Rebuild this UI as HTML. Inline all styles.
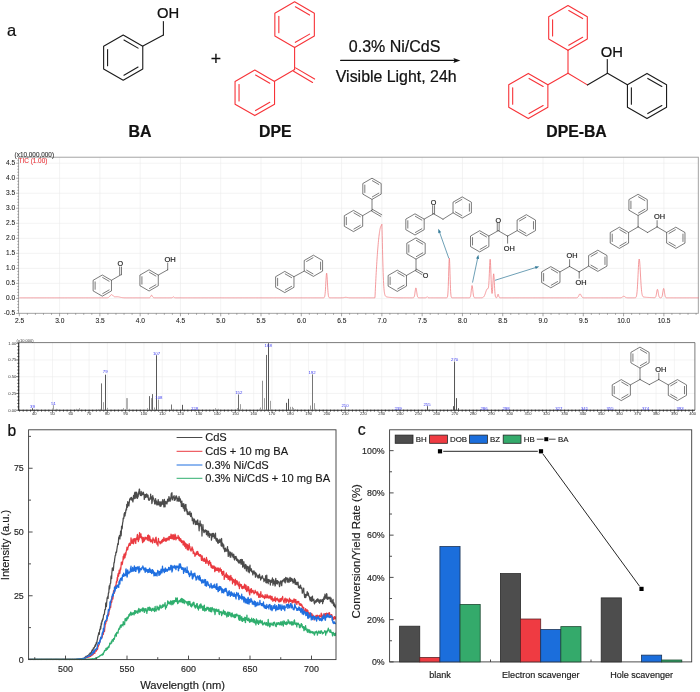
<!DOCTYPE html>
<html><head><meta charset="utf-8"><title>figure</title>
<style>html,body{margin:0;padding:0;background:#fff;}svg{display:block;font-family:"Liberation Sans",sans-serif;will-change:transform;filter:grayscale(0);}</style></head><body>
<svg width="700" height="692" viewBox="0 0 700 692">
<rect width="700" height="692" fill="#fff"/>
<g id="panel-a">
<text x="7" y="36.2" font-size="16.5" fill="#111" text-anchor="start" font-weight="normal" stroke="#111" stroke-width="0.22">a</text>
<path d="M123.2 35 L142.77 46.3 L142.77 68.9 L123.2 80.2 L103.63 68.9 L103.63 46.3 Z" fill="none" stroke="#1a1a1a" stroke-width="1.1" stroke-linejoin="round"/>
<line x1="123.96" y1="40.01" x2="138.05" y2="48.14" stroke="#1a1a1a" stroke-width="1.1" stroke-linecap="round"/>
<line x1="138.05" y1="67.06" x2="123.96" y2="75.19" stroke="#1a1a1a" stroke-width="1.1" stroke-linecap="round"/>
<line x1="107.58" y1="65.74" x2="107.58" y2="49.46" stroke="#1a1a1a" stroke-width="1.1" stroke-linecap="round"/>
<line x1="142.9" y1="46" x2="163.4" y2="34.9" stroke="#1a1a1a" stroke-width="1.1" stroke-linecap="round"/>
<line x1="163.4" y1="34.9" x2="163.4" y2="21.5" stroke="#1a1a1a" stroke-width="1.1" stroke-linecap="round"/>
<text x="157" y="18" font-size="14.8" fill="#111" text-anchor="start" font-weight="normal" stroke="#111" stroke-width="0.22">OH</text>
<text x="139.9" y="137.2" font-size="15.9" fill="#111" text-anchor="middle" font-weight="bold" stroke="#111" stroke-width="0.22">BA</text>
<text x="215.8" y="65.1" font-size="17.7" fill="#111" text-anchor="middle" font-weight="normal" stroke="#111" stroke-width="0.22">+</text>
<path d="M294.6 1.8 L314.35 13.2 L314.35 36 L294.6 47.4 L274.85 36 L274.85 13.2 Z" fill="none" stroke="#f73338" stroke-width="1.1" stroke-linejoin="round"/>
<line x1="295.37" y1="6.85" x2="309.59" y2="15.06" stroke="#f73338" stroke-width="1.1" stroke-linecap="round"/>
<line x1="309.59" y1="34.14" x2="295.37" y2="42.35" stroke="#f73338" stroke-width="1.1" stroke-linecap="round"/>
<line x1="278.84" y1="32.81" x2="278.84" y2="16.39" stroke="#f73338" stroke-width="1.1" stroke-linecap="round"/>
<line x1="294.6" y1="47.4" x2="294.6" y2="69.6" stroke="#f73338" stroke-width="1.1" stroke-linecap="round"/>
<path d="M254.8 70 L274.55 81.4 L274.55 104.2 L254.8 115.6 L235.05 104.2 L235.05 81.4 Z" fill="none" stroke="#f73338" stroke-width="1.1" stroke-linejoin="round"/>
<line x1="255.57" y1="75.05" x2="269.79" y2="83.26" stroke="#f73338" stroke-width="1.1" stroke-linecap="round"/>
<line x1="269.79" y1="102.34" x2="255.57" y2="110.55" stroke="#f73338" stroke-width="1.1" stroke-linecap="round"/>
<line x1="239.04" y1="101.01" x2="239.04" y2="84.59" stroke="#f73338" stroke-width="1.1" stroke-linecap="round"/>
<line x1="294.6" y1="69.6" x2="274.5" y2="81.3" stroke="#f73338" stroke-width="1.1" stroke-linecap="round"/>
<line x1="293.58" y1="71.32" x2="312.58" y2="82.52" stroke="#f73338" stroke-width="1.1" stroke-linecap="round"/>
<line x1="295.62" y1="67.88" x2="314.62" y2="79.08" stroke="#f73338" stroke-width="1.1" stroke-linecap="round"/>
<text x="275.3" y="137.2" font-size="15.8" fill="#111" text-anchor="middle" font-weight="bold" stroke="#111" stroke-width="0.22">DPE</text>
<line x1="340.6" y1="60.4" x2="455" y2="60.4" stroke="#111" stroke-width="1.1" stroke-linecap="round"/>
<path d="M460.4 60.4 L453.4 57.9 L454.6 60.4 L453.4 62.9 Z" fill="#111"/>
<text x="394.6" y="52" font-size="16" fill="#111" text-anchor="middle" font-weight="normal" stroke="#111" stroke-width="0.22">0.3% Ni/CdS</text>
<text x="396.2" y="81.8" font-size="15.9" fill="#111" text-anchor="middle" font-weight="normal" stroke="#111" stroke-width="0.22">Visible Light, 24h</text>
<path d="M568 5.6 L587.31 16.75 L587.31 39.05 L568 50.2 L548.69 39.05 L548.69 16.75 Z" fill="none" stroke="#f73338" stroke-width="1.1" stroke-linejoin="round"/>
<line x1="568.75" y1="10.54" x2="582.66" y2="18.57" stroke="#f73338" stroke-width="1.1" stroke-linecap="round"/>
<line x1="582.66" y1="37.23" x2="568.75" y2="45.26" stroke="#f73338" stroke-width="1.1" stroke-linecap="round"/>
<line x1="552.59" y1="35.93" x2="552.59" y2="19.87" stroke="#f73338" stroke-width="1.1" stroke-linecap="round"/>
<line x1="568" y1="50.2" x2="568" y2="73.3" stroke="#f73338" stroke-width="1.1" stroke-linecap="round"/>
<path d="M528.3 73.4 L547.87 84.7 L547.87 107.3 L528.3 118.6 L508.73 107.3 L508.73 84.7 Z" fill="none" stroke="#f73338" stroke-width="1.1" stroke-linejoin="round"/>
<line x1="529.06" y1="78.41" x2="543.15" y2="86.54" stroke="#f73338" stroke-width="1.1" stroke-linecap="round"/>
<line x1="543.15" y1="105.46" x2="529.06" y2="113.59" stroke="#f73338" stroke-width="1.1" stroke-linecap="round"/>
<line x1="512.68" y1="104.14" x2="512.68" y2="87.86" stroke="#f73338" stroke-width="1.1" stroke-linecap="round"/>
<line x1="568" y1="73.3" x2="547.9" y2="84.7" stroke="#f73338" stroke-width="1.1" stroke-linecap="round"/>
<line x1="568" y1="73.3" x2="587.4" y2="84.9" stroke="#f73338" stroke-width="1.1" stroke-linecap="round"/>
<line x1="587.4" y1="84.9" x2="607.5" y2="73.3" stroke="#1a1a1a" stroke-width="1.1" stroke-linecap="round"/>
<line x1="607.3" y1="73.3" x2="607.3" y2="59.6" stroke="#1a1a1a" stroke-width="1.1" stroke-linecap="round"/>
<text x="600.8" y="56.6" font-size="14.8" fill="#111" text-anchor="start" font-weight="normal" stroke="#111" stroke-width="0.22">OH</text>
<line x1="607.5" y1="73.3" x2="627.4" y2="84.7" stroke="#1a1a1a" stroke-width="1.1" stroke-linecap="round"/>
<path d="M647 73.4 L666.57 84.7 L666.57 107.3 L647 118.6 L627.43 107.3 L627.43 84.7 Z" fill="none" stroke="#1a1a1a" stroke-width="1.1" stroke-linejoin="round"/>
<line x1="647.76" y1="78.41" x2="661.85" y2="86.54" stroke="#1a1a1a" stroke-width="1.1" stroke-linecap="round"/>
<line x1="661.85" y1="105.46" x2="647.76" y2="113.59" stroke="#1a1a1a" stroke-width="1.1" stroke-linecap="round"/>
<line x1="631.38" y1="104.14" x2="631.38" y2="87.86" stroke="#1a1a1a" stroke-width="1.1" stroke-linecap="round"/>
<text x="576.5" y="136.6" font-size="15.8" fill="#111" text-anchor="middle" font-weight="bold" stroke="#111" stroke-width="0.22">DPE-BA</text>
</g>
<g id="gc">
<path d="M59.58 157.2V313.3M99.87 157.2V313.3M140.16 157.2V313.3M180.44 157.2V313.3M220.72 157.2V313.3M261.01 157.2V313.3M301.3 157.2V313.3M341.58 157.2V313.3M381.86 157.2V313.3M422.15 157.2V313.3M462.44 157.2V313.3M502.72 157.2V313.3M543 157.2V313.3M583.29 157.2V313.3M623.57 157.2V313.3M663.86 157.2V313.3M18.6 298.4H698.3M18.6 283.38H698.3M18.6 268.36H698.3M18.6 253.34H698.3M18.6 238.32H698.3M18.6 223.3H698.3M18.6 208.28H698.3M18.6 193.26H698.3M18.6 178.24H698.3M18.6 163.22H698.3" stroke="#ebebeb" stroke-width="0.6" fill="none"/>
<rect x="18.6" y="157.2" width="679.7" height="156.1" fill="none" stroke="#9a9a9a" stroke-width="0.9"/>
<path d="M19.3 313.3v3M27.36 313.3v1.5M35.41 313.3v1.5M43.47 313.3v1.5M51.53 313.3v1.5M59.58 313.3v3M67.64 313.3v1.5M75.7 313.3v1.5M83.76 313.3v1.5M91.81 313.3v1.5M99.87 313.3v3M107.93 313.3v1.5M115.98 313.3v1.5M124.04 313.3v1.5M132.1 313.3v1.5M140.16 313.3v3M148.21 313.3v1.5M156.27 313.3v1.5M164.33 313.3v1.5M172.38 313.3v1.5M180.44 313.3v3M188.5 313.3v1.5M196.55 313.3v1.5M204.61 313.3v1.5M212.67 313.3v1.5M220.72 313.3v3M228.78 313.3v1.5M236.84 313.3v1.5M244.9 313.3v1.5M252.95 313.3v1.5M261.01 313.3v3M269.07 313.3v1.5M277.12 313.3v1.5M285.18 313.3v1.5M293.24 313.3v1.5M301.3 313.3v3M309.35 313.3v1.5M317.41 313.3v1.5M325.47 313.3v1.5M333.52 313.3v1.5M341.58 313.3v3M349.64 313.3v1.5M357.69 313.3v1.5M365.75 313.3v1.5M373.81 313.3v1.5M381.86 313.3v3M389.92 313.3v1.5M397.98 313.3v1.5M406.04 313.3v1.5M414.09 313.3v1.5M422.15 313.3v3M430.21 313.3v1.5M438.26 313.3v1.5M446.32 313.3v1.5M454.38 313.3v1.5M462.44 313.3v3M470.49 313.3v1.5M478.55 313.3v1.5M486.61 313.3v1.5M494.66 313.3v1.5M502.72 313.3v3M510.78 313.3v1.5M518.83 313.3v1.5M526.89 313.3v1.5M534.95 313.3v1.5M543 313.3v3M551.06 313.3v1.5M559.12 313.3v1.5M567.18 313.3v1.5M575.23 313.3v1.5M583.29 313.3v3M591.35 313.3v1.5M599.4 313.3v1.5M607.46 313.3v1.5M615.52 313.3v1.5M623.57 313.3v3M631.63 313.3v1.5M639.69 313.3v1.5M647.75 313.3v1.5M655.8 313.3v1.5M663.86 313.3v3M671.92 313.3v1.5M679.97 313.3v1.5M688.03 313.3v1.5M696.09 313.3v1.5M18.6 313.42h-2.4M18.6 310.42h-1.3M18.6 307.41h-1.3M18.6 304.41h-1.3M18.6 301.4h-1.3M18.6 298.4h-2.4M18.6 295.4h-1.3M18.6 292.39h-1.3M18.6 289.39h-1.3M18.6 286.38h-1.3M18.6 283.38h-2.4M18.6 280.38h-1.3M18.6 277.37h-1.3M18.6 274.37h-1.3M18.6 271.36h-1.3M18.6 268.36h-2.4M18.6 265.36h-1.3M18.6 262.35h-1.3M18.6 259.35h-1.3M18.6 256.34h-1.3M18.6 253.34h-2.4M18.6 250.34h-1.3M18.6 247.33h-1.3M18.6 244.33h-1.3M18.6 241.32h-1.3M18.6 238.32h-2.4M18.6 235.32h-1.3M18.6 232.31h-1.3M18.6 229.31h-1.3M18.6 226.3h-1.3M18.6 223.3h-2.4M18.6 220.3h-1.3M18.6 217.29h-1.3M18.6 214.29h-1.3M18.6 211.28h-1.3M18.6 208.28h-2.4M18.6 205.28h-1.3M18.6 202.27h-1.3M18.6 199.27h-1.3M18.6 196.26h-1.3M18.6 193.26h-2.4M18.6 190.26h-1.3M18.6 187.25h-1.3M18.6 184.25h-1.3M18.6 181.24h-1.3M18.6 178.24h-2.4M18.6 175.24h-1.3M18.6 172.23h-1.3M18.6 169.23h-1.3M18.6 166.22h-1.3M18.6 163.22h-2.4M18.6 160.22h-1.3" stroke="#6a6a6a" stroke-width="0.6" fill="none"/>
<text x="19.5" y="323.2" font-size="6.6" fill="#262626" text-anchor="middle" font-weight="normal" stroke="#262626" stroke-width="0.1">2.5</text>
<text x="59.78" y="323.2" font-size="6.6" fill="#262626" text-anchor="middle" font-weight="normal" stroke="#262626" stroke-width="0.1">3.0</text>
<text x="100.07" y="323.2" font-size="6.6" fill="#262626" text-anchor="middle" font-weight="normal" stroke="#262626" stroke-width="0.1">3.5</text>
<text x="140.35" y="323.2" font-size="6.6" fill="#262626" text-anchor="middle" font-weight="normal" stroke="#262626" stroke-width="0.1">4.0</text>
<text x="180.64" y="323.2" font-size="6.6" fill="#262626" text-anchor="middle" font-weight="normal" stroke="#262626" stroke-width="0.1">4.5</text>
<text x="220.92" y="323.2" font-size="6.6" fill="#262626" text-anchor="middle" font-weight="normal" stroke="#262626" stroke-width="0.1">5.0</text>
<text x="261.21" y="323.2" font-size="6.6" fill="#262626" text-anchor="middle" font-weight="normal" stroke="#262626" stroke-width="0.1">5.5</text>
<text x="301.5" y="323.2" font-size="6.6" fill="#262626" text-anchor="middle" font-weight="normal" stroke="#262626" stroke-width="0.1">6.0</text>
<text x="341.78" y="323.2" font-size="6.6" fill="#262626" text-anchor="middle" font-weight="normal" stroke="#262626" stroke-width="0.1">6.5</text>
<text x="382.06" y="323.2" font-size="6.6" fill="#262626" text-anchor="middle" font-weight="normal" stroke="#262626" stroke-width="0.1">7.0</text>
<text x="422.35" y="323.2" font-size="6.6" fill="#262626" text-anchor="middle" font-weight="normal" stroke="#262626" stroke-width="0.1">7.5</text>
<text x="462.63" y="323.2" font-size="6.6" fill="#262626" text-anchor="middle" font-weight="normal" stroke="#262626" stroke-width="0.1">8.0</text>
<text x="502.92" y="323.2" font-size="6.6" fill="#262626" text-anchor="middle" font-weight="normal" stroke="#262626" stroke-width="0.1">8.5</text>
<text x="543.2" y="323.2" font-size="6.6" fill="#262626" text-anchor="middle" font-weight="normal" stroke="#262626" stroke-width="0.1">9.0</text>
<text x="583.49" y="323.2" font-size="6.6" fill="#262626" text-anchor="middle" font-weight="normal" stroke="#262626" stroke-width="0.1">9.5</text>
<text x="623.77" y="323.2" font-size="6.6" fill="#262626" text-anchor="middle" font-weight="normal" stroke="#262626" stroke-width="0.1">10.0</text>
<text x="664.06" y="323.2" font-size="6.6" fill="#262626" text-anchor="middle" font-weight="normal" stroke="#262626" stroke-width="0.1">10.5</text>
<text x="15.2" y="315.42" font-size="6.6" fill="#262626" text-anchor="end" font-weight="normal" stroke="#262626" stroke-width="0.1">-0.5</text>
<text x="15.2" y="300.4" font-size="6.6" fill="#262626" text-anchor="end" font-weight="normal" stroke="#262626" stroke-width="0.1">0.0</text>
<text x="15.2" y="285.38" font-size="6.6" fill="#262626" text-anchor="end" font-weight="normal" stroke="#262626" stroke-width="0.1">0.5</text>
<text x="15.2" y="270.36" font-size="6.6" fill="#262626" text-anchor="end" font-weight="normal" stroke="#262626" stroke-width="0.1">1.0</text>
<text x="15.2" y="255.34" font-size="6.6" fill="#262626" text-anchor="end" font-weight="normal" stroke="#262626" stroke-width="0.1">1.5</text>
<text x="15.2" y="240.32" font-size="6.6" fill="#262626" text-anchor="end" font-weight="normal" stroke="#262626" stroke-width="0.1">2.0</text>
<text x="15.2" y="225.3" font-size="6.6" fill="#262626" text-anchor="end" font-weight="normal" stroke="#262626" stroke-width="0.1">2.5</text>
<text x="15.2" y="210.28" font-size="6.6" fill="#262626" text-anchor="end" font-weight="normal" stroke="#262626" stroke-width="0.1">3.0</text>
<text x="15.2" y="195.26" font-size="6.6" fill="#262626" text-anchor="end" font-weight="normal" stroke="#262626" stroke-width="0.1">3.5</text>
<text x="15.2" y="180.24" font-size="6.6" fill="#262626" text-anchor="end" font-weight="normal" stroke="#262626" stroke-width="0.1">4.0</text>
<text x="15.2" y="165.22" font-size="6.6" fill="#262626" text-anchor="end" font-weight="normal" stroke="#262626" stroke-width="0.1">4.5</text>
<text x="14.6" y="156.6" font-size="6.4" fill="#333" text-anchor="start" font-weight="normal" stroke="#333" stroke-width="0.1">(x10,000,000)</text>
<text x="18.6" y="163" font-size="6.4" fill="#e8383d" text-anchor="start" font-weight="normal" stroke="#e8383d" stroke-width="0.1">TIC (1.00)</text>
<path d="M19.3 297.8 L19.46 297.8 L19.62 297.8 L19.78 297.8 L19.94 297.8 L20.11 297.8 L20.27 297.8 L20.43 297.8 L20.59 297.8 L20.75 297.8 L20.91 297.8 L21.07 297.8 L21.23 297.8 L21.39 297.8 L21.56 297.8 L21.72 297.8 L21.88 297.8 L22.04 297.8 L22.2 297.8 L22.36 297.8 L22.52 297.8 L22.68 297.8 L22.85 297.8 L23.01 297.8 L23.17 297.8 L23.33 297.8 L23.49 297.8 L23.65 297.8 L23.81 297.8 L23.97 297.8 L24.13 297.8 L24.3 297.8 L24.46 297.8 L24.62 297.8 L24.78 297.8 L24.94 297.8 L25.1 297.8 L25.26 297.8 L25.42 297.8 L25.58 297.8 L25.75 297.8 L25.91 297.8 L26.07 297.8 L26.23 297.8 L26.39 297.8 L26.55 297.8 L26.71 297.8 L26.87 297.8 L27.03 297.8 L27.2 297.8 L27.36 297.8 L27.52 297.8 L27.68 297.8 L27.84 297.8 L28 297.8 L28.16 297.8 L28.32 297.8 L28.48 297.8 L28.65 297.8 L28.81 297.8 L28.97 297.8 L29.13 297.8 L29.29 297.8 L29.45 297.8 L29.61 297.8 L29.77 297.8 L29.94 297.8 L30.1 297.8 L30.26 297.8 L30.42 297.8 L30.58 297.8 L30.74 297.8 L30.9 297.8 L31.06 297.8 L31.22 297.8 L31.39 297.8 L31.55 297.8 L31.71 297.8 L31.87 297.8 L32.03 297.8 L32.19 297.8 L32.35 297.8 L32.51 297.8 L32.67 297.8 L32.84 297.8 L33 297.8 L33.16 297.8 L33.32 297.8 L33.48 297.8 L33.64 297.8 L33.8 297.8 L33.96 297.8 L34.12 297.8 L34.29 297.8 L34.45 297.8 L34.61 297.8 L34.77 297.8 L34.93 297.8 L35.09 297.8 L35.25 297.8 L35.41 297.8 L35.58 297.8 L35.74 297.8 L35.9 297.8 L36.06 297.8 L36.22 297.8 L36.38 297.8 L36.54 297.8 L36.7 297.8 L36.86 297.8 L37.03 297.8 L37.19 297.8 L37.35 297.8 L37.51 297.8 L37.67 297.8 L37.83 297.8 L37.99 297.8 L38.15 297.8 L38.31 297.8 L38.48 297.8 L38.64 297.8 L38.8 297.8 L38.96 297.8 L39.12 297.8 L39.28 297.8 L39.44 297.8 L39.6 297.8 L39.76 297.8 L39.93 297.8 L40.09 297.8 L40.25 297.8 L40.41 297.8 L40.57 297.8 L40.73 297.8 L40.89 297.8 L41.05 297.8 L41.22 297.8 L41.38 297.8 L41.54 297.8 L41.7 297.8 L41.86 297.8 L42.02 297.8 L42.18 297.8 L42.34 297.8 L42.5 297.8 L42.67 297.8 L42.83 297.8 L42.99 297.8 L43.15 297.8 L43.31 297.8 L43.47 297.8 L43.63 297.8 L43.79 297.8 L43.95 297.8 L44.12 297.8 L44.28 297.8 L44.44 297.8 L44.6 297.8 L44.76 297.8 L44.92 297.8 L45.08 297.8 L45.24 297.8 L45.4 297.8 L45.57 297.8 L45.73 297.8 L45.89 297.8 L46.05 297.8 L46.21 297.8 L46.37 297.8 L46.53 297.8 L46.69 297.8 L46.85 297.8 L47.02 297.8 L47.18 297.8 L47.34 297.8 L47.5 297.8 L47.66 297.8 L47.82 297.8 L47.98 297.8 L48.14 297.8 L48.31 297.8 L48.47 297.8 L48.63 297.8 L48.79 297.8 L48.95 297.8 L49.11 297.8 L49.27 297.8 L49.43 297.8 L49.59 297.8 L49.76 297.8 L49.92 297.8 L50.08 297.8 L50.24 297.8 L50.4 297.8 L50.56 297.8 L50.72 297.8 L50.88 297.8 L51.04 297.8 L51.21 297.8 L51.37 297.8 L51.53 297.8 L51.69 297.8 L51.85 297.8 L52.01 297.8 L52.17 297.8 L52.33 297.8 L52.49 297.8 L52.66 297.8 L52.82 297.8 L52.98 297.8 L53.14 297.8 L53.3 297.8 L53.46 297.8 L53.62 297.8 L53.78 297.8 L53.95 297.8 L54.11 297.8 L54.27 297.8 L54.43 297.8 L54.59 297.8 L54.75 297.8 L54.91 297.8 L55.07 297.8 L55.23 297.8 L55.4 297.8 L55.56 297.8 L55.72 297.8 L55.88 297.8 L56.04 297.8 L56.2 297.8 L56.36 297.8 L56.52 297.8 L56.68 297.8 L56.85 297.8 L57.01 297.8 L57.17 297.8 L57.33 297.8 L57.49 297.8 L57.65 297.8 L57.81 297.8 L57.97 297.8 L58.13 297.8 L58.3 297.8 L58.46 297.8 L58.62 297.8 L58.78 297.8 L58.94 297.8 L59.1 297.8 L59.26 297.8 L59.42 297.8 L59.58 297.8 L59.75 297.8 L59.91 297.8 L60.07 297.8 L60.23 297.8 L60.39 297.8 L60.55 297.8 L60.71 297.8 L60.87 297.8 L61.04 297.8 L61.2 297.8 L61.36 297.8 L61.52 297.8 L61.68 297.8 L61.84 297.8 L62 297.8 L62.16 297.8 L62.32 297.8 L62.49 297.8 L62.65 297.8 L62.81 297.8 L62.97 297.8 L63.13 297.8 L63.29 297.8 L63.45 297.8 L63.61 297.8 L63.77 297.8 L63.94 297.8 L64.1 297.8 L64.26 297.8 L64.42 297.8 L64.58 297.8 L64.74 297.8 L64.9 297.8 L65.06 297.8 L65.22 297.8 L65.39 297.8 L65.55 297.8 L65.71 297.8 L65.87 297.8 L66.03 297.8 L66.19 297.8 L66.35 297.8 L66.51 297.8 L66.68 297.8 L66.84 297.8 L67 297.8 L67.16 297.8 L67.32 297.8 L67.48 297.8 L67.64 297.8 L67.8 297.8 L67.96 297.8 L68.13 297.8 L68.29 297.8 L68.45 297.8 L68.61 297.8 L68.77 297.8 L68.93 297.8 L69.09 297.8 L69.25 297.8 L69.41 297.8 L69.58 297.8 L69.74 297.8 L69.9 297.8 L70.06 297.8 L70.22 297.8 L70.38 297.8 L70.54 297.8 L70.7 297.8 L70.86 297.8 L71.03 297.8 L71.19 297.8 L71.35 297.8 L71.51 297.8 L71.67 297.8 L71.83 297.8 L71.99 297.8 L72.15 297.8 L72.32 297.8 L72.48 297.8 L72.64 297.8 L72.8 297.8 L72.96 297.8 L73.12 297.8 L73.28 297.8 L73.44 297.8 L73.6 297.8 L73.77 297.8 L73.93 297.8 L74.09 297.8 L74.25 297.8 L74.41 297.8 L74.57 297.8 L74.73 297.8 L74.89 297.8 L75.05 297.8 L75.22 297.8 L75.38 297.8 L75.54 297.8 L75.7 297.8 L75.86 297.8 L76.02 297.8 L76.18 297.8 L76.34 297.8 L76.5 297.8 L76.67 297.8 L76.83 297.8 L76.99 297.8 L77.15 297.8 L77.31 297.8 L77.47 297.8 L77.63 297.8 L77.79 297.8 L77.95 297.8 L78.12 297.8 L78.28 297.8 L78.44 297.8 L78.6 297.8 L78.76 297.8 L78.92 297.8 L79.08 297.8 L79.24 297.8 L79.41 297.8 L79.57 297.8 L79.73 297.8 L79.89 297.8 L80.05 297.8 L80.21 297.8 L80.37 297.8 L80.53 297.8 L80.69 297.8 L80.86 297.8 L81.02 297.8 L81.18 297.8 L81.34 297.8 L81.5 297.8 L81.66 297.8 L81.82 297.8 L81.98 297.8 L82.14 297.8 L82.31 297.8 L82.47 297.8 L82.63 297.8 L82.79 297.8 L82.95 297.8 L83.11 297.8 L83.27 297.8 L83.43 297.8 L83.59 297.8 L83.76 297.8 L83.92 297.8 L84.08 297.8 L84.24 297.8 L84.4 297.8 L84.56 297.8 L84.72 297.8 L84.88 297.8 L85.05 297.8 L85.21 297.8 L85.37 297.8 L85.53 297.8 L85.69 297.8 L85.85 297.8 L86.01 297.8 L86.17 297.8 L86.33 297.8 L86.5 297.8 L86.66 297.8 L86.82 297.8 L86.98 297.8 L87.14 297.8 L87.3 297.8 L87.46 297.8 L87.62 297.8 L87.78 297.8 L87.95 297.8 L88.11 297.8 L88.27 297.8 L88.43 297.8 L88.59 297.8 L88.75 297.8 L88.91 297.8 L89.07 297.8 L89.23 297.8 L89.4 297.8 L89.56 297.8 L89.72 297.8 L89.88 297.8 L90.04 297.8 L90.2 297.8 L90.36 297.8 L90.52 297.8 L90.69 297.8 L90.85 297.8 L91.01 297.8 L91.17 297.8 L91.33 297.8 L91.49 297.8 L91.65 297.8 L91.81 297.8 L91.97 297.8 L92.14 297.8 L92.3 297.8 L92.46 297.8 L92.62 297.8 L92.78 297.8 L92.94 297.8 L93.1 297.8 L93.26 297.8 L93.42 297.8 L93.59 297.8 L93.75 297.8 L93.91 297.8 L94.07 297.8 L94.23 297.8 L94.39 297.8 L94.55 297.8 L94.71 297.8 L94.87 297.8 L95.04 297.8 L95.2 297.8 L95.36 297.8 L95.52 297.8 L95.68 297.8 L95.84 297.8 L96 297.8 L96.16 297.8 L96.32 297.8 L96.49 297.8 L96.65 297.8 L96.81 297.8 L96.97 297.8 L97.13 297.8 L97.29 297.8 L97.45 297.8 L97.61 297.8 L97.78 297.8 L97.94 297.8 L98.1 297.8 L98.26 297.8 L98.42 297.8 L98.58 297.8 L98.74 297.8 L98.9 297.8 L99.06 297.8 L99.23 297.8 L99.39 297.8 L99.55 297.8 L99.71 297.8 L99.87 297.8 L100.03 297.8 L100.19 297.8 L100.35 297.8 L100.51 297.8 L100.68 297.8 L100.84 297.8 L101 297.8 L101.16 297.8 L101.32 297.8 L101.48 297.8 L101.64 297.8 L101.8 297.8 L101.96 297.8 L102.13 297.8 L102.29 297.8 L102.45 297.8 L102.61 297.8 L102.77 297.8 L102.93 297.8 L103.09 297.8 L103.25 297.8 L103.42 297.8 L103.58 297.8 L103.74 297.8 L103.9 297.8 L104.06 297.8 L104.22 297.8 L104.38 297.8 L104.54 297.8 L104.7 297.8 L104.87 297.8 L105.03 297.8 L105.19 297.8 L105.35 297.8 L105.51 297.8 L105.67 297.8 L105.83 297.8 L105.99 297.8 L106.15 297.8 L106.32 297.79 L106.48 297.79 L106.64 297.79 L106.8 297.78 L106.96 297.78 L107.12 297.77 L107.28 297.75 L107.44 297.74 L107.6 297.72 L107.77 297.69 L107.93 297.65 L108.09 297.61 L108.25 297.55 L108.41 297.48 L108.57 297.4 L108.73 297.31 L108.89 297.19 L109.05 297.06 L109.22 296.92 L109.38 296.76 L109.54 296.58 L109.7 296.39 L109.86 296.19 L110.02 295.98 L110.18 295.77 L110.34 295.56 L110.51 295.36 L110.67 295.18 L110.83 295.02 L110.99 294.88 L111.15 294.76 L111.31 294.69 L111.47 294.64 L111.63 294.63 L111.79 294.66 L111.96 294.72 L112.12 294.81 L112.28 294.93 L112.44 295.06 L112.6 295.22 L112.76 295.38 L112.92 295.56 L113.08 295.73 L113.24 295.89 L113.41 296.05 L113.57 296.19 L113.73 296.33 L113.89 296.44 L114.05 296.54 L114.21 296.62 L114.37 296.69 L114.53 296.74 L114.69 296.77 L114.86 296.8 L115.02 296.81 L115.18 296.82 L115.34 296.82 L115.5 296.82 L115.66 296.81 L115.82 296.8 L115.98 296.79 L116.15 296.78 L116.31 296.77 L116.47 296.76 L116.63 296.75 L116.79 296.75 L116.95 296.75 L117.11 296.75 L117.27 296.75 L117.43 296.76 L117.6 296.77 L117.76 296.79 L117.92 296.8 L118.08 296.82 L118.24 296.85 L118.4 296.87 L118.56 296.9 L118.72 296.93 L118.88 296.96 L119.05 296.99 L119.21 297.03 L119.37 297.06 L119.53 297.1 L119.69 297.13 L119.85 297.17 L120.01 297.21 L120.17 297.24 L120.33 297.28 L120.5 297.31 L120.66 297.35 L120.82 297.38 L120.98 297.41 L121.14 297.44 L121.3 297.47 L121.46 297.5 L121.62 297.53 L121.79 297.55 L121.95 297.57 L122.11 297.6 L122.27 297.62 L122.43 297.64 L122.59 297.65 L122.75 297.67 L122.91 297.68 L123.07 297.7 L123.24 297.71 L123.4 297.72 L123.56 297.73 L123.72 297.74 L123.88 297.75 L124.04 297.75 L124.2 297.76 L124.36 297.76 L124.52 297.77 L124.69 297.77 L124.85 297.78 L125.01 297.78 L125.17 297.78 L125.33 297.79 L125.49 297.79 L125.65 297.79 L125.81 297.79 L125.97 297.79 L126.14 297.79 L126.3 297.79 L126.46 297.8 L126.62 297.8 L126.78 297.8 L126.94 297.8 L127.1 297.8 L127.26 297.8 L127.42 297.8 L127.59 297.8 L127.75 297.8 L127.91 297.8 L128.07 297.8 L128.23 297.8 L128.39 297.8 L128.55 297.8 L128.71 297.8 L128.88 297.8 L129.04 297.8 L129.2 297.8 L129.36 297.8 L129.52 297.8 L129.68 297.8 L129.84 297.8 L130 297.8 L130.16 297.8 L130.33 297.8 L130.49 297.8 L130.65 297.8 L130.81 297.8 L130.97 297.8 L131.13 297.8 L131.29 297.8 L131.45 297.8 L131.61 297.8 L131.78 297.8 L131.94 297.8 L132.1 297.8 L132.26 297.8 L132.42 297.8 L132.58 297.8 L132.74 297.8 L132.9 297.8 L133.06 297.8 L133.23 297.8 L133.39 297.8 L133.55 297.8 L133.71 297.8 L133.87 297.8 L134.03 297.8 L134.19 297.8 L134.35 297.8 L134.52 297.8 L134.68 297.8 L134.84 297.8 L135 297.8 L135.16 297.8 L135.32 297.8 L135.48 297.8 L135.64 297.8 L135.8 297.8 L135.97 297.8 L136.13 297.8 L136.29 297.8 L136.45 297.8 L136.61 297.8 L136.77 297.8 L136.93 297.8 L137.09 297.8 L137.25 297.8 L137.42 297.8 L137.58 297.8 L137.74 297.8 L137.9 297.8 L138.06 297.8 L138.22 297.8 L138.38 297.8 L138.54 297.8 L138.7 297.8 L138.87 297.8 L139.03 297.8 L139.19 297.8 L139.35 297.8 L139.51 297.8 L139.67 297.8 L139.83 297.8 L139.99 297.8 L140.15 297.8 L140.32 297.8 L140.48 297.8 L140.64 297.8 L140.8 297.8 L140.96 297.8 L141.12 297.8 L141.28 297.8 L141.44 297.8 L141.61 297.8 L141.77 297.8 L141.93 297.8 L142.09 297.8 L142.25 297.8 L142.41 297.8 L142.57 297.8 L142.73 297.8 L142.89 297.8 L143.06 297.8 L143.22 297.8 L143.38 297.8 L143.54 297.8 L143.7 297.8 L143.86 297.8 L144.02 297.8 L144.18 297.8 L144.34 297.8 L144.51 297.8 L144.67 297.8 L144.83 297.8 L144.99 297.8 L145.15 297.8 L145.31 297.8 L145.47 297.8 L145.63 297.8 L145.79 297.8 L145.96 297.8 L146.12 297.8 L146.28 297.8 L146.44 297.8 L146.6 297.8 L146.76 297.8 L146.92 297.8 L147.08 297.8 L147.25 297.8 L147.41 297.8 L147.57 297.8 L147.73 297.8 L147.89 297.8 L148.05 297.8 L148.21 297.8 L148.37 297.8 L148.53 297.8 L148.7 297.8 L148.86 297.79 L149.02 297.79 L149.18 297.77 L149.34 297.76 L149.5 297.72 L149.66 297.67 L149.82 297.6 L149.98 297.49 L150.15 297.34 L150.31 297.14 L150.47 296.91 L150.63 296.63 L150.79 296.33 L150.95 296.02 L151.11 295.73 L151.27 295.49 L151.43 295.32 L151.6 295.25 L151.76 295.27 L151.92 295.4 L152.08 295.6 L152.24 295.87 L152.4 296.17 L152.56 296.48 L152.72 296.77 L152.89 297.03 L153.05 297.25 L153.21 297.42 L153.37 297.55 L153.53 297.64 L153.69 297.7 L153.85 297.74 L154.01 297.77 L154.17 297.78 L154.34 297.79 L154.5 297.79 L154.66 297.8 L154.82 297.8 L154.98 297.8 L155.14 297.8 L155.3 297.8 L155.46 297.8 L155.62 297.8 L155.79 297.8 L155.95 297.8 L156.11 297.8 L156.27 297.8 L156.43 297.8 L156.59 297.8 L156.75 297.8 L156.91 297.8 L157.07 297.8 L157.24 297.8 L157.4 297.8 L157.56 297.8 L157.72 297.8 L157.88 297.8 L158.04 297.8 L158.2 297.8 L158.36 297.8 L158.52 297.8 L158.69 297.8 L158.85 297.8 L159.01 297.8 L159.17 297.8 L159.33 297.8 L159.49 297.8 L159.65 297.8 L159.81 297.8 L159.98 297.8 L160.14 297.8 L160.3 297.8 L160.46 297.8 L160.62 297.8 L160.78 297.8 L160.94 297.8 L161.1 297.8 L161.26 297.8 L161.43 297.8 L161.59 297.8 L161.75 297.8 L161.91 297.8 L162.07 297.8 L162.23 297.8 L162.39 297.8 L162.55 297.8 L162.71 297.8 L162.88 297.8 L163.04 297.8 L163.2 297.8 L163.36 297.8 L163.52 297.8 L163.68 297.8 L163.84 297.8 L164 297.8 L164.16 297.8 L164.33 297.8 L164.49 297.8 L164.65 297.8 L164.81 297.8 L164.97 297.8 L165.13 297.8 L165.29 297.8 L165.45 297.8 L165.62 297.8 L165.78 297.8 L165.94 297.8 L166.1 297.8 L166.26 297.8 L166.42 297.8 L166.58 297.8 L166.74 297.8 L166.9 297.8 L167.07 297.8 L167.23 297.8 L167.39 297.8 L167.55 297.8 L167.71 297.8 L167.87 297.8 L168.03 297.8 L168.19 297.8 L168.35 297.8 L168.52 297.8 L168.68 297.8 L168.84 297.8 L169 297.8 L169.16 297.8 L169.32 297.8 L169.48 297.8 L169.64 297.8 L169.8 297.8 L169.97 297.8 L170.13 297.8 L170.29 297.8 L170.45 297.8 L170.61 297.8 L170.77 297.8 L170.93 297.8 L171.09 297.8 L171.26 297.8 L171.42 297.79 L171.58 297.78 L171.74 297.77 L171.9 297.74 L172.06 297.69 L172.22 297.62 L172.38 297.53 L172.54 297.42 L172.71 297.29 L172.87 297.15 L173.03 297.03 L173.19 296.94 L173.35 296.9 L173.51 296.91 L173.67 296.98 L173.83 297.09 L173.99 297.22 L174.16 297.35 L174.32 297.48 L174.48 297.58 L174.64 297.66 L174.8 297.72 L174.96 297.75 L175.12 297.77 L175.28 297.79 L175.44 297.79 L175.61 297.8 L175.77 297.8 L175.93 297.8 L176.09 297.8 L176.25 297.8 L176.41 297.8 L176.57 297.8 L176.73 297.8 L176.89 297.8 L177.06 297.8 L177.22 297.8 L177.38 297.8 L177.54 297.8 L177.7 297.8 L177.86 297.8 L178.02 297.8 L178.18 297.8 L178.35 297.8 L178.51 297.8 L178.67 297.8 L178.83 297.8 L178.99 297.8 L179.15 297.8 L179.31 297.8 L179.47 297.8 L179.63 297.8 L179.8 297.8 L179.96 297.8 L180.12 297.8 L180.28 297.8 L180.44 297.8 L180.6 297.8 L180.76 297.8 L180.92 297.8 L181.08 297.8 L181.25 297.8 L181.41 297.8 L181.57 297.8 L181.73 297.8 L181.89 297.8 L182.05 297.8 L182.21 297.8 L182.37 297.8 L182.53 297.8 L182.7 297.8 L182.86 297.8 L183.02 297.8 L183.18 297.8 L183.34 297.8 L183.5 297.8 L183.66 297.8 L183.82 297.8 L183.99 297.8 L184.15 297.8 L184.31 297.8 L184.47 297.8 L184.63 297.8 L184.79 297.8 L184.95 297.8 L185.11 297.8 L185.27 297.8 L185.44 297.8 L185.6 297.8 L185.76 297.8 L185.92 297.8 L186.08 297.8 L186.24 297.8 L186.4 297.8 L186.56 297.8 L186.72 297.8 L186.89 297.8 L187.05 297.8 L187.21 297.8 L187.37 297.8 L187.53 297.8 L187.69 297.8 L187.85 297.8 L188.01 297.8 L188.17 297.8 L188.34 297.8 L188.5 297.8 L188.66 297.8 L188.82 297.8 L188.98 297.8 L189.14 297.8 L189.3 297.8 L189.46 297.8 L189.62 297.8 L189.79 297.8 L189.95 297.8 L190.11 297.8 L190.27 297.8 L190.43 297.8 L190.59 297.8 L190.75 297.8 L190.91 297.8 L191.08 297.8 L191.24 297.8 L191.4 297.8 L191.56 297.8 L191.72 297.8 L191.88 297.8 L192.04 297.8 L192.2 297.8 L192.36 297.8 L192.53 297.8 L192.69 297.8 L192.85 297.8 L193.01 297.8 L193.17 297.8 L193.33 297.8 L193.49 297.8 L193.65 297.8 L193.81 297.8 L193.98 297.8 L194.14 297.8 L194.3 297.8 L194.46 297.8 L194.62 297.8 L194.78 297.8 L194.94 297.8 L195.1 297.8 L195.26 297.8 L195.43 297.8 L195.59 297.8 L195.75 297.8 L195.91 297.8 L196.07 297.8 L196.23 297.8 L196.39 297.8 L196.55 297.8 L196.72 297.8 L196.88 297.8 L197.04 297.8 L197.2 297.8 L197.36 297.8 L197.52 297.8 L197.68 297.8 L197.84 297.8 L198 297.8 L198.17 297.8 L198.33 297.8 L198.49 297.8 L198.65 297.8 L198.81 297.8 L198.97 297.8 L199.13 297.8 L199.29 297.8 L199.45 297.8 L199.62 297.8 L199.78 297.8 L199.94 297.8 L200.1 297.8 L200.26 297.8 L200.42 297.8 L200.58 297.8 L200.74 297.8 L200.9 297.8 L201.07 297.8 L201.23 297.8 L201.39 297.8 L201.55 297.8 L201.71 297.8 L201.87 297.8 L202.03 297.8 L202.19 297.8 L202.36 297.8 L202.52 297.8 L202.68 297.8 L202.84 297.8 L203 297.8 L203.16 297.8 L203.32 297.8 L203.48 297.8 L203.64 297.8 L203.81 297.8 L203.97 297.8 L204.13 297.8 L204.29 297.8 L204.45 297.8 L204.61 297.8 L204.77 297.8 L204.93 297.8 L205.09 297.8 L205.26 297.8 L205.42 297.8 L205.58 297.8 L205.74 297.8 L205.9 297.8 L206.06 297.8 L206.22 297.8 L206.38 297.8 L206.54 297.8 L206.71 297.8 L206.87 297.8 L207.03 297.8 L207.19 297.8 L207.35 297.8 L207.51 297.8 L207.67 297.8 L207.83 297.8 L207.99 297.8 L208.16 297.8 L208.32 297.8 L208.48 297.8 L208.64 297.8 L208.8 297.8 L208.96 297.8 L209.12 297.8 L209.28 297.8 L209.45 297.8 L209.61 297.8 L209.77 297.8 L209.93 297.8 L210.09 297.8 L210.25 297.8 L210.41 297.8 L210.57 297.8 L210.73 297.8 L210.9 297.8 L211.06 297.8 L211.22 297.8 L211.38 297.8 L211.54 297.8 L211.7 297.8 L211.86 297.8 L212.02 297.8 L212.18 297.8 L212.35 297.8 L212.51 297.8 L212.67 297.8 L212.83 297.8 L212.99 297.8 L213.15 297.8 L213.31 297.8 L213.47 297.8 L213.63 297.8 L213.8 297.8 L213.96 297.8 L214.12 297.8 L214.28 297.8 L214.44 297.8 L214.6 297.8 L214.76 297.8 L214.92 297.8 L215.09 297.8 L215.25 297.8 L215.41 297.8 L215.57 297.8 L215.73 297.8 L215.89 297.8 L216.05 297.8 L216.21 297.8 L216.37 297.8 L216.54 297.8 L216.7 297.8 L216.86 297.8 L217.02 297.8 L217.18 297.8 L217.34 297.8 L217.5 297.8 L217.66 297.8 L217.82 297.8 L217.99 297.8 L218.15 297.8 L218.31 297.8 L218.47 297.8 L218.63 297.8 L218.79 297.8 L218.95 297.8 L219.11 297.8 L219.27 297.8 L219.44 297.8 L219.6 297.8 L219.76 297.8 L219.92 297.8 L220.08 297.8 L220.24 297.8 L220.4 297.8 L220.56 297.8 L220.72 297.8 L220.89 297.8 L221.05 297.8 L221.21 297.8 L221.37 297.8 L221.53 297.8 L221.69 297.8 L221.85 297.8 L222.01 297.8 L222.18 297.8 L222.34 297.8 L222.5 297.8 L222.66 297.8 L222.82 297.8 L222.98 297.8 L223.14 297.8 L223.3 297.8 L223.46 297.8 L223.63 297.8 L223.79 297.8 L223.95 297.8 L224.11 297.8 L224.27 297.8 L224.43 297.8 L224.59 297.8 L224.75 297.8 L224.91 297.8 L225.08 297.8 L225.24 297.8 L225.4 297.8 L225.56 297.8 L225.72 297.8 L225.88 297.8 L226.04 297.8 L226.2 297.8 L226.36 297.8 L226.53 297.8 L226.69 297.8 L226.85 297.8 L227.01 297.8 L227.17 297.8 L227.33 297.8 L227.49 297.8 L227.65 297.8 L227.82 297.8 L227.98 297.8 L228.14 297.8 L228.3 297.8 L228.46 297.8 L228.62 297.8 L228.78 297.8 L228.94 297.8 L229.1 297.8 L229.27 297.8 L229.43 297.8 L229.59 297.8 L229.75 297.8 L229.91 297.8 L230.07 297.8 L230.23 297.8 L230.39 297.8 L230.55 297.8 L230.72 297.8 L230.88 297.8 L231.04 297.8 L231.2 297.8 L231.36 297.8 L231.52 297.8 L231.68 297.8 L231.84 297.8 L232 297.8 L232.17 297.8 L232.33 297.8 L232.49 297.8 L232.65 297.8 L232.81 297.8 L232.97 297.8 L233.13 297.8 L233.29 297.8 L233.46 297.8 L233.62 297.8 L233.78 297.8 L233.94 297.8 L234.1 297.8 L234.26 297.8 L234.42 297.8 L234.58 297.8 L234.74 297.8 L234.91 297.8 L235.07 297.8 L235.23 297.8 L235.39 297.8 L235.55 297.8 L235.71 297.8 L235.87 297.8 L236.03 297.8 L236.19 297.8 L236.36 297.8 L236.52 297.8 L236.68 297.8 L236.84 297.8 L237 297.8 L237.16 297.8 L237.32 297.8 L237.48 297.8 L237.64 297.8 L237.81 297.8 L237.97 297.8 L238.13 297.8 L238.29 297.8 L238.45 297.8 L238.61 297.8 L238.77 297.8 L238.93 297.8 L239.09 297.8 L239.26 297.8 L239.42 297.8 L239.58 297.8 L239.74 297.8 L239.9 297.8 L240.06 297.8 L240.22 297.8 L240.38 297.8 L240.55 297.8 L240.71 297.8 L240.87 297.8 L241.03 297.8 L241.19 297.8 L241.35 297.8 L241.51 297.8 L241.67 297.8 L241.83 297.8 L242 297.8 L242.16 297.8 L242.32 297.8 L242.48 297.8 L242.64 297.8 L242.8 297.8 L242.96 297.8 L243.12 297.8 L243.28 297.8 L243.45 297.8 L243.61 297.8 L243.77 297.8 L243.93 297.8 L244.09 297.8 L244.25 297.8 L244.41 297.8 L244.57 297.8 L244.73 297.8 L244.9 297.8 L245.06 297.8 L245.22 297.8 L245.38 297.8 L245.54 297.8 L245.7 297.8 L245.86 297.8 L246.02 297.8 L246.19 297.8 L246.35 297.8 L246.51 297.8 L246.67 297.8 L246.83 297.8 L246.99 297.8 L247.15 297.8 L247.31 297.8 L247.47 297.8 L247.64 297.8 L247.8 297.8 L247.96 297.8 L248.12 297.8 L248.28 297.8 L248.44 297.8 L248.6 297.8 L248.76 297.8 L248.92 297.8 L249.09 297.8 L249.25 297.8 L249.41 297.8 L249.57 297.8 L249.73 297.8 L249.89 297.8 L250.05 297.8 L250.21 297.8 L250.37 297.8 L250.54 297.8 L250.7 297.8 L250.86 297.8 L251.02 297.8 L251.18 297.8 L251.34 297.8 L251.5 297.8 L251.66 297.8 L251.83 297.8 L251.99 297.8 L252.15 297.8 L252.31 297.8 L252.47 297.8 L252.63 297.8 L252.79 297.8 L252.95 297.8 L253.11 297.8 L253.28 297.8 L253.44 297.8 L253.6 297.8 L253.76 297.8 L253.92 297.8 L254.08 297.8 L254.24 297.8 L254.4 297.8 L254.56 297.8 L254.73 297.8 L254.89 297.8 L255.05 297.8 L255.21 297.8 L255.37 297.8 L255.53 297.8 L255.69 297.8 L255.85 297.8 L256.01 297.8 L256.18 297.8 L256.34 297.8 L256.5 297.8 L256.66 297.8 L256.82 297.8 L256.98 297.8 L257.14 297.8 L257.3 297.8 L257.46 297.8 L257.63 297.8 L257.79 297.8 L257.95 297.8 L258.11 297.8 L258.27 297.8 L258.43 297.8 L258.59 297.8 L258.75 297.8 L258.92 297.8 L259.08 297.8 L259.24 297.8 L259.4 297.8 L259.56 297.8 L259.72 297.8 L259.88 297.8 L260.04 297.8 L260.2 297.8 L260.37 297.8 L260.53 297.8 L260.69 297.8 L260.85 297.8 L261.01 297.8 L261.17 297.8 L261.33 297.8 L261.49 297.8 L261.65 297.8 L261.82 297.8 L261.98 297.8 L262.14 297.8 L262.3 297.8 L262.46 297.8 L262.62 297.8 L262.78 297.8 L262.94 297.8 L263.1 297.8 L263.27 297.8 L263.43 297.8 L263.59 297.8 L263.75 297.8 L263.91 297.8 L264.07 297.8 L264.23 297.8 L264.39 297.8 L264.56 297.8 L264.72 297.8 L264.88 297.8 L265.04 297.8 L265.2 297.8 L265.36 297.8 L265.52 297.8 L265.68 297.8 L265.84 297.8 L266.01 297.8 L266.17 297.8 L266.33 297.8 L266.49 297.8 L266.65 297.8 L266.81 297.8 L266.97 297.8 L267.13 297.8 L267.29 297.8 L267.46 297.8 L267.62 297.8 L267.78 297.8 L267.94 297.8 L268.1 297.8 L268.26 297.8 L268.42 297.8 L268.58 297.8 L268.74 297.8 L268.91 297.8 L269.07 297.8 L269.23 297.8 L269.39 297.8 L269.55 297.8 L269.71 297.8 L269.87 297.8 L270.03 297.8 L270.19 297.8 L270.36 297.8 L270.52 297.8 L270.68 297.8 L270.84 297.8 L271 297.8 L271.16 297.8 L271.32 297.8 L271.48 297.8 L271.65 297.8 L271.81 297.8 L271.97 297.8 L272.13 297.8 L272.29 297.8 L272.45 297.8 L272.61 297.8 L272.77 297.8 L272.93 297.8 L273.1 297.8 L273.26 297.8 L273.42 297.8 L273.58 297.8 L273.74 297.8 L273.9 297.8 L274.06 297.8 L274.22 297.8 L274.38 297.8 L274.55 297.8 L274.71 297.8 L274.87 297.8 L275.03 297.8 L275.19 297.8 L275.35 297.8 L275.51 297.8 L275.67 297.8 L275.83 297.8 L276 297.8 L276.16 297.8 L276.32 297.8 L276.48 297.8 L276.64 297.8 L276.8 297.8 L276.96 297.8 L277.12 297.8 L277.29 297.8 L277.45 297.8 L277.61 297.8 L277.77 297.8 L277.93 297.8 L278.09 297.8 L278.25 297.8 L278.41 297.8 L278.57 297.8 L278.74 297.8 L278.9 297.8 L279.06 297.8 L279.22 297.8 L279.38 297.8 L279.54 297.8 L279.7 297.8 L279.86 297.8 L280.02 297.8 L280.19 297.8 L280.35 297.8 L280.51 297.8 L280.67 297.8 L280.83 297.8 L280.99 297.8 L281.15 297.8 L281.31 297.8 L281.47 297.8 L281.64 297.8 L281.8 297.8 L281.96 297.8 L282.12 297.8 L282.28 297.8 L282.44 297.8 L282.6 297.8 L282.76 297.8 L282.93 297.8 L283.09 297.8 L283.25 297.8 L283.41 297.8 L283.57 297.8 L283.73 297.8 L283.89 297.8 L284.05 297.8 L284.21 297.8 L284.38 297.8 L284.54 297.8 L284.7 297.8 L284.86 297.8 L285.02 297.8 L285.18 297.8 L285.34 297.8 L285.5 297.8 L285.66 297.8 L285.83 297.8 L285.99 297.8 L286.15 297.8 L286.31 297.8 L286.47 297.8 L286.63 297.8 L286.79 297.8 L286.95 297.8 L287.11 297.8 L287.28 297.8 L287.44 297.8 L287.6 297.8 L287.76 297.8 L287.92 297.8 L288.08 297.8 L288.24 297.8 L288.4 297.8 L288.56 297.8 L288.73 297.8 L288.89 297.8 L289.05 297.8 L289.21 297.8 L289.37 297.8 L289.53 297.8 L289.69 297.8 L289.85 297.8 L290.02 297.8 L290.18 297.8 L290.34 297.8 L290.5 297.8 L290.66 297.8 L290.82 297.8 L290.98 297.8 L291.14 297.8 L291.3 297.8 L291.47 297.8 L291.63 297.8 L291.79 297.8 L291.95 297.8 L292.11 297.8 L292.27 297.8 L292.43 297.8 L292.59 297.8 L292.75 297.8 L292.92 297.8 L293.08 297.8 L293.24 297.8 L293.4 297.8 L293.56 297.8 L293.72 297.8 L293.88 297.8 L294.04 297.8 L294.2 297.8 L294.37 297.8 L294.53 297.8 L294.69 297.8 L294.85 297.8 L295.01 297.8 L295.17 297.8 L295.33 297.8 L295.49 297.8 L295.66 297.8 L295.82 297.8 L295.98 297.8 L296.14 297.8 L296.3 297.8 L296.46 297.8 L296.62 297.8 L296.78 297.8 L296.94 297.8 L297.11 297.8 L297.27 297.8 L297.43 297.8 L297.59 297.8 L297.75 297.8 L297.91 297.8 L298.07 297.8 L298.23 297.8 L298.39 297.8 L298.56 297.8 L298.72 297.8 L298.88 297.8 L299.04 297.8 L299.2 297.8 L299.36 297.8 L299.52 297.8 L299.68 297.8 L299.84 297.8 L300.01 297.8 L300.17 297.8 L300.33 297.8 L300.49 297.8 L300.65 297.8 L300.81 297.8 L300.97 297.8 L301.13 297.8 L301.29 297.8 L301.46 297.8 L301.62 297.8 L301.78 297.8 L301.94 297.8 L302.1 297.8 L302.26 297.8 L302.42 297.8 L302.58 297.8 L302.75 297.8 L302.91 297.8 L303.07 297.8 L303.23 297.8 L303.39 297.8 L303.55 297.8 L303.71 297.8 L303.87 297.8 L304.03 297.8 L304.2 297.8 L304.36 297.8 L304.52 297.8 L304.68 297.8 L304.84 297.8 L305 297.8 L305.16 297.8 L305.32 297.8 L305.48 297.8 L305.65 297.8 L305.81 297.8 L305.97 297.8 L306.13 297.8 L306.29 297.8 L306.45 297.8 L306.61 297.8 L306.77 297.8 L306.93 297.8 L307.1 297.8 L307.26 297.8 L307.42 297.8 L307.58 297.8 L307.74 297.8 L307.9 297.8 L308.06 297.8 L308.22 297.8 L308.39 297.8 L308.55 297.8 L308.71 297.8 L308.87 297.8 L309.03 297.8 L309.19 297.8 L309.35 297.8 L309.51 297.8 L309.67 297.8 L309.84 297.8 L310 297.8 L310.16 297.8 L310.32 297.8 L310.48 297.8 L310.64 297.8 L310.8 297.8 L310.96 297.8 L311.12 297.8 L311.29 297.8 L311.45 297.8 L311.61 297.8 L311.77 297.8 L311.93 297.8 L312.09 297.8 L312.25 297.8 L312.41 297.8 L312.57 297.8 L312.74 297.8 L312.9 297.8 L313.06 297.8 L313.22 297.8 L313.38 297.8 L313.54 297.8 L313.7 297.8 L313.86 297.8 L314.03 297.8 L314.19 297.8 L314.35 297.8 L314.51 297.8 L314.67 297.8 L314.83 297.8 L314.99 297.8 L315.15 297.8 L315.31 297.8 L315.48 297.8 L315.64 297.8 L315.8 297.8 L315.96 297.8 L316.12 297.8 L316.28 297.8 L316.44 297.8 L316.6 297.8 L316.76 297.8 L316.93 297.8 L317.09 297.8 L317.25 297.8 L317.41 297.8 L317.57 297.8 L317.73 297.8 L317.89 297.8 L318.05 297.8 L318.21 297.8 L318.38 297.8 L318.54 297.8 L318.7 297.8 L318.86 297.8 L319.02 297.8 L319.18 297.8 L319.34 297.8 L319.5 297.8 L319.66 297.8 L319.83 297.8 L319.99 297.8 L320.15 297.8 L320.31 297.8 L320.47 297.8 L320.63 297.8 L320.79 297.8 L320.95 297.8 L321.12 297.8 L321.28 297.8 L321.44 297.8 L321.6 297.8 L321.76 297.8 L321.92 297.8 L322.08 297.8 L322.24 297.8 L322.4 297.8 L322.57 297.8 L322.73 297.8 L322.89 297.8 L323.05 297.8 L323.21 297.8 L323.37 297.79 L323.53 297.78 L323.69 297.77 L323.85 297.74 L324.02 297.67 L324.18 297.56 L324.34 297.37 L324.5 297.06 L324.66 296.57 L324.82 295.84 L324.98 294.79 L325.14 293.35 L325.3 291.48 L325.47 289.19 L325.63 286.52 L325.79 283.61 L325.95 280.63 L326.11 277.86 L326.27 275.54 L326.43 273.92 L326.59 273.2 L326.76 273.44 L326.92 274.63 L327.08 276.62 L327.24 279.21 L327.4 282.11 L327.56 285.08 L327.72 287.9 L327.88 290.39 L328.04 292.47 L328.21 294.12 L328.37 295.36 L328.53 296.24 L328.69 296.85 L328.85 297.24 L329.01 297.48 L329.17 297.63 L329.33 297.71 L329.49 297.75 L329.66 297.78 L329.82 297.79 L329.98 297.79 L330.14 297.8 L330.3 297.8 L330.46 297.8 L330.62 297.8 L330.78 297.8 L330.94 297.8 L331.11 297.8 L331.27 297.8 L331.43 297.8 L331.59 297.8 L331.75 297.8 L331.91 297.8 L332.07 297.8 L332.23 297.8 L332.4 297.8 L332.56 297.8 L332.72 297.8 L332.88 297.8 L333.04 297.8 L333.2 297.8 L333.36 297.8 L333.52 297.8 L333.68 297.8 L333.85 297.8 L334.01 297.8 L334.17 297.8 L334.33 297.8 L334.49 297.8 L334.65 297.8 L334.81 297.8 L334.97 297.8 L335.13 297.8 L335.3 297.8 L335.46 297.8 L335.62 297.8 L335.78 297.8 L335.94 297.8 L336.1 297.8 L336.26 297.8 L336.42 297.8 L336.58 297.8 L336.75 297.8 L336.91 297.8 L337.07 297.8 L337.23 297.8 L337.39 297.8 L337.55 297.8 L337.71 297.8 L337.87 297.8 L338.03 297.8 L338.2 297.8 L338.36 297.8 L338.52 297.8 L338.68 297.8 L338.84 297.8 L339 297.8 L339.16 297.8 L339.32 297.8 L339.49 297.8 L339.65 297.8 L339.81 297.8 L339.97 297.8 L340.13 297.8 L340.29 297.8 L340.45 297.8 L340.61 297.8 L340.77 297.8 L340.94 297.79 L341.1 297.79 L341.26 297.79 L341.42 297.79 L341.58 297.78 L341.74 297.78 L341.9 297.78 L342.06 297.77 L342.22 297.76 L342.39 297.75 L342.55 297.74 L342.71 297.73 L342.87 297.71 L343.03 297.7 L343.19 297.68 L343.35 297.66 L343.51 297.64 L343.67 297.61 L343.84 297.59 L344 297.56 L344.16 297.53 L344.32 297.51 L344.48 297.48 L344.64 297.45 L344.8 297.43 L344.96 297.41 L345.13 297.39 L345.29 297.37 L345.45 297.36 L345.61 297.35 L345.77 297.35 L345.93 297.35 L346.09 297.36 L346.25 297.37 L346.41 297.38 L346.58 297.4 L346.74 297.42 L346.9 297.44 L347.06 297.47 L347.22 297.49 L347.38 297.52 L347.54 297.55 L347.7 297.57 L347.86 297.6 L348.03 297.62 L348.19 297.65 L348.35 297.67 L348.51 297.69 L348.67 297.71 L348.83 297.72 L348.99 297.74 L349.15 297.75 L349.31 297.76 L349.48 297.77 L349.64 297.77 L349.8 297.78 L349.96 297.78 L350.12 297.79 L350.28 297.79 L350.44 297.79 L350.6 297.79 L350.76 297.8 L350.93 297.8 L351.09 297.8 L351.25 297.8 L351.41 297.8 L351.57 297.8 L351.73 297.8 L351.89 297.8 L352.05 297.8 L352.22 297.8 L352.38 297.8 L352.54 297.8 L352.7 297.8 L352.86 297.8 L353.02 297.8 L353.18 297.8 L353.34 297.8 L353.5 297.8 L353.67 297.8 L353.83 297.8 L353.99 297.8 L354.15 297.8 L354.31 297.8 L354.47 297.8 L354.63 297.8 L354.79 297.8 L354.95 297.8 L355.12 297.8 L355.28 297.8 L355.44 297.8 L355.6 297.8 L355.76 297.8 L355.92 297.8 L356.08 297.8 L356.24 297.8 L356.4 297.8 L356.57 297.8 L356.73 297.8 L356.89 297.8 L357.05 297.8 L357.21 297.8 L357.37 297.8 L357.53 297.8 L357.69 297.8 L357.86 297.8 L358.02 297.8 L358.18 297.8 L358.34 297.8 L358.5 297.8 L358.66 297.8 L358.82 297.8 L358.98 297.8 L359.14 297.8 L359.31 297.8 L359.47 297.8 L359.63 297.8 L359.79 297.8 L359.95 297.8 L360.11 297.8 L360.27 297.8 L360.43 297.8 L360.59 297.8 L360.76 297.8 L360.92 297.8 L361.08 297.8 L361.24 297.8 L361.4 297.8 L361.56 297.8 L361.72 297.8 L361.88 297.8 L362.04 297.8 L362.21 297.8 L362.37 297.8 L362.53 297.8 L362.69 297.8 L362.85 297.8 L363.01 297.8 L363.17 297.8 L363.33 297.8 L363.5 297.8 L363.66 297.8 L363.82 297.8 L363.98 297.8 L364.14 297.8 L364.3 297.8 L364.46 297.8 L364.62 297.8 L364.78 297.8 L364.95 297.8 L365.11 297.8 L365.27 297.8 L365.43 297.8 L365.59 297.8 L365.75 297.8 L365.91 297.8 L366.07 297.8 L366.23 297.8 L366.4 297.8 L366.56 297.8 L366.72 297.8 L366.88 297.8 L367.04 297.8 L367.2 297.8 L367.36 297.8 L367.52 297.8 L367.68 297.8 L367.85 297.8 L368.01 297.8 L368.17 297.8 L368.33 297.8 L368.49 297.8 L368.65 297.8 L368.81 297.8 L368.97 297.8 L369.13 297.8 L369.3 297.8 L369.46 297.8 L369.62 297.8 L369.78 297.8 L369.94 297.8 L370.1 297.8 L370.26 297.8 L370.42 297.8 L370.59 297.8 L370.75 297.8 L370.91 297.8 L371.07 297.8 L371.23 297.8 L371.39 297.8 L371.55 297.8 L371.71 297.8 L371.87 297.8 L372.04 297.8 L372.2 297.8 L372.36 297.8 L372.52 297.8 L372.68 297.8 L372.84 297.8 L373 297.8 L373.16 297.8 L373.32 297.8 L373.49 297.8 L373.65 297.8 L373.81 297.8 L373.97 297.8 L374.13 297.8 L374.29 297.8 L374.45 297.8 L374.61 297.8 L374.77 297.8 L374.94 297.8 L375.1 295.1 L375.26 291.58 L375.42 288.16 L375.58 284.84 L375.74 281.6 L375.9 278.47 L376.06 275.42 L376.23 272.47 L376.39 269.61 L376.55 266.85 L376.71 264.18 L376.87 261.6 L377.03 259.11 L377.19 256.71 L377.35 254.41 L377.51 252.2 L377.68 250.07 L377.84 248.04 L378 246.1 L378.16 244.25 L378.32 242.49 L378.48 240.81 L378.64 239.23 L378.8 237.73 L378.96 236.32 L379.13 235 L379.29 233.76 L379.45 232.61 L379.61 231.55 L379.77 230.57 L379.93 229.67 L380.09 228.86 L380.25 228.13 L380.41 227.49 L380.58 226.92 L380.74 226.43 L380.9 226.03 L381.06 225.69 L381.22 225.44 L381.38 225.26 L381.54 225.15 L381.7 225.1 L381.86 224.24 L382.03 229.37 L382.19 235.68 L382.35 242.47 L382.51 249.31 L382.67 255.89 L382.83 262.02 L382.99 267.58 L383.15 272.52 L383.32 276.83 L383.48 280.53 L383.64 283.66 L383.8 286.27 L383.96 288.43 L384.12 290.19 L384.28 291.61 L384.44 292.75 L384.6 293.65 L384.77 294.37 L384.93 294.93 L385.09 295.37 L385.25 295.72 L385.41 295.99 L385.57 296.2 L385.73 296.37 L385.89 296.5 L386.05 296.61 L386.22 296.7 L386.38 296.77 L386.54 296.83 L386.7 296.88 L386.86 296.93 L387.02 296.97 L387.18 297.01 L387.34 297.04 L387.5 297.07 L387.67 297.1 L387.83 297.13 L387.99 297.16 L388.15 297.19 L388.31 297.21 L388.47 297.23 L388.63 297.26 L388.79 297.28 L388.96 297.3 L389.12 297.32 L389.28 297.34 L389.44 297.35 L389.6 297.37 L389.76 297.39 L389.92 297.4 L390.08 297.42 L390.24 297.43 L390.41 297.45 L390.57 297.46 L390.73 297.48 L390.89 297.49 L391.05 297.5 L391.21 297.51 L391.37 297.52 L391.53 297.53 L391.69 297.55 L391.86 297.56 L392.02 297.56 L392.18 297.57 L392.34 297.58 L392.5 297.59 L392.66 297.6 L392.82 297.61 L392.98 297.61 L393.14 297.62 L393.31 297.63 L393.47 297.64 L393.63 297.64 L393.79 297.65 L393.95 297.65 L394.11 297.66 L394.27 297.67 L394.43 297.67 L394.6 297.68 L394.76 297.68 L394.92 297.69 L395.08 297.69 L395.24 297.69 L395.4 297.7 L395.56 297.7 L395.72 297.71 L395.88 297.71 L396.05 297.71 L396.21 297.72 L396.37 297.72 L396.53 297.72 L396.69 297.73 L396.85 297.73 L397.01 297.73 L397.17 297.73 L397.33 297.74 L397.5 297.74 L397.66 297.74 L397.82 297.74 L397.98 297.75 L398.14 297.75 L398.3 297.75 L398.46 297.75 L398.62 297.75 L398.78 297.76 L398.95 297.76 L399.11 297.76 L399.27 297.76 L399.43 297.76 L399.59 297.76 L399.75 297.76 L399.91 297.77 L400.07 297.77 L400.23 297.77 L400.4 297.77 L400.56 297.77 L400.72 297.77 L400.88 297.77 L401.04 297.77 L401.2 297.78 L401.36 297.78 L401.52 297.78 L401.69 297.78 L401.85 297.78 L402.01 297.78 L402.17 297.78 L402.33 297.78 L402.49 297.78 L402.65 297.78 L402.81 297.78 L402.97 297.78 L403.14 297.78 L403.3 297.78 L403.46 297.79 L403.62 297.79 L403.78 297.79 L403.94 297.79 L404.1 297.79 L404.26 297.79 L404.42 297.79 L404.59 297.79 L404.75 297.79 L404.91 297.79 L405.07 297.79 L405.23 297.79 L405.39 297.79 L405.55 297.79 L405.71 297.79 L405.87 297.79 L406.04 297.79 L406.2 297.79 L406.36 297.79 L406.52 297.79 L406.68 297.79 L406.84 297.79 L407 297.79 L407.16 297.79 L407.33 297.79 L407.49 297.79 L407.65 297.79 L407.81 297.79 L407.97 297.79 L408.13 297.79 L408.29 297.8 L408.45 297.8 L408.61 297.8 L408.78 297.8 L408.94 297.8 L409.1 297.8 L409.26 297.8 L409.42 297.8 L409.58 297.8 L409.74 297.8 L409.9 297.8 L410.06 297.8 L410.23 297.8 L410.39 297.8 L410.55 297.8 L410.71 297.8 L410.87 297.8 L411.03 297.8 L411.19 297.8 L411.35 297.8 L411.51 297.8 L411.68 297.8 L411.84 297.8 L412 297.8 L412.16 297.8 L412.32 297.8 L412.48 297.8 L412.64 297.8 L412.8 297.79 L412.97 297.79 L413.13 297.77 L413.29 297.75 L413.45 297.7 L413.61 297.63 L413.77 297.5 L413.93 297.31 L414.09 297.01 L414.25 296.59 L414.42 296.01 L414.58 295.26 L414.74 294.33 L414.9 293.26 L415.06 292.09 L415.22 290.89 L415.38 289.77 L415.54 288.84 L415.7 288.19 L415.87 287.9 L416.03 288 L416.19 288.47 L416.35 289.28 L416.51 290.32 L416.67 291.49 L416.83 292.68 L416.99 293.81 L417.15 294.82 L417.32 295.65 L417.48 296.32 L417.64 296.82 L417.8 297.17 L417.96 297.41 L418.12 297.57 L418.28 297.67 L418.44 297.73 L418.6 297.76 L418.77 297.78 L418.93 297.79 L419.09 297.79 L419.25 297.8 L419.41 297.8 L419.57 297.8 L419.73 297.8 L419.89 297.8 L420.06 297.8 L420.22 297.8 L420.38 297.8 L420.54 297.8 L420.7 297.8 L420.86 297.8 L421.02 297.8 L421.18 297.8 L421.34 297.8 L421.51 297.8 L421.67 297.8 L421.83 297.8 L421.99 297.8 L422.15 297.8 L422.31 297.8 L422.47 297.8 L422.63 297.8 L422.79 297.8 L422.96 297.8 L423.12 297.8 L423.28 297.8 L423.44 297.8 L423.6 297.8 L423.76 297.8 L423.92 297.8 L424.08 297.8 L424.24 297.8 L424.41 297.8 L424.57 297.8 L424.73 297.8 L424.89 297.8 L425.05 297.8 L425.21 297.8 L425.37 297.79 L425.53 297.78 L425.7 297.77 L425.86 297.73 L426.02 297.68 L426.18 297.59 L426.34 297.46 L426.5 297.3 L426.66 297.12 L426.82 296.94 L426.98 296.81 L427.15 296.75 L427.31 296.77 L427.47 296.87 L427.63 297.03 L427.79 297.21 L427.95 297.38 L428.11 297.53 L428.27 297.64 L428.43 297.71 L428.6 297.75 L428.76 297.78 L428.92 297.79 L429.08 297.8 L429.24 297.8 L429.4 297.8 L429.56 297.8 L429.72 297.8 L429.88 297.8 L430.05 297.8 L430.21 297.8 L430.37 297.8 L430.53 297.8 L430.69 297.8 L430.85 297.8 L431.01 297.8 L431.17 297.8 L431.33 297.8 L431.5 297.8 L431.66 297.8 L431.82 297.8 L431.98 297.8 L432.14 297.8 L432.3 297.8 L432.46 297.8 L432.62 297.8 L432.79 297.8 L432.95 297.8 L433.11 297.8 L433.27 297.8 L433.43 297.8 L433.59 297.8 L433.75 297.8 L433.91 297.8 L434.07 297.8 L434.24 297.8 L434.4 297.8 L434.56 297.8 L434.72 297.8 L434.88 297.8 L435.04 297.8 L435.2 297.8 L435.36 297.8 L435.52 297.8 L435.69 297.8 L435.85 297.8 L436.01 297.8 L436.17 297.8 L436.33 297.8 L436.49 297.8 L436.65 297.8 L436.81 297.8 L436.97 297.8 L437.14 297.8 L437.3 297.8 L437.46 297.8 L437.62 297.8 L437.78 297.8 L437.94 297.8 L438.1 297.8 L438.26 297.8 L438.43 297.8 L438.59 297.8 L438.75 297.8 L438.91 297.8 L439.07 297.8 L439.23 297.8 L439.39 297.8 L439.55 297.8 L439.71 297.8 L439.88 297.8 L440.04 297.8 L440.2 297.8 L440.36 297.8 L440.52 297.8 L440.68 297.8 L440.84 297.8 L441 297.8 L441.16 297.8 L441.33 297.8 L441.49 297.8 L441.65 297.8 L441.81 297.8 L441.97 297.8 L442.13 297.8 L442.29 297.8 L442.45 297.8 L442.61 297.8 L442.78 297.8 L442.94 297.8 L443.1 297.8 L443.26 297.8 L443.42 297.8 L443.58 297.8 L443.74 297.8 L443.9 297.8 L444.07 297.8 L444.23 297.8 L444.39 297.8 L444.55 297.8 L444.71 297.8 L444.87 297.8 L445.03 297.8 L445.19 297.8 L445.35 297.8 L445.52 297.8 L445.68 297.8 L445.84 297.8 L446 297.8 L446.16 297.8 L446.32 297.8 L446.48 297.79 L446.64 297.78 L446.8 297.76 L446.97 297.7 L447.13 297.59 L447.29 297.36 L447.45 296.93 L447.61 296.18 L447.77 294.95 L447.93 293.04 L448.09 290.28 L448.25 286.57 L448.42 281.92 L448.58 276.57 L448.74 270.93 L448.9 265.64 L449.06 261.37 L449.22 258.76 L449.38 258.21 L449.54 259.82 L449.7 263.33 L449.87 268.2 L450.03 273.75 L450.19 279.31 L450.35 284.35 L450.51 288.54 L450.67 291.77 L450.83 294.09 L450.99 295.64 L451.16 296.61 L451.32 297.18 L451.48 297.49 L451.64 297.66 L451.8 297.74 L451.96 297.77 L452.12 297.79 L452.28 297.8 L452.44 297.8 L452.61 297.8 L452.77 297.8 L452.93 297.8 L453.09 297.8 L453.25 297.8 L453.41 297.8 L453.57 297.8 L453.73 297.8 L453.89 297.8 L454.06 297.8 L454.22 297.8 L454.38 297.8 L454.54 297.8 L454.7 297.8 L454.86 297.8 L455.02 297.8 L455.18 297.8 L455.34 297.8 L455.51 297.8 L455.67 297.8 L455.83 297.8 L455.99 297.8 L456.15 297.8 L456.31 297.8 L456.47 297.8 L456.63 297.8 L456.8 297.8 L456.96 297.8 L457.12 297.8 L457.28 297.8 L457.44 297.8 L457.6 297.8 L457.76 297.8 L457.92 297.8 L458.08 297.8 L458.25 297.8 L458.41 297.8 L458.57 297.8 L458.73 297.8 L458.89 297.8 L459.05 297.8 L459.21 297.8 L459.37 297.8 L459.53 297.8 L459.7 297.8 L459.86 297.8 L460.02 297.8 L460.18 297.8 L460.34 297.8 L460.5 297.8 L460.66 297.8 L460.82 297.8 L460.98 297.8 L461.15 297.8 L461.31 297.8 L461.47 297.8 L461.63 297.8 L461.79 297.8 L461.95 297.8 L462.11 297.8 L462.27 297.8 L462.43 297.8 L462.6 297.8 L462.76 297.8 L462.92 297.8 L463.08 297.8 L463.24 297.8 L463.4 297.8 L463.56 297.8 L463.72 297.8 L463.89 297.8 L464.05 297.8 L464.21 297.8 L464.37 297.8 L464.53 297.8 L464.69 297.8 L464.85 297.8 L465.01 297.8 L465.17 297.8 L465.34 297.8 L465.5 297.8 L465.66 297.8 L465.82 297.8 L465.98 297.8 L466.14 297.8 L466.3 297.8 L466.46 297.8 L466.62 297.8 L466.79 297.8 L466.95 297.8 L467.11 297.8 L467.27 297.8 L467.43 297.8 L467.59 297.8 L467.75 297.8 L467.91 297.8 L468.07 297.8 L468.24 297.8 L468.4 297.8 L468.56 297.8 L468.72 297.8 L468.88 297.8 L469.04 297.79 L469.2 297.79 L469.36 297.77 L469.53 297.75 L469.69 297.7 L469.85 297.61 L470.01 297.46 L470.17 297.22 L470.33 296.85 L470.49 296.3 L470.65 295.54 L470.81 294.55 L470.98 293.31 L471.14 291.88 L471.3 290.33 L471.46 288.78 L471.62 287.38 L471.78 286.29 L471.94 285.64 L472.1 285.5 L472.26 285.9 L472.43 286.79 L472.59 288.05 L472.75 289.55 L472.91 291.11 L473.07 292.62 L473.23 293.96 L473.39 295.07 L473.55 295.95 L473.71 296.6 L473.88 297.05 L474.04 297.36 L474.2 297.55 L474.36 297.66 L474.52 297.73 L474.68 297.76 L474.84 297.78 L475 297.79 L475.17 297.8 L475.33 297.8 L475.49 297.8 L475.65 297.8 L475.81 297.8 L475.97 297.8 L476.13 297.8 L476.29 297.8 L476.45 297.8 L476.62 297.8 L476.78 297.8 L476.94 297.8 L477.1 297.8 L477.26 297.8 L477.42 297.8 L477.58 297.8 L477.74 297.8 L477.9 297.8 L478.07 297.8 L478.23 297.8 L478.39 297.8 L478.55 297.8 L478.71 297.8 L478.87 297.8 L479.03 297.8 L479.19 297.8 L479.35 297.8 L479.52 297.8 L479.68 297.8 L479.84 297.8 L480 297.8 L480.16 297.8 L480.32 297.8 L480.48 297.8 L480.64 297.79 L480.8 297.79 L480.97 297.79 L481.13 297.78 L481.29 297.78 L481.45 297.77 L481.61 297.76 L481.77 297.75 L481.93 297.73 L482.09 297.71 L482.26 297.68 L482.42 297.64 L482.58 297.59 L482.74 297.54 L482.9 297.47 L483.06 297.38 L483.22 297.28 L483.38 297.15 L483.54 297.01 L483.71 296.83 L483.87 296.63 L484.03 296.4 L484.19 296.14 L484.35 295.85 L484.51 295.52 L484.67 295.16 L484.83 294.77 L484.99 294.35 L485.16 293.91 L485.32 293.44 L485.48 292.95 L485.64 292.46 L485.8 291.96 L485.96 291.47 L486.12 291 L486.28 290.55 L486.44 290.13 L486.61 289.76 L486.77 289.43 L486.93 289.17 L487.09 288.96 L487.25 288.82 L487.41 288.74 L487.57 288.71 L487.73 288.69 L487.9 288.67 L488.06 288.57 L488.22 288.3 L488.38 287.77 L488.54 286.85 L488.7 285.4 L488.86 283.32 L489.02 280.56 L489.18 277.17 L489.35 273.3 L489.51 269.24 L489.67 265.39 L489.83 262.18 L489.99 260.03 L490.15 259.27 L490.31 260.04 L490.47 262.29 L490.63 265.77 L490.8 270.09 L490.96 274.82 L491.12 279.5 L491.28 283.79 L491.44 287.41 L491.6 290.23 L491.76 292.19 L491.92 293.28 L492.08 293.53 L492.25 292.96 L492.41 291.62 L492.57 289.57 L492.73 286.92 L492.89 283.88 L493.05 280.72 L493.21 277.8 L493.37 275.48 L493.54 274.07 L493.7 273.79 L493.86 274.66 L494.02 276.58 L494.18 279.28 L494.34 282.41 L494.5 285.63 L494.66 288.64 L494.82 291.23 L494.99 293.32 L495.15 294.89 L495.31 296 L495.47 296.74 L495.63 297.21 L495.79 297.48 L495.95 297.64 L496.11 297.71 L496.27 297.74 L496.44 297.73 L496.6 297.68 L496.76 297.57 L496.92 297.38 L497.08 297.07 L497.24 296.63 L497.4 296.07 L497.56 295.46 L497.72 294.87 L497.89 294.42 L498.05 294.2 L498.21 294.28 L498.37 294.62 L498.53 295.15 L498.69 295.77 L498.85 296.36 L499.01 296.86 L499.17 297.24 L499.34 297.49 L499.5 297.64 L499.66 297.72 L499.82 297.77 L499.98 297.79 L500.14 297.79 L500.3 297.8 L500.46 297.8 L500.63 297.8 L500.79 297.8 L500.95 297.8 L501.11 297.8 L501.27 297.8 L501.43 297.8 L501.59 297.8 L501.75 297.8 L501.91 297.8 L502.08 297.8 L502.24 297.8 L502.4 297.8 L502.56 297.8 L502.72 297.8 L502.88 297.8 L503.04 297.8 L503.2 297.8 L503.36 297.8 L503.53 297.8 L503.69 297.8 L503.85 297.8 L504.01 297.8 L504.17 297.8 L504.33 297.8 L504.49 297.8 L504.65 297.8 L504.81 297.8 L504.98 297.8 L505.14 297.8 L505.3 297.8 L505.46 297.8 L505.62 297.8 L505.78 297.8 L505.94 297.8 L506.1 297.8 L506.27 297.8 L506.43 297.8 L506.59 297.8 L506.75 297.8 L506.91 297.8 L507.07 297.8 L507.23 297.8 L507.39 297.8 L507.55 297.8 L507.72 297.8 L507.88 297.8 L508.04 297.8 L508.2 297.8 L508.36 297.8 L508.52 297.8 L508.68 297.8 L508.84 297.8 L509 297.8 L509.17 297.8 L509.33 297.8 L509.49 297.8 L509.65 297.8 L509.81 297.8 L509.97 297.8 L510.13 297.8 L510.29 297.8 L510.45 297.8 L510.62 297.8 L510.78 297.8 L510.94 297.8 L511.1 297.8 L511.26 297.8 L511.42 297.8 L511.58 297.8 L511.74 297.8 L511.9 297.8 L512.07 297.8 L512.23 297.8 L512.39 297.8 L512.55 297.8 L512.71 297.8 L512.87 297.8 L513.03 297.8 L513.19 297.8 L513.36 297.8 L513.52 297.8 L513.68 297.8 L513.84 297.8 L514 297.8 L514.16 297.8 L514.32 297.8 L514.48 297.8 L514.64 297.8 L514.81 297.8 L514.97 297.8 L515.13 297.8 L515.29 297.8 L515.45 297.8 L515.61 297.8 L515.77 297.8 L515.93 297.8 L516.09 297.8 L516.26 297.8 L516.42 297.8 L516.58 297.8 L516.74 297.8 L516.9 297.8 L517.06 297.8 L517.22 297.8 L517.38 297.8 L517.54 297.8 L517.71 297.8 L517.87 297.8 L518.03 297.8 L518.19 297.8 L518.35 297.8 L518.51 297.8 L518.67 297.8 L518.83 297.8 L519 297.8 L519.16 297.8 L519.32 297.8 L519.48 297.8 L519.64 297.8 L519.8 297.8 L519.96 297.8 L520.12 297.8 L520.28 297.8 L520.45 297.8 L520.61 297.8 L520.77 297.8 L520.93 297.8 L521.09 297.8 L521.25 297.8 L521.41 297.8 L521.57 297.8 L521.73 297.8 L521.9 297.8 L522.06 297.8 L522.22 297.8 L522.38 297.8 L522.54 297.8 L522.7 297.8 L522.86 297.8 L523.02 297.8 L523.18 297.8 L523.35 297.8 L523.51 297.8 L523.67 297.8 L523.83 297.8 L523.99 297.8 L524.15 297.8 L524.31 297.8 L524.47 297.8 L524.64 297.8 L524.8 297.8 L524.96 297.8 L525.12 297.8 L525.28 297.8 L525.44 297.8 L525.6 297.8 L525.76 297.8 L525.92 297.8 L526.09 297.8 L526.25 297.8 L526.41 297.8 L526.57 297.8 L526.73 297.8 L526.89 297.8 L527.05 297.8 L527.21 297.8 L527.37 297.8 L527.54 297.8 L527.7 297.8 L527.86 297.8 L528.02 297.8 L528.18 297.8 L528.34 297.8 L528.5 297.8 L528.66 297.8 L528.82 297.8 L528.99 297.8 L529.15 297.8 L529.31 297.8 L529.47 297.8 L529.63 297.8 L529.79 297.8 L529.95 297.8 L530.11 297.8 L530.27 297.8 L530.44 297.8 L530.6 297.8 L530.76 297.8 L530.92 297.8 L531.08 297.8 L531.24 297.8 L531.4 297.8 L531.56 297.8 L531.73 297.8 L531.89 297.8 L532.05 297.8 L532.21 297.8 L532.37 297.8 L532.53 297.8 L532.69 297.8 L532.85 297.8 L533.01 297.8 L533.18 297.8 L533.34 297.8 L533.5 297.8 L533.66 297.8 L533.82 297.8 L533.98 297.8 L534.14 297.8 L534.3 297.8 L534.46 297.8 L534.63 297.8 L534.79 297.8 L534.95 297.8 L535.11 297.8 L535.27 297.8 L535.43 297.8 L535.59 297.8 L535.75 297.8 L535.91 297.8 L536.08 297.8 L536.24 297.8 L536.4 297.8 L536.56 297.8 L536.72 297.8 L536.88 297.8 L537.04 297.8 L537.2 297.8 L537.37 297.8 L537.53 297.8 L537.69 297.8 L537.85 297.8 L538.01 297.8 L538.17 297.8 L538.33 297.8 L538.49 297.8 L538.65 297.8 L538.82 297.8 L538.98 297.8 L539.14 297.8 L539.3 297.8 L539.46 297.8 L539.62 297.8 L539.78 297.8 L539.94 297.8 L540.1 297.8 L540.27 297.8 L540.43 297.8 L540.59 297.8 L540.75 297.8 L540.91 297.8 L541.07 297.8 L541.23 297.8 L541.39 297.8 L541.55 297.8 L541.72 297.8 L541.88 297.8 L542.04 297.8 L542.2 297.8 L542.36 297.8 L542.52 297.8 L542.68 297.8 L542.84 297.8 L543 297.8 L543.17 297.8 L543.33 297.8 L543.49 297.8 L543.65 297.8 L543.81 297.8 L543.97 297.8 L544.13 297.8 L544.29 297.8 L544.46 297.8 L544.62 297.8 L544.78 297.8 L544.94 297.8 L545.1 297.8 L545.26 297.8 L545.42 297.8 L545.58 297.8 L545.74 297.8 L545.91 297.8 L546.07 297.8 L546.23 297.8 L546.39 297.8 L546.55 297.8 L546.71 297.8 L546.87 297.8 L547.03 297.8 L547.19 297.8 L547.36 297.8 L547.52 297.8 L547.68 297.8 L547.84 297.8 L548 297.8 L548.16 297.8 L548.32 297.8 L548.48 297.8 L548.64 297.8 L548.81 297.8 L548.97 297.8 L549.13 297.8 L549.29 297.8 L549.45 297.8 L549.61 297.8 L549.77 297.8 L549.93 297.8 L550.1 297.8 L550.26 297.8 L550.42 297.8 L550.58 297.8 L550.74 297.8 L550.9 297.8 L551.06 297.8 L551.22 297.8 L551.38 297.8 L551.55 297.8 L551.71 297.8 L551.87 297.8 L552.03 297.8 L552.19 297.8 L552.35 297.8 L552.51 297.8 L552.67 297.8 L552.83 297.8 L553 297.8 L553.16 297.8 L553.32 297.8 L553.48 297.8 L553.64 297.8 L553.8 297.8 L553.96 297.8 L554.12 297.8 L554.28 297.8 L554.45 297.8 L554.61 297.8 L554.77 297.8 L554.93 297.8 L555.09 297.8 L555.25 297.8 L555.41 297.8 L555.57 297.8 L555.74 297.8 L555.9 297.8 L556.06 297.8 L556.22 297.8 L556.38 297.8 L556.54 297.8 L556.7 297.8 L556.86 297.8 L557.02 297.8 L557.19 297.8 L557.35 297.8 L557.51 297.8 L557.67 297.8 L557.83 297.8 L557.99 297.8 L558.15 297.8 L558.31 297.8 L558.47 297.8 L558.64 297.8 L558.8 297.8 L558.96 297.8 L559.12 297.8 L559.28 297.8 L559.44 297.8 L559.6 297.8 L559.76 297.8 L559.92 297.8 L560.09 297.8 L560.25 297.8 L560.41 297.8 L560.57 297.8 L560.73 297.8 L560.89 297.8 L561.05 297.8 L561.21 297.8 L561.37 297.8 L561.54 297.8 L561.7 297.8 L561.86 297.8 L562.02 297.8 L562.18 297.8 L562.34 297.8 L562.5 297.8 L562.66 297.8 L562.83 297.8 L562.99 297.8 L563.15 297.8 L563.31 297.8 L563.47 297.8 L563.63 297.8 L563.79 297.8 L563.95 297.8 L564.11 297.8 L564.28 297.8 L564.44 297.8 L564.6 297.8 L564.76 297.8 L564.92 297.8 L565.08 297.8 L565.24 297.8 L565.4 297.8 L565.56 297.8 L565.73 297.8 L565.89 297.8 L566.05 297.8 L566.21 297.8 L566.37 297.8 L566.53 297.8 L566.69 297.8 L566.85 297.8 L567.01 297.8 L567.18 297.8 L567.34 297.8 L567.5 297.8 L567.66 297.8 L567.82 297.8 L567.98 297.8 L568.14 297.8 L568.3 297.8 L568.47 297.8 L568.63 297.8 L568.79 297.8 L568.95 297.8 L569.11 297.8 L569.27 297.8 L569.43 297.8 L569.59 297.8 L569.75 297.8 L569.92 297.8 L570.08 297.8 L570.24 297.8 L570.4 297.8 L570.56 297.8 L570.72 297.8 L570.88 297.8 L571.04 297.8 L571.2 297.8 L571.37 297.8 L571.53 297.8 L571.69 297.8 L571.85 297.8 L572.01 297.8 L572.17 297.8 L572.33 297.8 L572.49 297.8 L572.65 297.8 L572.82 297.8 L572.98 297.8 L573.14 297.8 L573.3 297.8 L573.46 297.8 L573.62 297.8 L573.78 297.8 L573.94 297.8 L574.11 297.8 L574.27 297.8 L574.43 297.8 L574.59 297.8 L574.75 297.8 L574.91 297.8 L575.07 297.8 L575.23 297.8 L575.39 297.8 L575.56 297.8 L575.72 297.8 L575.88 297.79 L576.04 297.79 L576.2 297.79 L576.36 297.78 L576.52 297.77 L576.68 297.75 L576.84 297.73 L577.01 297.69 L577.17 297.64 L577.33 297.58 L577.49 297.49 L577.65 297.38 L577.81 297.23 L577.97 297.06 L578.13 296.84 L578.29 296.6 L578.46 296.32 L578.62 296.01 L578.78 295.68 L578.94 295.35 L579.1 295.01 L579.26 294.7 L579.42 294.42 L579.58 294.18 L579.74 294.01 L579.91 293.92 L580.07 293.9 L580.23 293.96 L580.39 294.09 L580.55 294.29 L580.71 294.55 L580.87 294.85 L581.03 295.18 L581.2 295.52 L581.36 295.85 L581.52 296.17 L581.68 296.46 L581.84 296.73 L582 296.95 L582.16 297.15 L582.32 297.31 L582.48 297.44 L582.65 297.54 L582.81 297.61 L582.97 297.67 L583.13 297.71 L583.29 297.74 L583.45 297.76 L583.61 297.77 L583.77 297.78 L583.93 297.79 L584.1 297.79 L584.26 297.8 L584.42 297.8 L584.58 297.8 L584.74 297.8 L584.9 297.8 L585.06 297.8 L585.22 297.8 L585.38 297.8 L585.55 297.8 L585.71 297.8 L585.87 297.8 L586.03 297.8 L586.19 297.8 L586.35 297.8 L586.51 297.8 L586.67 297.8 L586.84 297.8 L587 297.8 L587.16 297.8 L587.32 297.8 L587.48 297.8 L587.64 297.8 L587.8 297.8 L587.96 297.8 L588.12 297.8 L588.29 297.8 L588.45 297.8 L588.61 297.8 L588.77 297.8 L588.93 297.8 L589.09 297.8 L589.25 297.8 L589.41 297.8 L589.57 297.8 L589.74 297.8 L589.9 297.8 L590.06 297.8 L590.22 297.8 L590.38 297.8 L590.54 297.8 L590.7 297.8 L590.86 297.8 L591.02 297.8 L591.19 297.8 L591.35 297.8 L591.51 297.8 L591.67 297.8 L591.83 297.8 L591.99 297.8 L592.15 297.8 L592.31 297.8 L592.47 297.8 L592.64 297.8 L592.8 297.8 L592.96 297.8 L593.12 297.8 L593.28 297.8 L593.44 297.8 L593.6 297.8 L593.76 297.8 L593.93 297.8 L594.09 297.8 L594.25 297.8 L594.41 297.8 L594.57 297.8 L594.73 297.8 L594.89 297.8 L595.05 297.8 L595.21 297.8 L595.38 297.8 L595.54 297.8 L595.7 297.8 L595.86 297.8 L596.02 297.8 L596.18 297.8 L596.34 297.8 L596.5 297.8 L596.66 297.8 L596.83 297.8 L596.99 297.8 L597.15 297.8 L597.31 297.8 L597.47 297.8 L597.63 297.8 L597.79 297.8 L597.95 297.8 L598.11 297.8 L598.28 297.8 L598.44 297.8 L598.6 297.8 L598.76 297.8 L598.92 297.8 L599.08 297.8 L599.24 297.8 L599.4 297.8 L599.57 297.8 L599.73 297.8 L599.89 297.8 L600.05 297.8 L600.21 297.8 L600.37 297.8 L600.53 297.8 L600.69 297.8 L600.85 297.8 L601.02 297.8 L601.18 297.8 L601.34 297.8 L601.5 297.8 L601.66 297.8 L601.82 297.8 L601.98 297.8 L602.14 297.8 L602.3 297.8 L602.47 297.8 L602.63 297.8 L602.79 297.8 L602.95 297.8 L603.11 297.8 L603.27 297.8 L603.43 297.8 L603.59 297.8 L603.75 297.8 L603.92 297.8 L604.08 297.8 L604.24 297.8 L604.4 297.8 L604.56 297.8 L604.72 297.8 L604.88 297.8 L605.04 297.8 L605.21 297.8 L605.37 297.8 L605.53 297.8 L605.69 297.8 L605.85 297.8 L606.01 297.8 L606.17 297.8 L606.33 297.8 L606.49 297.8 L606.66 297.8 L606.82 297.8 L606.98 297.8 L607.14 297.8 L607.3 297.8 L607.46 297.8 L607.62 297.8 L607.78 297.8 L607.94 297.8 L608.11 297.8 L608.27 297.8 L608.43 297.8 L608.59 297.8 L608.75 297.8 L608.91 297.8 L609.07 297.8 L609.23 297.8 L609.39 297.8 L609.56 297.8 L609.72 297.8 L609.88 297.8 L610.04 297.8 L610.2 297.8 L610.36 297.8 L610.52 297.8 L610.68 297.8 L610.84 297.8 L611.01 297.8 L611.17 297.8 L611.33 297.8 L611.49 297.8 L611.65 297.8 L611.81 297.8 L611.97 297.8 L612.13 297.8 L612.3 297.8 L612.46 297.8 L612.62 297.8 L612.78 297.8 L612.94 297.8 L613.1 297.8 L613.26 297.8 L613.42 297.8 L613.58 297.8 L613.75 297.8 L613.91 297.8 L614.07 297.8 L614.23 297.8 L614.39 297.8 L614.55 297.8 L614.71 297.8 L614.87 297.8 L615.03 297.8 L615.2 297.8 L615.36 297.8 L615.52 297.8 L615.68 297.8 L615.84 297.8 L616 297.8 L616.16 297.8 L616.32 297.8 L616.48 297.8 L616.65 297.8 L616.81 297.8 L616.97 297.8 L617.13 297.8 L617.29 297.8 L617.45 297.8 L617.61 297.8 L617.77 297.8 L617.94 297.8 L618.1 297.8 L618.26 297.8 L618.42 297.8 L618.58 297.8 L618.74 297.8 L618.9 297.8 L619.06 297.8 L619.22 297.8 L619.39 297.8 L619.55 297.8 L619.71 297.79 L619.87 297.79 L620.03 297.79 L620.19 297.78 L620.35 297.77 L620.51 297.76 L620.67 297.74 L620.84 297.72 L621 297.69 L621.16 297.66 L621.32 297.61 L621.48 297.55 L621.64 297.48 L621.8 297.4 L621.96 297.31 L622.12 297.21 L622.29 297.1 L622.45 296.98 L622.61 296.86 L622.77 296.74 L622.93 296.62 L623.09 296.52 L623.25 296.43 L623.41 296.36 L623.58 296.32 L623.74 296.3 L623.9 296.3 L624.06 296.34 L624.22 296.39 L624.38 296.47 L624.54 296.57 L624.7 296.68 L624.86 296.8 L625.03 296.92 L625.19 297.04 L625.35 297.15 L625.51 297.26 L625.67 297.36 L625.83 297.45 L625.99 297.52 L626.15 297.58 L626.31 297.63 L626.48 297.68 L626.64 297.71 L626.8 297.73 L626.96 297.75 L627.12 297.77 L627.28 297.78 L627.44 297.78 L627.6 297.79 L627.76 297.79 L627.93 297.8 L628.09 297.8 L628.25 297.8 L628.41 297.8 L628.57 297.8 L628.73 297.8 L628.89 297.8 L629.05 297.8 L629.21 297.8 L629.38 297.8 L629.54 297.8 L629.7 297.8 L629.86 297.8 L630.02 297.8 L630.18 297.8 L630.34 297.8 L630.5 297.8 L630.67 297.8 L630.83 297.8 L630.99 297.8 L631.15 297.8 L631.31 297.8 L631.47 297.8 L631.63 297.8 L631.79 297.8 L631.95 297.8 L632.12 297.8 L632.28 297.8 L632.44 297.8 L632.6 297.8 L632.76 297.8 L632.92 297.8 L633.08 297.8 L633.24 297.8 L633.4 297.8 L633.57 297.8 L633.73 297.8 L633.89 297.8 L634.05 297.8 L634.21 297.8 L634.37 297.8 L634.53 297.79 L634.69 297.79 L634.85 297.78 L635.02 297.77 L635.18 297.75 L635.34 297.72 L635.5 297.67 L635.66 297.58 L635.82 297.46 L635.98 297.26 L636.14 296.98 L636.31 296.58 L636.47 296.02 L636.63 295.25 L636.79 294.24 L636.95 292.93 L637.11 291.29 L637.27 289.28 L637.43 286.9 L637.59 284.15 L637.76 281.07 L637.92 277.75 L638.08 274.3 L638.24 270.84 L638.4 267.55 L638.56 264.59 L638.72 262.13 L638.88 260.33 L639.04 259.29 L639.21 259.02 L639.37 259.34 L639.53 260.31 L639.69 261.85 L639.85 263.9 L640.01 266.36 L640.17 269.1 L640.33 272.03 L640.49 275.01 L640.66 277.96 L640.82 280.78 L640.98 283.4 L641.14 285.79 L641.3 287.91 L641.46 289.74 L641.62 291.3 L641.78 292.59 L641.94 293.64 L642.11 294.48 L642.27 295.14 L642.43 295.65 L642.59 296.03 L642.75 296.32 L642.91 296.53 L643.07 296.69 L643.23 296.8 L643.4 296.88 L643.56 296.95 L643.72 296.99 L643.88 297.03 L644.04 297.06 L644.2 297.08 L644.36 297.1 L644.52 297.12 L644.68 297.14 L644.85 297.16 L645.01 297.18 L645.17 297.19 L645.33 297.21 L645.49 297.22 L645.65 297.24 L645.81 297.25 L645.97 297.27 L646.13 297.28 L646.3 297.3 L646.46 297.31 L646.62 297.32 L646.78 297.34 L646.94 297.35 L647.1 297.36 L647.26 297.37 L647.42 297.38 L647.58 297.4 L647.75 297.41 L647.91 297.42 L648.07 297.43 L648.23 297.44 L648.39 297.45 L648.55 297.46 L648.71 297.47 L648.87 297.48 L649.04 297.49 L649.2 297.5 L649.36 297.5 L649.52 297.51 L649.68 297.52 L649.84 297.53 L650 297.54 L650.16 297.54 L650.32 297.55 L650.49 297.56 L650.65 297.56 L650.81 297.57 L650.97 297.58 L651.13 297.58 L651.29 297.59 L651.45 297.6 L651.61 297.6 L651.77 297.61 L651.94 297.61 L652.1 297.62 L652.26 297.62 L652.42 297.63 L652.58 297.63 L652.74 297.64 L652.9 297.64 L653.06 297.65 L653.22 297.65 L653.39 297.65 L653.55 297.66 L653.71 297.66 L653.87 297.67 L654.03 297.67 L654.19 297.67 L654.35 297.67 L654.51 297.67 L654.68 297.66 L654.84 297.64 L655 297.61 L655.16 297.55 L655.32 297.45 L655.48 297.28 L655.64 297.03 L655.8 296.68 L655.96 296.19 L656.13 295.55 L656.29 294.77 L656.45 293.86 L656.61 292.87 L656.77 291.86 L656.93 290.91 L657.09 290.12 L657.25 289.57 L657.41 289.33 L657.58 289.41 L657.74 289.82 L657.9 290.5 L658.06 291.39 L658.22 292.38 L658.38 293.4 L658.54 294.36 L658.7 295.21 L658.86 295.93 L659.03 296.49 L659.19 296.91 L659.35 297.22 L659.51 297.42 L659.67 297.56 L659.83 297.64 L659.99 297.7 L660.15 297.72 L660.31 297.74 L660.48 297.75 L660.64 297.75 L660.8 297.74 L660.96 297.73 L661.12 297.7 L661.28 297.64 L661.44 297.55 L661.6 297.4 L661.77 297.18 L661.93 296.84 L662.09 296.38 L662.25 295.76 L662.41 294.97 L662.57 294.03 L662.73 292.96 L662.89 291.84 L663.05 290.74 L663.22 289.77 L663.38 289.02 L663.54 288.57 L663.7 288.48 L663.86 288.75 L664.02 289.36 L664.18 290.24 L664.34 291.29 L664.5 292.41 L664.67 293.52 L664.83 294.53 L664.99 295.39 L665.15 296.1 L665.31 296.64 L665.47 297.04 L665.63 297.32 L665.79 297.51 L665.95 297.62 L666.12 297.7 L666.28 297.74 L666.44 297.76 L666.6 297.77 L666.76 297.78 L666.92 297.78 L667.08 297.79 L667.24 297.79 L667.41 297.79 L667.57 297.79 L667.73 297.79 L667.89 297.79 L668.05 297.79 L668.21 297.79 L668.37 297.79 L668.53 297.79 L668.69 297.79 L668.86 297.79 L669.02 297.79 L669.18 297.79 L669.34 297.79 L669.5 297.79 L669.66 297.79 L669.82 297.79 L669.98 297.79 L670.14 297.79 L670.31 297.79 L670.47 297.79 L670.63 297.79 L670.79 297.79 L670.95 297.79 L671.11 297.79 L671.27 297.79 L671.43 297.79 L671.59 297.79 L671.76 297.79 L671.92 297.79 L672.08 297.79 L672.24 297.79 L672.4 297.79 L672.56 297.79 L672.72 297.79 L672.88 297.79 L673.04 297.79 L673.21 297.79 L673.37 297.8 L673.53 297.8 L673.69 297.8 L673.85 297.8 L674.01 297.8 L674.17 297.8 L674.33 297.8 L674.5 297.8 L674.66 297.8 L674.82 297.8 L674.98 297.8 L675.14 297.8 L675.3 297.8 L675.46 297.8 L675.62 297.8 L675.78 297.8 L675.95 297.8 L676.11 297.8 L676.27 297.8 L676.43 297.8 L676.59 297.8 L676.75 297.8 L676.91 297.8 L677.07 297.8 L677.23 297.8 L677.4 297.8 L677.56 297.8 L677.72 297.8 L677.88 297.8 L678.04 297.8 L678.2 297.8 L678.36 297.8 L678.52 297.8 L678.68 297.8 L678.85 297.8 L679.01 297.8 L679.17 297.8 L679.33 297.8 L679.49 297.8 L679.65 297.8 L679.81 297.8 L679.97 297.8 L680.14 297.8 L680.3 297.8 L680.46 297.8 L680.62 297.8 L680.78 297.8 L680.94 297.8 L681.1 297.8 L681.26 297.8 L681.42 297.8 L681.59 297.8 L681.75 297.8 L681.91 297.8 L682.07 297.8 L682.23 297.8 L682.39 297.8 L682.55 297.8 L682.71 297.8 L682.87 297.8 L683.04 297.8 L683.2 297.8 L683.36 297.8 L683.52 297.8 L683.68 297.8 L683.84 297.8 L684 297.8 L684.16 297.8 L684.32 297.8 L684.49 297.8 L684.65 297.8 L684.81 297.8 L684.97 297.8 L685.13 297.8 L685.29 297.8 L685.45 297.8 L685.61 297.8 L685.78 297.8 L685.94 297.8 L686.1 297.8 L686.26 297.8 L686.42 297.8 L686.58 297.8 L686.74 297.8 L686.9 297.8 L687.06 297.8 L687.23 297.8 L687.39 297.8 L687.55 297.8 L687.71 297.8 L687.87 297.8 L688.03 297.8 L688.19 297.8 L688.35 297.8 L688.51 297.8 L688.68 297.8 L688.84 297.8 L689 297.8 L689.16 297.8 L689.32 297.8 L689.48 297.8 L689.64 297.8 L689.8 297.8 L689.96 297.8 L690.13 297.8 L690.29 297.8 L690.45 297.8 L690.61 297.8 L690.77 297.8 L690.93 297.8 L691.09 297.8 L691.25 297.8 L691.41 297.8 L691.58 297.8 L691.74 297.8 L691.9 297.8 L692.06 297.8 L692.22 297.8 L692.38 297.8 L692.54 297.8 L692.7 297.8 L692.87 297.8 L693.03 297.8 L693.19 297.8 L693.35 297.8 L693.51 297.8 L693.67 297.8 L693.83 297.8 L693.99 297.8 L694.15 297.8 L694.32 297.8 L694.48 297.8 L694.64 297.8 L694.8 297.8 L694.96 297.8 L695.12 297.8 L695.28 297.8 L695.44 297.8 L695.6 297.8 L695.77 297.8 L695.93 297.8 L696.09 297.8 L696.25 297.8 L696.41 297.8 L696.57 297.8 L696.73 297.8 L696.89 297.8 L697.05 297.8 L697.22 297.8 L697.38 297.8 L697.54 297.8 L697.7 297.8 L697.86 297.8 L698.02 297.8 L698.18 297.8 L698.34 297.8 L698.51 297.8 L698.67 297.8 L698.83 297.8" fill="none" stroke="#f07a7e" stroke-width="0.75" stroke-linejoin="round"/>
<path d="M102.3 275 L111.48 280.3 L111.48 290.9 L102.3 296.2 L93.12 290.9 L93.12 280.3 Z" fill="none" stroke="#2b2b2b" stroke-width="0.62" stroke-linejoin="round"/>
<line x1="102.68" y1="277.53" x2="109.1" y2="281.24" stroke="#2b2b2b" stroke-width="0.62" stroke-linecap="round"/>
<line x1="109.1" y1="289.96" x2="102.68" y2="293.67" stroke="#2b2b2b" stroke-width="0.62" stroke-linecap="round"/>
<line x1="95.12" y1="289.31" x2="95.12" y2="281.89" stroke="#2b2b2b" stroke-width="0.62" stroke-linecap="round"/>
<line x1="111.6" y1="280.2" x2="120.9" y2="274.8" stroke="#2b2b2b" stroke-width="0.62" stroke-linecap="round"/>
<line x1="121.5" y1="274.8" x2="121.5" y2="267" stroke="#2b2b2b" stroke-width="0.62" stroke-linecap="round"/>
<line x1="119.7" y1="274.8" x2="119.7" y2="267" stroke="#2b2b2b" stroke-width="0.62" stroke-linecap="round"/>
<text x="120.3" y="266.4" font-size="7.2" fill="#1a1a1a" text-anchor="middle" font-weight="normal" stroke="#1a1a1a" stroke-width="0.16">O</text>
<path d="M149.1 269.8 L158.28 275.1 L158.28 285.7 L149.1 291 L139.92 285.7 L139.92 275.1 Z" fill="none" stroke="#2b2b2b" stroke-width="0.62" stroke-linejoin="round"/>
<line x1="149.48" y1="272.33" x2="155.9" y2="276.04" stroke="#2b2b2b" stroke-width="0.62" stroke-linecap="round"/>
<line x1="155.9" y1="284.76" x2="149.48" y2="288.47" stroke="#2b2b2b" stroke-width="0.62" stroke-linecap="round"/>
<line x1="141.92" y1="284.11" x2="141.92" y2="276.69" stroke="#2b2b2b" stroke-width="0.62" stroke-linecap="round"/>
<line x1="158.4" y1="275" x2="167.7" y2="269.8" stroke="#2b2b2b" stroke-width="0.62" stroke-linecap="round"/>
<line x1="167.7" y1="269.8" x2="167.7" y2="263" stroke="#2b2b2b" stroke-width="0.62" stroke-linecap="round"/>
<text x="164.4" y="262.1" font-size="7.6" fill="#1a1a1a" text-anchor="start" font-weight="normal" stroke="#1a1a1a" stroke-width="0.16">OH</text>
<path d="M284.8 271.4 L293.98 276.7 L293.98 287.3 L284.8 292.6 L275.62 287.3 L275.62 276.7 Z" fill="none" stroke="#2b2b2b" stroke-width="0.62" stroke-linejoin="round"/>
<line x1="285.18" y1="273.93" x2="291.6" y2="277.64" stroke="#2b2b2b" stroke-width="0.62" stroke-linecap="round"/>
<line x1="291.6" y1="286.36" x2="285.18" y2="290.07" stroke="#2b2b2b" stroke-width="0.62" stroke-linecap="round"/>
<line x1="277.62" y1="285.71" x2="277.62" y2="278.29" stroke="#2b2b2b" stroke-width="0.62" stroke-linecap="round"/>
<path d="M313.4 255.2 L322.58 260.5 L322.58 271.1 L313.4 276.4 L304.22 271.1 L304.22 260.5 Z" fill="none" stroke="#2b2b2b" stroke-width="0.62" stroke-linejoin="round"/>
<line x1="320.58" y1="262.09" x2="320.58" y2="269.51" stroke="#2b2b2b" stroke-width="0.62" stroke-linecap="round"/>
<line x1="313.02" y1="273.87" x2="306.6" y2="270.16" stroke="#2b2b2b" stroke-width="0.62" stroke-linecap="round"/>
<line x1="306.6" y1="261.44" x2="313.02" y2="257.73" stroke="#2b2b2b" stroke-width="0.62" stroke-linecap="round"/>
<line x1="294.1" y1="276.6" x2="304.1" y2="271.2" stroke="#2b2b2b" stroke-width="0.62" stroke-linecap="round"/>
<path d="M372 178.2 L381.18 183.5 L381.18 194.1 L372 199.4 L362.82 194.1 L362.82 183.5 Z" fill="none" stroke="#2b2b2b" stroke-width="0.62" stroke-linejoin="round"/>
<line x1="372.38" y1="180.73" x2="378.8" y2="184.44" stroke="#2b2b2b" stroke-width="0.62" stroke-linecap="round"/>
<line x1="378.8" y1="193.16" x2="372.38" y2="196.87" stroke="#2b2b2b" stroke-width="0.62" stroke-linecap="round"/>
<line x1="364.82" y1="192.51" x2="364.82" y2="185.09" stroke="#2b2b2b" stroke-width="0.62" stroke-linecap="round"/>
<line x1="372" y1="199.6" x2="372" y2="210.2" stroke="#2b2b2b" stroke-width="0.62" stroke-linecap="round"/>
<path d="M353.5 210.4 L362.68 215.7 L362.68 226.3 L353.5 231.6 L344.32 226.3 L344.32 215.7 Z" fill="none" stroke="#2b2b2b" stroke-width="0.62" stroke-linejoin="round"/>
<line x1="353.88" y1="212.93" x2="360.3" y2="216.64" stroke="#2b2b2b" stroke-width="0.62" stroke-linecap="round"/>
<line x1="360.3" y1="225.36" x2="353.88" y2="229.07" stroke="#2b2b2b" stroke-width="0.62" stroke-linecap="round"/>
<line x1="346.32" y1="224.71" x2="346.32" y2="217.29" stroke="#2b2b2b" stroke-width="0.62" stroke-linecap="round"/>
<line x1="372" y1="210.2" x2="362.8" y2="215.6" stroke="#2b2b2b" stroke-width="0.62" stroke-linecap="round"/>
<line x1="371.52" y1="211.02" x2="380.82" y2="216.42" stroke="#2b2b2b" stroke-width="0.62" stroke-linecap="round"/>
<line x1="372.48" y1="209.38" x2="381.78" y2="214.78" stroke="#2b2b2b" stroke-width="0.62" stroke-linecap="round"/>
<path d="M416 237.9 L425.18 243.2 L425.18 253.8 L416 259.1 L406.82 253.8 L406.82 243.2 Z" fill="none" stroke="#2b2b2b" stroke-width="0.62" stroke-linejoin="round"/>
<line x1="416.38" y1="240.43" x2="422.8" y2="244.14" stroke="#2b2b2b" stroke-width="0.62" stroke-linecap="round"/>
<line x1="422.8" y1="252.86" x2="416.38" y2="256.57" stroke="#2b2b2b" stroke-width="0.62" stroke-linecap="round"/>
<line x1="408.82" y1="252.21" x2="408.82" y2="244.79" stroke="#2b2b2b" stroke-width="0.62" stroke-linecap="round"/>
<line x1="416" y1="259.3" x2="416" y2="270" stroke="#2b2b2b" stroke-width="0.62" stroke-linecap="round"/>
<path d="M397.3 270.2 L406.48 275.5 L406.48 286.1 L397.3 291.4 L388.12 286.1 L388.12 275.5 Z" fill="none" stroke="#2b2b2b" stroke-width="0.62" stroke-linejoin="round"/>
<line x1="397.68" y1="272.73" x2="404.1" y2="276.44" stroke="#2b2b2b" stroke-width="0.62" stroke-linecap="round"/>
<line x1="404.1" y1="285.16" x2="397.68" y2="288.87" stroke="#2b2b2b" stroke-width="0.62" stroke-linecap="round"/>
<line x1="390.12" y1="284.51" x2="390.12" y2="277.09" stroke="#2b2b2b" stroke-width="0.62" stroke-linecap="round"/>
<line x1="416" y1="270" x2="406.6" y2="275.4" stroke="#2b2b2b" stroke-width="0.62" stroke-linecap="round"/>
<line x1="415.52" y1="270.82" x2="421.92" y2="274.52" stroke="#2b2b2b" stroke-width="0.62" stroke-linecap="round"/>
<line x1="416.48" y1="269.18" x2="422.88" y2="272.88" stroke="#2b2b2b" stroke-width="0.62" stroke-linecap="round"/>
<text x="425.6" y="278" font-size="7.2" fill="#1a1a1a" text-anchor="middle" font-weight="normal" stroke="#1a1a1a" stroke-width="0.16">O</text>
<path d="M415 213.8 L424.18 219.1 L424.18 229.7 L415 235 L405.82 229.7 L405.82 219.1 Z" fill="none" stroke="#2b2b2b" stroke-width="0.62" stroke-linejoin="round"/>
<line x1="415.38" y1="216.33" x2="421.8" y2="220.04" stroke="#2b2b2b" stroke-width="0.62" stroke-linecap="round"/>
<line x1="421.8" y1="228.76" x2="415.38" y2="232.47" stroke="#2b2b2b" stroke-width="0.62" stroke-linecap="round"/>
<line x1="407.82" y1="228.11" x2="407.82" y2="220.69" stroke="#2b2b2b" stroke-width="0.62" stroke-linecap="round"/>
<line x1="424.3" y1="219" x2="433.6" y2="213.8" stroke="#2b2b2b" stroke-width="0.62" stroke-linecap="round"/>
<line x1="434.55" y1="213.8" x2="434.55" y2="205.6" stroke="#2b2b2b" stroke-width="0.62" stroke-linecap="round"/>
<line x1="432.65" y1="213.8" x2="432.65" y2="205.6" stroke="#2b2b2b" stroke-width="0.62" stroke-linecap="round"/>
<text x="433.6" y="204.9" font-size="7.2" fill="#1a1a1a" text-anchor="middle" font-weight="normal" stroke="#1a1a1a" stroke-width="0.16">O</text>
<line x1="433.6" y1="213.8" x2="443" y2="219.2" stroke="#2b2b2b" stroke-width="0.62" stroke-linecap="round"/>
<line x1="443" y1="219.2" x2="452.9" y2="212.9" stroke="#2b2b2b" stroke-width="0.62" stroke-linecap="round"/>
<path d="M462.2 196.9 L471.38 202.2 L471.38 212.8 L462.2 218.1 L453.02 212.8 L453.02 202.2 Z" fill="none" stroke="#2b2b2b" stroke-width="0.62" stroke-linejoin="round"/>
<line x1="469.38" y1="203.79" x2="469.38" y2="211.21" stroke="#2b2b2b" stroke-width="0.62" stroke-linecap="round"/>
<line x1="461.82" y1="215.57" x2="455.4" y2="211.86" stroke="#2b2b2b" stroke-width="0.62" stroke-linecap="round"/>
<line x1="455.4" y1="203.14" x2="461.82" y2="199.43" stroke="#2b2b2b" stroke-width="0.62" stroke-linecap="round"/>
<path d="M479.7 230.7 L488.88 236 L488.88 246.6 L479.7 251.9 L470.52 246.6 L470.52 236 Z" fill="none" stroke="#2b2b2b" stroke-width="0.62" stroke-linejoin="round"/>
<line x1="480.08" y1="233.23" x2="486.5" y2="236.94" stroke="#2b2b2b" stroke-width="0.62" stroke-linecap="round"/>
<line x1="486.5" y1="245.66" x2="480.08" y2="249.37" stroke="#2b2b2b" stroke-width="0.62" stroke-linecap="round"/>
<line x1="472.52" y1="245.01" x2="472.52" y2="237.59" stroke="#2b2b2b" stroke-width="0.62" stroke-linecap="round"/>
<line x1="489" y1="235.9" x2="498.2" y2="230.7" stroke="#2b2b2b" stroke-width="0.62" stroke-linecap="round"/>
<line x1="499.15" y1="230.7" x2="499.15" y2="223.2" stroke="#2b2b2b" stroke-width="0.62" stroke-linecap="round"/>
<line x1="497.25" y1="230.7" x2="497.25" y2="223.2" stroke="#2b2b2b" stroke-width="0.62" stroke-linecap="round"/>
<text x="498.2" y="222.6" font-size="7.2" fill="#1a1a1a" text-anchor="middle" font-weight="normal" stroke="#1a1a1a" stroke-width="0.16">O</text>
<line x1="498.2" y1="230.7" x2="507.6" y2="236.1" stroke="#2b2b2b" stroke-width="0.62" stroke-linecap="round"/>
<line x1="507.6" y1="236.1" x2="507.6" y2="243.2" stroke="#2b2b2b" stroke-width="0.62" stroke-linecap="round"/>
<text x="503.7" y="250.6" font-size="7.4" fill="#1a1a1a" text-anchor="start" font-weight="normal" stroke="#1a1a1a" stroke-width="0.16">OH</text>
<line x1="507.6" y1="236.1" x2="517" y2="230.7" stroke="#2b2b2b" stroke-width="0.62" stroke-linecap="round"/>
<path d="M526.3 214.7 L535.48 220 L535.48 230.6 L526.3 235.9 L517.12 230.6 L517.12 220 Z" fill="none" stroke="#2b2b2b" stroke-width="0.62" stroke-linejoin="round"/>
<line x1="533.48" y1="221.59" x2="533.48" y2="229.01" stroke="#2b2b2b" stroke-width="0.62" stroke-linecap="round"/>
<line x1="525.92" y1="233.37" x2="519.5" y2="229.66" stroke="#2b2b2b" stroke-width="0.62" stroke-linecap="round"/>
<line x1="519.5" y1="220.94" x2="525.92" y2="217.23" stroke="#2b2b2b" stroke-width="0.62" stroke-linecap="round"/>
<path d="M550.8 266.6 L559.98 271.9 L559.98 282.5 L550.8 287.8 L541.62 282.5 L541.62 271.9 Z" fill="none" stroke="#2b2b2b" stroke-width="0.62" stroke-linejoin="round"/>
<line x1="551.18" y1="269.13" x2="557.6" y2="272.84" stroke="#2b2b2b" stroke-width="0.62" stroke-linecap="round"/>
<line x1="557.6" y1="281.56" x2="551.18" y2="285.27" stroke="#2b2b2b" stroke-width="0.62" stroke-linecap="round"/>
<line x1="543.62" y1="280.91" x2="543.62" y2="273.49" stroke="#2b2b2b" stroke-width="0.62" stroke-linecap="round"/>
<line x1="560" y1="271.9" x2="569.6" y2="266.4" stroke="#2b2b2b" stroke-width="0.62" stroke-linecap="round"/>
<line x1="569.6" y1="266.4" x2="569.6" y2="259.6" stroke="#2b2b2b" stroke-width="0.62" stroke-linecap="round"/>
<text x="566.5" y="258.3" font-size="7.4" fill="#1a1a1a" text-anchor="start" font-weight="normal" stroke="#1a1a1a" stroke-width="0.16">OH</text>
<line x1="569.6" y1="266.4" x2="579.2" y2="271.9" stroke="#2b2b2b" stroke-width="0.62" stroke-linecap="round"/>
<line x1="579.2" y1="271.9" x2="579.2" y2="278.2" stroke="#2b2b2b" stroke-width="0.62" stroke-linecap="round"/>
<text x="575.6" y="285.2" font-size="7.4" fill="#1a1a1a" text-anchor="start" font-weight="normal" stroke="#1a1a1a" stroke-width="0.16">OH</text>
<line x1="579.2" y1="271.9" x2="588.6" y2="266.1" stroke="#2b2b2b" stroke-width="0.62" stroke-linecap="round"/>
<path d="M597.8 250.2 L606.98 255.5 L606.98 266.1 L597.8 271.4 L588.62 266.1 L588.62 255.5 Z" fill="none" stroke="#2b2b2b" stroke-width="0.62" stroke-linejoin="round"/>
<line x1="604.98" y1="257.09" x2="604.98" y2="264.51" stroke="#2b2b2b" stroke-width="0.62" stroke-linecap="round"/>
<line x1="597.42" y1="268.87" x2="591" y2="265.16" stroke="#2b2b2b" stroke-width="0.62" stroke-linecap="round"/>
<line x1="591" y1="256.44" x2="597.42" y2="252.73" stroke="#2b2b2b" stroke-width="0.62" stroke-linecap="round"/>
<path d="M638.1 194.3 L647.28 199.6 L647.28 210.2 L638.1 215.5 L628.92 210.2 L628.92 199.6 Z" fill="none" stroke="#2b2b2b" stroke-width="0.62" stroke-linejoin="round"/>
<line x1="638.48" y1="196.83" x2="644.9" y2="200.54" stroke="#2b2b2b" stroke-width="0.62" stroke-linecap="round"/>
<line x1="644.9" y1="209.26" x2="638.48" y2="212.97" stroke="#2b2b2b" stroke-width="0.62" stroke-linecap="round"/>
<line x1="630.92" y1="208.61" x2="630.92" y2="201.19" stroke="#2b2b2b" stroke-width="0.62" stroke-linecap="round"/>
<line x1="638.1" y1="215.7" x2="638.1" y2="226.9" stroke="#2b2b2b" stroke-width="0.62" stroke-linecap="round"/>
<path d="M619.4 227.2 L628.58 232.5 L628.58 243.1 L619.4 248.4 L610.22 243.1 L610.22 232.5 Z" fill="none" stroke="#2b2b2b" stroke-width="0.62" stroke-linejoin="round"/>
<line x1="619.78" y1="229.73" x2="626.2" y2="233.44" stroke="#2b2b2b" stroke-width="0.62" stroke-linecap="round"/>
<line x1="626.2" y1="242.16" x2="619.78" y2="245.87" stroke="#2b2b2b" stroke-width="0.62" stroke-linecap="round"/>
<line x1="612.22" y1="241.51" x2="612.22" y2="234.09" stroke="#2b2b2b" stroke-width="0.62" stroke-linecap="round"/>
<line x1="638.1" y1="226.9" x2="628.7" y2="232.4" stroke="#2b2b2b" stroke-width="0.62" stroke-linecap="round"/>
<line x1="638.1" y1="226.9" x2="647.6" y2="232.5" stroke="#2b2b2b" stroke-width="0.62" stroke-linecap="round"/>
<line x1="647.6" y1="232.5" x2="657.1" y2="226.9" stroke="#2b2b2b" stroke-width="0.62" stroke-linecap="round"/>
<line x1="657.1" y1="226.9" x2="657.1" y2="220.6" stroke="#2b2b2b" stroke-width="0.62" stroke-linecap="round"/>
<text x="654.1" y="219.3" font-size="7.4" fill="#1a1a1a" text-anchor="start" font-weight="normal" stroke="#1a1a1a" stroke-width="0.16">OH</text>
<line x1="657.1" y1="226.9" x2="666.5" y2="232.4" stroke="#2b2b2b" stroke-width="0.62" stroke-linecap="round"/>
<path d="M675.8 227.2 L684.98 232.5 L684.98 243.1 L675.8 248.4 L666.62 243.1 L666.62 232.5 Z" fill="none" stroke="#2b2b2b" stroke-width="0.62" stroke-linejoin="round"/>
<line x1="682.98" y1="234.09" x2="682.98" y2="241.51" stroke="#2b2b2b" stroke-width="0.62" stroke-linecap="round"/>
<line x1="675.42" y1="245.87" x2="669" y2="242.16" stroke="#2b2b2b" stroke-width="0.62" stroke-linecap="round"/>
<line x1="669" y1="233.44" x2="675.42" y2="229.73" stroke="#2b2b2b" stroke-width="0.62" stroke-linecap="round"/>
<line x1="448.7" y1="258" x2="439.71" y2="232.76" stroke="#2f7796" stroke-width="0.7" stroke-linecap="round"/>
<path d="M438.3 228.8 L441.12 232.25 L438.3 233.26 Z" fill="#2f7796"/>
<line x1="472.6" y1="282.2" x2="477.53" y2="258.81" stroke="#2f7796" stroke-width="0.7" stroke-linecap="round"/>
<path d="M478.4 254.7 L479 259.12 L476.07 258.5 Z" fill="#2f7796"/>
<line x1="495.3" y1="280.2" x2="535.29" y2="267.66" stroke="#2f7796" stroke-width="0.7" stroke-linecap="round"/>
<path d="M539.3 266.4 L535.74 269.09 L534.84 266.23 Z" fill="#2f7796"/>
</g>
<g id="ms">
<path d="M34.2 342.6V410.2M52.49 342.6V410.2M70.78 342.6V410.2M89.07 342.6V410.2M107.36 342.6V410.2M125.65 342.6V410.2M143.94 342.6V410.2M162.23 342.6V410.2M180.52 342.6V410.2M198.81 342.6V410.2M217.1 342.6V410.2M235.39 342.6V410.2M253.68 342.6V410.2M271.97 342.6V410.2M290.26 342.6V410.2M308.55 342.6V410.2M326.84 342.6V410.2M345.13 342.6V410.2M363.42 342.6V410.2M381.71 342.6V410.2M400 342.6V410.2M418.29 342.6V410.2M436.58 342.6V410.2M454.87 342.6V410.2M473.16 342.6V410.2M491.45 342.6V410.2M509.74 342.6V410.2M528.03 342.6V410.2M546.32 342.6V410.2M564.61 342.6V410.2M582.9 342.6V410.2M601.19 342.6V410.2M619.48 342.6V410.2M637.77 342.6V410.2M656.06 342.6V410.2M674.35 342.6V410.2M18.7 393.45H694.9M18.7 376.7H694.9M18.7 359.95H694.9" stroke="#ececec" stroke-width="0.6" fill="none"/>
<path d="M18.7 342.6H694.9V410.2" fill="none" stroke="#444" stroke-width="0.7"/>
<path d="M18.7 342.6V410.2H694.9" fill="none" stroke="#222" stroke-width="1.1"/>
<path d="M19.57 409.6v2.1M23.23 409.6v2.1M26.88 409.6v2.1M30.54 409.6v2.1M34.2 409.6v3M37.86 409.6v2.1M41.52 409.6v2.1M45.17 409.6v2.1M48.83 409.6v2.1M52.49 409.6v3M56.15 409.6v2.1M59.81 409.6v2.1M63.46 409.6v2.1M67.12 409.6v2.1M70.78 409.6v3M74.44 409.6v2.1M78.1 409.6v2.1M81.75 409.6v2.1M85.41 409.6v2.1M89.07 409.6v3M92.73 409.6v2.1M96.39 409.6v2.1M100.04 409.6v2.1M103.7 409.6v2.1M107.36 409.6v3M111.02 409.6v2.1M114.68 409.6v2.1M118.33 409.6v2.1M121.99 409.6v2.1M125.65 409.6v3M129.31 409.6v2.1M132.97 409.6v2.1M136.62 409.6v2.1M140.28 409.6v2.1M143.94 409.6v3M147.6 409.6v2.1M151.26 409.6v2.1M154.91 409.6v2.1M158.57 409.6v2.1M162.23 409.6v3M165.89 409.6v2.1M169.55 409.6v2.1M173.2 409.6v2.1M176.86 409.6v2.1M180.52 409.6v3M184.18 409.6v2.1M187.84 409.6v2.1M191.49 409.6v2.1M195.15 409.6v2.1M198.81 409.6v3M202.47 409.6v2.1M206.13 409.6v2.1M209.78 409.6v2.1M213.44 409.6v2.1M217.1 409.6v3M220.76 409.6v2.1M224.42 409.6v2.1M228.07 409.6v2.1M231.73 409.6v2.1M235.39 409.6v3M239.05 409.6v2.1M242.71 409.6v2.1M246.36 409.6v2.1M250.02 409.6v2.1M253.68 409.6v3M257.34 409.6v2.1M261 409.6v2.1M264.65 409.6v2.1M268.31 409.6v2.1M271.97 409.6v3M275.63 409.6v2.1M279.29 409.6v2.1M282.94 409.6v2.1M286.6 409.6v2.1M290.26 409.6v3M293.92 409.6v2.1M297.58 409.6v2.1M301.23 409.6v2.1M304.89 409.6v2.1M308.55 409.6v3M312.21 409.6v2.1M315.87 409.6v2.1M319.52 409.6v2.1M323.18 409.6v2.1M326.84 409.6v3M330.5 409.6v2.1M334.16 409.6v2.1M337.81 409.6v2.1M341.47 409.6v2.1M345.13 409.6v3M348.79 409.6v2.1M352.45 409.6v2.1M356.1 409.6v2.1M359.76 409.6v2.1M363.42 409.6v3M367.08 409.6v2.1M370.74 409.6v2.1M374.39 409.6v2.1M378.05 409.6v2.1M381.71 409.6v3M385.37 409.6v2.1M389.03 409.6v2.1M392.68 409.6v2.1M396.34 409.6v2.1M400 409.6v3M403.66 409.6v2.1M407.32 409.6v2.1M410.97 409.6v2.1M414.63 409.6v2.1M418.29 409.6v3M421.95 409.6v2.1M425.61 409.6v2.1M429.26 409.6v2.1M432.92 409.6v2.1M436.58 409.6v3M440.24 409.6v2.1M443.9 409.6v2.1M447.55 409.6v2.1M451.21 409.6v2.1M454.87 409.6v3M458.53 409.6v2.1M462.19 409.6v2.1M465.84 409.6v2.1M469.5 409.6v2.1M473.16 409.6v3M476.82 409.6v2.1M480.48 409.6v2.1M484.13 409.6v2.1M487.79 409.6v2.1M491.45 409.6v3M495.11 409.6v2.1M498.77 409.6v2.1M502.42 409.6v2.1M506.08 409.6v2.1M509.74 409.6v3M513.4 409.6v2.1M517.06 409.6v2.1M520.71 409.6v2.1M524.37 409.6v2.1M528.03 409.6v3M531.69 409.6v2.1M535.35 409.6v2.1M539 409.6v2.1M542.66 409.6v2.1M546.32 409.6v3M549.98 409.6v2.1M553.64 409.6v2.1M557.29 409.6v2.1M560.95 409.6v2.1M564.61 409.6v3M568.27 409.6v2.1M571.93 409.6v2.1M575.58 409.6v2.1M579.24 409.6v2.1M582.9 409.6v3M586.56 409.6v2.1M590.22 409.6v2.1M593.87 409.6v2.1M597.53 409.6v2.1M601.19 409.6v3M604.85 409.6v2.1M608.51 409.6v2.1M612.16 409.6v2.1M615.82 409.6v2.1M619.48 409.6v3M623.14 409.6v2.1M626.8 409.6v2.1M630.45 409.6v2.1M634.11 409.6v2.1M637.77 409.6v3M641.43 409.6v2.1M645.09 409.6v2.1M648.74 409.6v2.1M652.4 409.6v2.1M656.06 409.6v3M659.72 409.6v2.1M663.38 409.6v2.1M667.03 409.6v2.1M670.69 409.6v2.1M674.35 409.6v3M678.01 409.6v2.1M681.67 409.6v2.1M685.32 409.6v2.1M688.98 409.6v2.1M692.64 409.6v3M19.2 410.2h-2.9M19.2 406.85h-1.9M19.2 403.5h-1.9M19.2 400.15h-1.9M19.2 396.8h-1.9M19.2 393.45h-2.9M19.2 390.1h-1.9M19.2 386.75h-1.9M19.2 383.4h-1.9M19.2 380.05h-1.9M19.2 376.7h-2.9M19.2 373.35h-1.9M19.2 370h-1.9M19.2 366.65h-1.9M19.2 363.3h-1.9M19.2 359.95h-2.9M19.2 356.6h-1.9M19.2 353.25h-1.9M19.2 349.9h-1.9M19.2 346.55h-1.9M19.2 343.2h-2.9" stroke="#222" stroke-width="0.7" fill="none"/>
<text x="34.2" y="415.1" font-size="4.1" fill="#2a2a2a" text-anchor="middle" font-weight="normal">40</text>
<text x="52.49" y="415.1" font-size="4.1" fill="#2a2a2a" text-anchor="middle" font-weight="normal">50</text>
<text x="70.78" y="415.1" font-size="4.1" fill="#2a2a2a" text-anchor="middle" font-weight="normal">60</text>
<text x="89.07" y="415.1" font-size="4.1" fill="#2a2a2a" text-anchor="middle" font-weight="normal">70</text>
<text x="107.36" y="415.1" font-size="4.1" fill="#2a2a2a" text-anchor="middle" font-weight="normal">80</text>
<text x="125.65" y="415.1" font-size="4.1" fill="#2a2a2a" text-anchor="middle" font-weight="normal">90</text>
<text x="143.94" y="415.1" font-size="4.1" fill="#2a2a2a" text-anchor="middle" font-weight="normal">100</text>
<text x="162.23" y="415.1" font-size="4.1" fill="#2a2a2a" text-anchor="middle" font-weight="normal">110</text>
<text x="180.52" y="415.1" font-size="4.1" fill="#2a2a2a" text-anchor="middle" font-weight="normal">120</text>
<text x="198.81" y="415.1" font-size="4.1" fill="#2a2a2a" text-anchor="middle" font-weight="normal">130</text>
<text x="217.1" y="415.1" font-size="4.1" fill="#2a2a2a" text-anchor="middle" font-weight="normal">140</text>
<text x="235.39" y="415.1" font-size="4.1" fill="#2a2a2a" text-anchor="middle" font-weight="normal">150</text>
<text x="253.68" y="415.1" font-size="4.1" fill="#2a2a2a" text-anchor="middle" font-weight="normal">160</text>
<text x="271.97" y="415.1" font-size="4.1" fill="#2a2a2a" text-anchor="middle" font-weight="normal">170</text>
<text x="290.26" y="415.1" font-size="4.1" fill="#2a2a2a" text-anchor="middle" font-weight="normal">180</text>
<text x="308.55" y="415.1" font-size="4.1" fill="#2a2a2a" text-anchor="middle" font-weight="normal">190</text>
<text x="326.84" y="415.1" font-size="4.1" fill="#2a2a2a" text-anchor="middle" font-weight="normal">200</text>
<text x="345.13" y="415.1" font-size="4.1" fill="#2a2a2a" text-anchor="middle" font-weight="normal">210</text>
<text x="363.42" y="415.1" font-size="4.1" fill="#2a2a2a" text-anchor="middle" font-weight="normal">220</text>
<text x="381.71" y="415.1" font-size="4.1" fill="#2a2a2a" text-anchor="middle" font-weight="normal">230</text>
<text x="400" y="415.1" font-size="4.1" fill="#2a2a2a" text-anchor="middle" font-weight="normal">240</text>
<text x="418.29" y="415.1" font-size="4.1" fill="#2a2a2a" text-anchor="middle" font-weight="normal">250</text>
<text x="436.58" y="415.1" font-size="4.1" fill="#2a2a2a" text-anchor="middle" font-weight="normal">260</text>
<text x="454.87" y="415.1" font-size="4.1" fill="#2a2a2a" text-anchor="middle" font-weight="normal">270</text>
<text x="473.16" y="415.1" font-size="4.1" fill="#2a2a2a" text-anchor="middle" font-weight="normal">280</text>
<text x="491.45" y="415.1" font-size="4.1" fill="#2a2a2a" text-anchor="middle" font-weight="normal">290</text>
<text x="509.74" y="415.1" font-size="4.1" fill="#2a2a2a" text-anchor="middle" font-weight="normal">300</text>
<text x="528.03" y="415.1" font-size="4.1" fill="#2a2a2a" text-anchor="middle" font-weight="normal">310</text>
<text x="546.32" y="415.1" font-size="4.1" fill="#2a2a2a" text-anchor="middle" font-weight="normal">320</text>
<text x="564.61" y="415.1" font-size="4.1" fill="#2a2a2a" text-anchor="middle" font-weight="normal">330</text>
<text x="582.9" y="415.1" font-size="4.1" fill="#2a2a2a" text-anchor="middle" font-weight="normal">340</text>
<text x="601.19" y="415.1" font-size="4.1" fill="#2a2a2a" text-anchor="middle" font-weight="normal">350</text>
<text x="619.48" y="415.1" font-size="4.1" fill="#2a2a2a" text-anchor="middle" font-weight="normal">360</text>
<text x="637.77" y="415.1" font-size="4.1" fill="#2a2a2a" text-anchor="middle" font-weight="normal">370</text>
<text x="656.06" y="415.1" font-size="4.1" fill="#2a2a2a" text-anchor="middle" font-weight="normal">380</text>
<text x="674.35" y="415.1" font-size="4.1" fill="#2a2a2a" text-anchor="middle" font-weight="normal">390</text>
<text x="692.64" y="415.1" font-size="4.1" fill="#2a2a2a" text-anchor="middle" font-weight="normal">400</text>
<text x="16.4" y="411.7" font-size="4.2" fill="#333" text-anchor="end" font-weight="normal">0.00</text>
<text x="16.4" y="394.95" font-size="4.2" fill="#333" text-anchor="end" font-weight="normal">0.25</text>
<text x="16.4" y="378.2" font-size="4.2" fill="#333" text-anchor="end" font-weight="normal">0.50</text>
<text x="16.4" y="361.45" font-size="4.2" fill="#333" text-anchor="end" font-weight="normal">0.75</text>
<text x="16.4" y="344.7" font-size="4.2" fill="#333" text-anchor="end" font-weight="normal">1.00</text>
<text x="16.6" y="341.6" font-size="4.0" fill="#333" text-anchor="start" font-weight="normal">(x10,000)</text>
<line x1="32.5" y1="410.2" x2="32.5" y2="408.19" stroke="#444" stroke-width="0.9"/>
<line x1="36.5" y1="410.2" x2="36.5" y2="409.19" stroke="#959595" stroke-width="0.9"/>
<line x1="52.5" y1="410.2" x2="52.5" y2="408.52" stroke="#959595" stroke-width="0.9"/>
<line x1="53.5" y1="410.2" x2="53.5" y2="405.18" stroke="#959595" stroke-width="0.9"/>
<line x1="56.5" y1="410.2" x2="56.5" y2="408.86" stroke="#959595" stroke-width="0.9"/>
<line x1="57.5" y1="410.2" x2="57.5" y2="409.19" stroke="#959595" stroke-width="0.9"/>
<line x1="76.5" y1="410.2" x2="76.5" y2="408.86" stroke="#959595" stroke-width="0.9"/>
<line x1="79.5" y1="410.2" x2="79.5" y2="408.19" stroke="#959595" stroke-width="0.9"/>
<line x1="96.5" y1="410.2" x2="96.5" y2="409.4" stroke="#959595" stroke-width="0.9"/>
<line x1="98.5" y1="410.2" x2="98.5" y2="409.19" stroke="#959595" stroke-width="0.9"/>
<line x1="100.5" y1="410.2" x2="100.5" y2="408.86" stroke="#959595" stroke-width="0.9"/>
<line x1="101.5" y1="410.2" x2="101.5" y2="383.4" stroke="#5c5c5c" stroke-width="0.9"/>
<line x1="103.5" y1="410.2" x2="103.5" y2="402.16" stroke="#959595" stroke-width="0.9"/>
<line x1="105.5" y1="410.2" x2="105.5" y2="374.69" stroke="#444" stroke-width="0.9"/>
<line x1="107.5" y1="410.2" x2="107.5" y2="407.85" stroke="#959595" stroke-width="0.9"/>
<line x1="123.5" y1="410.2" x2="123.5" y2="408.19" stroke="#959595" stroke-width="0.9"/>
<line x1="126.5" y1="410.2" x2="126.5" y2="398.14" stroke="#aaa" stroke-width="0.9"/>
<line x1="127.5" y1="410.2" x2="127.5" y2="398.14" stroke="#aaa" stroke-width="0.9"/>
<line x1="129.5" y1="410.2" x2="129.5" y2="408.86" stroke="#959595" stroke-width="0.9"/>
<line x1="147.5" y1="410.2" x2="147.5" y2="408.19" stroke="#959595" stroke-width="0.9"/>
<line x1="149.5" y1="410.2" x2="149.5" y2="396.13" stroke="#555" stroke-width="0.9"/>
<line x1="151.5" y1="410.2" x2="151.5" y2="398.14" stroke="#959595" stroke-width="0.9"/>
<line x1="152.5" y1="410.2" x2="152.5" y2="394.12" stroke="#555" stroke-width="0.9"/>
<line x1="154.5" y1="410.2" x2="154.5" y2="407.52" stroke="#959595" stroke-width="0.9"/>
<line x1="156.5" y1="410.2" x2="156.5" y2="355.26" stroke="#444" stroke-width="0.9"/>
<line x1="158.5" y1="410.2" x2="158.5" y2="399.48" stroke="#959595" stroke-width="0.9"/>
<line x1="171.5" y1="410.2" x2="171.5" y2="404.5" stroke="#666" stroke-width="0.9"/>
<line x1="173.5" y1="410.2" x2="173.5" y2="408.86" stroke="#959595" stroke-width="0.9"/>
<line x1="182.5" y1="410.2" x2="182.5" y2="404.84" stroke="#444" stroke-width="0.9"/>
<line x1="195.5" y1="410.2" x2="195.5" y2="408.99" stroke="#959595" stroke-width="0.9"/>
<line x1="215.5" y1="410.2" x2="215.5" y2="408.19" stroke="#959595" stroke-width="0.9"/>
<line x1="218.5" y1="410.2" x2="218.5" y2="408.86" stroke="#959595" stroke-width="0.9"/>
<line x1="237.5" y1="410.2" x2="237.5" y2="408.19" stroke="#959595" stroke-width="0.9"/>
<line x1="238.5" y1="410.2" x2="238.5" y2="394.45" stroke="#5e5e5e" stroke-width="0.9"/>
<line x1="240.5" y1="410.2" x2="240.5" y2="404.17" stroke="#959595" stroke-width="0.9"/>
<line x1="242.5" y1="410.2" x2="242.5" y2="408.86" stroke="#959595" stroke-width="0.9"/>
<line x1="259.5" y1="410.2" x2="259.5" y2="408.86" stroke="#959595" stroke-width="0.9"/>
<line x1="260.5" y1="410.2" x2="260.5" y2="407.52" stroke="#959595" stroke-width="0.9"/>
<line x1="262.5" y1="410.2" x2="262.5" y2="380.72" stroke="#858585" stroke-width="0.9"/>
<line x1="264.5" y1="410.2" x2="264.5" y2="398.14" stroke="#959595" stroke-width="0.9"/>
<line x1="266.5" y1="410.2" x2="266.5" y2="354.93" stroke="#555" stroke-width="0.9"/>
<line x1="268.5" y1="410.2" x2="268.5" y2="343.2" stroke="#444" stroke-width="0.9"/>
<line x1="270.5" y1="410.2" x2="270.5" y2="400.82" stroke="#959595" stroke-width="0.9"/>
<line x1="286.5" y1="410.2" x2="286.5" y2="402.83" stroke="#444" stroke-width="0.9"/>
<line x1="288.5" y1="410.2" x2="288.5" y2="398.81" stroke="#444" stroke-width="0.9"/>
<line x1="290.5" y1="410.2" x2="290.5" y2="406.85" stroke="#959595" stroke-width="0.9"/>
<line x1="292.5" y1="410.2" x2="292.5" y2="406.85" stroke="#959595" stroke-width="0.9"/>
<line x1="293.5" y1="410.2" x2="293.5" y2="408.19" stroke="#959595" stroke-width="0.9"/>
<line x1="295.5" y1="410.2" x2="295.5" y2="409.19" stroke="#959595" stroke-width="0.9"/>
<line x1="310.5" y1="410.2" x2="310.5" y2="405.51" stroke="#959595" stroke-width="0.9"/>
<line x1="312.5" y1="410.2" x2="312.5" y2="374.36" stroke="#666" stroke-width="0.9"/>
<line x1="314.5" y1="410.2" x2="314.5" y2="403.16" stroke="#959595" stroke-width="0.9"/>
<line x1="315.5" y1="410.2" x2="315.5" y2="408.86" stroke="#959595" stroke-width="0.9"/>
<line x1="345.5" y1="410.2" x2="345.5" y2="406.85" stroke="#959595" stroke-width="0.9"/>
<line x1="398.5" y1="410.2" x2="398.5" y2="409.4" stroke="#959595" stroke-width="0.9"/>
<line x1="427.5" y1="410.2" x2="427.5" y2="406.18" stroke="#444" stroke-width="0.9"/>
<line x1="453.5" y1="410.2" x2="453.5" y2="406.18" stroke="#444" stroke-width="0.9"/>
<line x1="454.5" y1="410.2" x2="454.5" y2="361.62" stroke="#444" stroke-width="0.9"/>
<line x1="456.5" y1="410.2" x2="456.5" y2="398.14" stroke="#444" stroke-width="0.9"/>
<line x1="458.5" y1="410.2" x2="458.5" y2="408.19" stroke="#444" stroke-width="0.9"/>
<line x1="484.5" y1="410.2" x2="484.5" y2="409.53" stroke="#959595" stroke-width="0.9"/>
<line x1="506.5" y1="410.2" x2="506.5" y2="409.53" stroke="#959595" stroke-width="0.9"/>
<text x="32.4" y="407.99" font-size="4.3" fill="#3a3af0" text-anchor="middle" font-weight="normal">39</text>
<text x="53.6" y="404.98" font-size="4.3" fill="#3a3af0" text-anchor="middle" font-weight="normal">51</text>
<text x="105.2" y="373.49" font-size="4.3" fill="#3a3af0" text-anchor="middle" font-weight="normal">79</text>
<text x="156.5" y="354.73" font-size="4.3" fill="#3a3af0" text-anchor="middle" font-weight="normal">107</text>
<text x="158.9" y="398.94" font-size="4.3" fill="#3a3af0" text-anchor="middle" font-weight="normal">108</text>
<text x="194.5" y="410" font-size="4.3" fill="#3a3af0" text-anchor="middle" font-weight="normal">128</text>
<text x="238.8" y="394.25" font-size="4.3" fill="#3a3af0" text-anchor="middle" font-weight="normal">152</text>
<text x="268.2" y="346.69" font-size="4.3" fill="#3a3af0" text-anchor="middle" font-weight="normal">168</text>
<text x="312" y="374.16" font-size="4.3" fill="#3a3af0" text-anchor="middle" font-weight="normal">192</text>
<text x="345" y="406.65" font-size="4.3" fill="#3a3af0" text-anchor="middle" font-weight="normal">210</text>
<text x="398" y="410" font-size="4.3" fill="#3a3af0" text-anchor="middle" font-weight="normal">239</text>
<text x="427" y="405.98" font-size="4.3" fill="#3a3af0" text-anchor="middle" font-weight="normal">255</text>
<text x="454.6" y="361.43" font-size="4.3" fill="#3a3af0" text-anchor="middle" font-weight="normal">270</text>
<text x="484" y="410" font-size="4.3" fill="#3a3af0" text-anchor="middle" font-weight="normal">286</text>
<text x="506" y="410" font-size="4.3" fill="#3a3af0" text-anchor="middle" font-weight="normal">298</text>
<text x="558.8" y="410" font-size="4.3" fill="#3a3af0" text-anchor="middle" font-weight="normal">327</text>
<text x="584.5" y="410" font-size="4.3" fill="#3a3af0" text-anchor="middle" font-weight="normal">341</text>
<text x="610" y="410" font-size="4.3" fill="#3a3af0" text-anchor="middle" font-weight="normal">355</text>
<text x="645.5" y="410" font-size="4.3" fill="#3a3af0" text-anchor="middle" font-weight="normal">374</text>
<text x="680" y="410" font-size="4.3" fill="#3a3af0" text-anchor="middle" font-weight="normal">393</text>
<path d="M640 347.1 L649.09 352.35 L649.09 362.85 L640 368.1 L630.91 362.85 L630.91 352.35 Z" fill="none" stroke="#2b2b2b" stroke-width="0.62" stroke-linejoin="round"/>
<line x1="640.36" y1="349.62" x2="646.73" y2="353.29" stroke="#2b2b2b" stroke-width="0.62" stroke-linecap="round"/>
<line x1="646.73" y1="361.91" x2="640.36" y2="365.58" stroke="#2b2b2b" stroke-width="0.62" stroke-linecap="round"/>
<line x1="632.91" y1="361.28" x2="632.91" y2="353.93" stroke="#2b2b2b" stroke-width="0.62" stroke-linecap="round"/>
<line x1="640" y1="368.2" x2="640" y2="379.5" stroke="#2b2b2b" stroke-width="0.62" stroke-linecap="round"/>
<path d="M621.3 379.6 L630.39 384.85 L630.39 395.35 L621.3 400.6 L612.21 395.35 L612.21 384.85 Z" fill="none" stroke="#2b2b2b" stroke-width="0.62" stroke-linejoin="round"/>
<line x1="621.66" y1="382.12" x2="628.03" y2="385.79" stroke="#2b2b2b" stroke-width="0.62" stroke-linecap="round"/>
<line x1="628.03" y1="394.41" x2="621.66" y2="398.08" stroke="#2b2b2b" stroke-width="0.62" stroke-linecap="round"/>
<line x1="614.21" y1="393.78" x2="614.21" y2="386.43" stroke="#2b2b2b" stroke-width="0.62" stroke-linecap="round"/>
<line x1="640" y1="379.5" x2="630.5" y2="384.8" stroke="#2b2b2b" stroke-width="0.62" stroke-linecap="round"/>
<line x1="640" y1="379.5" x2="649.3" y2="384.6" stroke="#2b2b2b" stroke-width="0.62" stroke-linecap="round"/>
<line x1="649.3" y1="384.6" x2="658.8" y2="379.5" stroke="#2b2b2b" stroke-width="0.62" stroke-linecap="round"/>
<line x1="658.8" y1="379.5" x2="658.8" y2="373.2" stroke="#2b2b2b" stroke-width="0.62" stroke-linecap="round"/>
<text x="655.3" y="371.9" font-size="7.4" fill="#1a1a1a" text-anchor="start" font-weight="normal" stroke="#1a1a1a" stroke-width="0.16">OH</text>
<line x1="658.8" y1="379.5" x2="668.2" y2="384.8" stroke="#2b2b2b" stroke-width="0.62" stroke-linecap="round"/>
<path d="M677.4 379.6 L686.49 384.85 L686.49 395.35 L677.4 400.6 L668.31 395.35 L668.31 384.85 Z" fill="none" stroke="#2b2b2b" stroke-width="0.62" stroke-linejoin="round"/>
<line x1="684.49" y1="386.43" x2="684.49" y2="393.78" stroke="#2b2b2b" stroke-width="0.62" stroke-linecap="round"/>
<line x1="677.04" y1="398.08" x2="670.67" y2="394.41" stroke="#2b2b2b" stroke-width="0.62" stroke-linecap="round"/>
<line x1="670.67" y1="385.79" x2="677.04" y2="382.12" stroke="#2b2b2b" stroke-width="0.62" stroke-linecap="round"/>
</g>
<g id="panel-b">
<text x="7.6" y="436.3" font-size="15.6" fill="#111" text-anchor="start" font-weight="normal" stroke="#111" stroke-width="0.22">b</text>
<clipPath id="cb"><rect x="28.6" y="429.8" width="307.4" height="230.8"/></clipPath>
<path d="M28.6 659.49 L28.84 659.47 L29.07 659.5 L29.31 659.49 L29.55 659.48 L29.78 659.49 L30.02 659.43 L30.26 659.44 L30.49 659.4 L30.73 659.45 L30.97 659.45 L31.2 659.47 L31.44 659.47 L31.67 659.48 L31.91 659.45 L32.15 659.45 L32.38 659.47 L32.62 659.45 L32.86 659.46 L33.09 659.48 L33.33 659.5 L33.57 659.5 L33.8 659.46 L34.04 659.49 L34.28 659.49 L34.51 659.47 L34.75 659.49 L34.99 659.38 L35.22 659.42 L35.46 659.38 L35.7 659.5 L35.93 659.48 L36.17 659.49 L36.41 659.49 L36.64 659.46 L36.88 659.47 L37.12 659.49 L37.35 659.48 L37.59 659.48 L37.83 659.43 L38.06 659.49 L38.3 659.49 L38.53 659.47 L38.77 659.47 L39.01 659.49 L39.24 659.41 L39.48 659.46 L39.72 659.48 L39.95 659.49 L40.19 659.48 L40.43 659.49 L40.66 659.5 L40.9 659.47 L41.14 659.48 L41.37 659.44 L41.61 659.41 L41.85 659.36 L42.08 659.42 L42.32 659.46 L42.56 659.47 L42.79 659.48 L43.03 659.49 L43.27 659.49 L43.5 659.47 L43.74 659.47 L43.98 659.48 L44.21 659.43 L44.45 659.46 L44.68 659.45 L44.92 659.49 L45.16 659.4 L45.39 659.42 L45.63 659.46 L45.87 659.43 L46.1 659.48 L46.34 659.48 L46.58 659.47 L46.81 659.46 L47.05 659.4 L47.29 659.45 L47.52 659.47 L47.76 659.45 L48 659.36 L48.23 659.4 L48.47 659.43 L48.71 659.43 L48.94 659.47 L49.18 659.44 L49.42 659.4 L49.65 659.43 L49.89 659.46 L50.12 659.47 L50.36 659.47 L50.6 659.46 L50.83 659.48 L51.07 659.44 L51.31 659.48 L51.54 659.4 L51.78 659.42 L52.02 659.49 L52.25 659.47 L52.49 659.44 L52.73 659.47 L52.96 659.4 L53.2 659.5 L53.44 659.49 L53.67 659.43 L53.91 659.47 L54.15 659.48 L54.38 659.45 L54.62 659.37 L54.86 659.49 L55.09 659.47 L55.33 659.49 L55.57 659.49 L55.8 659.49 L56.04 659.4 L56.27 659.49 L56.51 659.42 L56.75 659.48 L56.98 659.47 L57.22 659.48 L57.46 659.41 L57.69 659.4 L57.93 659.44 L58.17 659.47 L58.4 659.48 L58.64 659.45 L58.88 659.5 L59.11 659.48 L59.35 659.45 L59.59 659.48 L59.82 659.44 L60.06 659.43 L60.3 659.32 L60.53 659.41 L60.77 659.5 L61.01 659.49 L61.24 659.5 L61.48 659.43 L61.72 659.5 L61.95 659.47 L62.19 659.35 L62.42 659.46 L62.66 659.46 L62.9 659.49 L63.13 659.48 L63.37 659.47 L63.61 659.49 L63.84 659.46 L64.08 659.46 L64.32 659.49 L64.55 659.32 L64.79 659.41 L65.03 659.5 L65.26 659.5 L65.5 659.49 L65.74 659.5 L65.97 659.44 L66.21 659.47 L66.45 659.46 L66.68 659.48 L66.92 659.49 L67.16 659.44 L67.39 659.41 L67.63 659.36 L67.87 659.48 L68.1 659.48 L68.34 659.49 L68.58 659.47 L68.81 659.41 L69.05 659.45 L69.28 659.48 L69.52 659.47 L69.76 659.48 L69.99 659.47 L70.23 659.49 L70.47 659.42 L70.7 659.48 L70.94 659.48 L71.18 659.43 L71.41 659.46 L71.65 659.49 L71.89 659.36 L72.12 659.34 L72.36 659.45 L72.6 659.2 L72.83 659.46 L73.07 659.36 L73.31 659.42 L73.54 659.4 L73.78 659.33 L74.02 659.35 L74.25 659.31 L74.49 659.5 L74.72 659.48 L74.96 659.36 L75.2 659.44 L75.43 659.47 L75.67 659.49 L75.91 659.25 L76.14 659.2 L76.38 659.1 L76.62 659.31 L76.85 659.28 L77.09 659.38 L77.33 659.21 L77.56 659.05 L77.8 659.26 L78.04 659.06 L78.27 659.04 L78.51 659.16 L78.75 659.39 L78.98 659.09 L79.22 659.15 L79.46 659.21 L79.69 659.12 L79.93 659.07 L80.17 658.91 L80.4 659.11 L80.64 658.9 L80.88 658.75 L81.11 658.66 L81.35 658.79 L81.58 658.87 L81.82 658.64 L82.06 658.63 L82.29 658.59 L82.53 658.37 L82.77 658.48 L83 658.75 L83.24 658.55 L83.48 658.63 L83.71 658.24 L83.95 658.1 L84.19 658.09 L84.42 657.9 L84.66 657.59 L84.9 657.48 L85.13 657.14 L85.37 657.12 L85.61 656.83 L85.84 656.54 L86.08 656.3 L86.32 656.49 L86.55 656.18 L86.79 656.43 L87.03 656.27 L87.26 656.26 L87.5 655.61 L87.73 655.68 L87.97 655.38 L88.21 655.19 L88.44 654.98 L88.68 654.9 L88.92 654.61 L89.15 654.1 L89.39 654.12 L89.63 653.75 L89.86 653.25 L90.1 653.62 L90.34 654.23 L90.57 653.91 L90.81 652.68 L91.05 653.62 L91.28 653.07 L91.52 651.6 L91.76 650.9 L91.99 650.85 L92.23 650 L92.47 649.81 L92.7 650.37 L92.94 650.55 L93.17 649.66 L93.41 647.92 L93.65 648.09 L93.88 648.11 L94.12 647.72 L94.36 647.88 L94.59 646.53 L94.83 646.61 L95.07 645.09 L95.3 646.49 L95.54 644.46 L95.78 644.26 L96.01 644.98 L96.25 642.61 L96.49 642.26 L96.72 643.42 L96.96 642.15 L97.2 640.12 L97.43 639.56 L97.67 637.66 L97.91 636.47 L98.14 635.58 L98.38 635.05 L98.62 633.31 L98.85 632.83 L99.09 632.33 L99.33 634.26 L99.56 631.26 L99.8 629.22 L100.03 629.69 L100.27 629.51 L100.51 626.23 L100.74 628.68 L100.98 626.49 L101.22 622.93 L101.45 625 L101.69 623.29 L101.93 620.7 L102.16 621.57 L102.4 620.42 L102.64 618.94 L102.87 619.96 L103.11 618.62 L103.35 616.99 L103.58 615.05 L103.82 614.78 L104.06 614.21 L104.29 614.4 L104.53 612.93 L104.77 610.05 L105 609.42 L105.24 609.81 L105.47 609.26 L105.71 603.52 L105.95 602.93 L106.18 602.73 L106.42 606.57 L106.66 602.64 L106.89 600.78 L107.13 597.68 L107.37 597.72 L107.6 597.74 L107.84 596.11 L108.08 598.44 L108.31 593.94 L108.55 592.57 L108.79 592.81 L109.02 588.88 L109.26 585.87 L109.5 589 L109.73 588.08 L109.97 585.36 L110.21 583.72 L110.44 583.23 L110.68 583.14 L110.92 577.14 L111.15 575.96 L111.39 578.4 L111.62 578.67 L111.86 572.73 L112.1 570.99 L112.33 568.07 L112.57 567.92 L112.81 569.93 L113.04 567.81 L113.28 570.5 L113.52 568.15 L113.75 565.32 L113.99 562.51 L114.23 563.02 L114.46 561.35 L114.7 558.94 L114.94 557.48 L115.17 555.72 L115.41 555.14 L115.65 555.16 L115.88 552.32 L116.12 551.95 L116.36 552.71 L116.59 551.84 L116.83 549.59 L117.07 548.25 L117.3 546.51 L117.54 545.44 L117.78 543.96 L118.01 543.28 L118.25 544.48 L118.48 540.86 L118.72 537.6 L118.96 536.97 L119.19 537.3 L119.43 535.51 L119.67 537.09 L119.9 538.9 L120.14 535 L120.38 535.02 L120.61 531.06 L120.85 532.73 L121.09 535.81 L121.32 533.09 L121.56 526.25 L121.8 527.2 L122.03 528.9 L122.27 527.67 L122.51 524.05 L122.74 522.22 L122.98 521.61 L123.22 518.16 L123.45 517.91 L123.69 518.67 L123.92 517.09 L124.16 513.81 L124.4 513.45 L124.63 512.68 L124.87 516.14 L125.11 515.02 L125.34 512.42 L125.58 513.15 L125.82 510.24 L126.05 509.75 L126.29 508.53 L126.53 509.93 L126.76 504.45 L127 504.74 L127.24 507.35 L127.47 507.22 L127.71 501.71 L127.95 505.28 L128.18 503.65 L128.42 502.45 L128.66 503.56 L128.89 505.89 L129.13 503.56 L129.37 501.97 L129.6 499.45 L129.84 498.86 L130.07 499.8 L130.31 498.14 L130.55 497.92 L130.78 498.32 L131.02 498.59 L131.26 499.14 L131.49 497.31 L131.73 500.02 L131.97 499.96 L132.2 498.51 L132.44 500.8 L132.68 499.39 L132.91 501.9 L133.15 499.96 L133.39 496.61 L133.62 495.29 L133.86 495.93 L134.1 496.36 L134.33 498.74 L134.57 492.89 L134.81 493.33 L135.04 492.17 L135.28 495.59 L135.52 495.24 L135.75 498.27 L135.99 493.98 L136.22 492.08 L136.46 497.04 L136.7 495 L136.93 492.86 L137.17 496.87 L137.41 498.34 L137.64 497.28 L137.88 495.97 L138.12 497.01 L138.35 494.44 L138.59 493.04 L138.83 491.72 L139.06 491.07 L139.3 489.18 L139.54 489.14 L139.77 494.05 L140.01 494.09 L140.25 495.17 L140.48 495.52 L140.72 493.59 L140.96 492.68 L141.19 491.35 L141.43 495.04 L141.67 495.63 L141.9 493.45 L142.14 493.12 L142.38 493.33 L142.61 493.01 L142.85 494.4 L143.08 492.06 L143.32 492.04 L143.56 493.03 L143.79 494.66 L144.03 494.34 L144.27 499.45 L144.5 497.85 L144.74 495.35 L144.98 497.68 L145.21 495.17 L145.45 494.51 L145.69 497.45 L145.92 496.31 L146.16 496.15 L146.4 494.65 L146.63 493.92 L146.87 495.08 L147.11 497.24 L147.34 496.69 L147.58 496.47 L147.82 494.92 L148.05 495.39 L148.29 497.74 L148.53 499.97 L148.76 498.91 L149 499.41 L149.23 500.46 L149.47 498.96 L149.71 499.33 L149.94 498.39 L150.18 497.35 L150.42 499.01 L150.65 494.21 L150.89 497.99 L151.13 496.59 L151.36 498.2 L151.6 496.9 L151.84 503.6 L152.07 502.81 L152.31 500.66 L152.55 499.33 L152.78 495.51 L153.02 498.36 L153.26 497.56 L153.49 498.45 L153.73 498.53 L153.97 499.57 L154.2 501.41 L154.44 500.85 L154.68 503.98 L154.91 500.67 L155.15 504.06 L155.38 502.82 L155.62 498.73 L155.86 502.1 L156.09 502.87 L156.33 500.89 L156.57 502.54 L156.8 504.86 L157.04 503.58 L157.28 502.53 L157.51 501.96 L157.75 504.8 L157.99 500.77 L158.22 499.59 L158.46 502.55 L158.7 503.13 L158.93 504.8 L159.17 501.73 L159.41 504.97 L159.64 503.39 L159.88 505.21 L160.12 506.34 L160.35 503.94 L160.59 501.92 L160.82 503.96 L161.06 506.04 L161.3 503.77 L161.53 504.66 L161.77 504.15 L162.01 501.43 L162.24 501.14 L162.48 504.23 L162.72 499.55 L162.95 502.38 L163.19 501.67 L163.43 504.18 L163.66 503.73 L163.9 506.88 L164.14 500.74 L164.37 499.32 L164.61 503.89 L164.85 505.95 L165.08 506.78 L165.32 501.32 L165.56 502.58 L165.79 502.09 L166.03 502.3 L166.27 501.87 L166.5 503.54 L166.74 501.77 L166.97 503.96 L167.21 501.86 L167.45 500.23 L167.68 499.23 L167.92 500.16 L168.16 501.73 L168.39 500.05 L168.63 500.67 L168.87 496.69 L169.1 496.84 L169.34 498.61 L169.58 499.89 L169.81 500.74 L170.05 501.44 L170.29 500.45 L170.52 498.74 L170.76 497.64 L171 497.08 L171.23 493.75 L171.47 498.16 L171.71 498.2 L171.94 492.56 L172.18 499.9 L172.42 499.7 L172.65 498.18 L172.89 497.61 L173.12 496.85 L173.36 497.82 L173.6 496.88 L173.83 497.12 L174.07 495.69 L174.31 500.49 L174.54 500.09 L174.78 498.12 L175.02 499.46 L175.25 499.96 L175.49 496.82 L175.73 498.39 L175.96 496.49 L176.2 495.75 L176.44 496.53 L176.67 496.55 L176.91 497.95 L177.15 501.21 L177.38 499.73 L177.62 498.39 L177.86 500.05 L178.09 499.92 L178.33 498.32 L178.57 501.19 L178.8 499.29 L179.04 496.32 L179.27 500.29 L179.51 500.43 L179.75 501.22 L179.98 498.25 L180.22 499.83 L180.46 499.37 L180.69 502.56 L180.93 502.49 L181.17 502.64 L181.4 506.45 L181.64 501.53 L181.88 501.11 L182.11 506.51 L182.35 503.6 L182.59 504.56 L182.82 503.95 L183.06 504.11 L183.3 508.14 L183.53 507.18 L183.77 503.63 L184.01 506.77 L184.24 508.98 L184.48 510.65 L184.72 511.18 L184.95 508.44 L185.19 504.97 L185.43 506.52 L185.66 507.65 L185.9 504.26 L186.13 508.83 L186.37 510.96 L186.61 509.5 L186.84 509.17 L187.08 512.41 L187.32 514.08 L187.55 511.94 L187.79 511.49 L188.03 514.68 L188.26 513.79 L188.5 514.38 L188.74 512.79 L188.97 513.61 L189.21 514.05 L189.45 514.95 L189.68 512.63 L189.92 511.34 L190.16 514.62 L190.39 513.52 L190.63 516.55 L190.87 516.14 L191.1 514.82 L191.34 513.01 L191.57 516.39 L191.81 517.14 L192.05 517.06 L192.28 520.63 L192.52 519.02 L192.76 520.04 L192.99 518.49 L193.23 521.15 L193.47 523.98 L193.7 521.11 L193.94 519.85 L194.18 521.23 L194.41 519.02 L194.65 520.77 L194.89 522.24 L195.12 520.77 L195.36 524.57 L195.6 524.29 L195.83 523.07 L196.07 521.08 L196.31 522.62 L196.54 522.4 L196.78 524.45 L197.02 523.44 L197.25 520.53 L197.49 524.43 L197.72 519.84 L197.96 524.45 L198.2 524.9 L198.43 524.89 L198.67 523.32 L198.91 527.47 L199.14 530.81 L199.38 526.67 L199.62 524.99 L199.85 524.9 L200.09 520.97 L200.33 524.63 L200.56 525.95 L200.8 525.21 L201.04 526.22 L201.27 524.11 L201.51 529.36 L201.75 529.61 L201.98 536.02 L202.22 529.84 L202.46 530.21 L202.69 527.88 L202.93 524.74 L203.17 528.13 L203.4 529.96 L203.64 531.24 L203.88 532.5 L204.11 532.65 L204.35 530.27 L204.58 530.76 L204.82 530.98 L205.06 531.64 L205.29 529.79 L205.53 530.09 L205.77 531.59 L206 530.59 L206.24 531.99 L206.48 534.6 L206.71 530.38 L206.95 530.99 L207.19 534.18 L207.42 531.3 L207.66 531.88 L207.9 536.03 L208.13 531.2 L208.37 532.19 L208.61 531.51 L208.84 532.78 L209.08 534.03 L209.32 537.38 L209.55 533.6 L209.79 534.27 L210.03 535.25 L210.26 534.42 L210.5 534.78 L210.73 533.82 L210.97 535.69 L211.21 535.77 L211.44 540.12 L211.68 538.31 L211.92 535.59 L212.15 533.43 L212.39 536.17 L212.63 536.75 L212.86 533.66 L213.1 536.49 L213.34 535.48 L213.57 533.35 L213.81 535.98 L214.05 534.64 L214.28 538.13 L214.52 537.63 L214.76 538.13 L214.99 538.03 L215.23 536.09 L215.47 533.02 L215.7 538.11 L215.94 539.81 L216.18 538.39 L216.41 541.07 L216.65 539.05 L216.88 538.3 L217.12 539.82 L217.36 538.87 L217.59 542.74 L217.83 539.67 L218.07 543.26 L218.3 543 L218.54 542.79 L218.78 542.58 L219.01 540.2 L219.25 541.06 L219.49 542.47 L219.72 541.29 L219.96 539.02 L220.2 541.47 L220.43 541.8 L220.67 540.38 L220.91 541.95 L221.14 545.68 L221.38 539.83 L221.62 538.5 L221.85 546.33 L222.09 545.47 L222.32 544.46 L222.56 543.21 L222.8 543.52 L223.03 545.61 L223.27 548.02 L223.51 546.8 L223.74 544.76 L223.98 548.29 L224.22 549.58 L224.45 548.27 L224.69 551.64 L224.93 549.78 L225.16 549.64 L225.4 548.06 L225.64 549.88 L225.87 551.02 L226.11 550.66 L226.35 550.05 L226.58 551.17 L226.82 550.45 L227.06 548.97 L227.29 547.8 L227.53 546.57 L227.77 551.02 L228 552.06 L228.24 556.48 L228.47 549.94 L228.71 552.76 L228.95 552.61 L229.18 551.69 L229.42 555.06 L229.66 552.99 L229.89 553.36 L230.13 557.02 L230.37 554.51 L230.6 552.12 L230.84 557.16 L231.08 554.11 L231.31 554.32 L231.55 554.07 L231.79 554.21 L232.02 552.82 L232.26 555.31 L232.5 554.29 L232.73 556.44 L232.97 555.21 L233.21 557.74 L233.44 557.45 L233.68 554.08 L233.92 555.39 L234.15 557.09 L234.39 559.61 L234.62 559.97 L234.86 558.41 L235.1 556.61 L235.33 557.05 L235.57 557.15 L235.81 558.34 L236.04 556.33 L236.28 558.93 L236.52 560.26 L236.75 558.22 L236.99 559.13 L237.23 560.2 L237.46 561.23 L237.7 561.13 L237.94 559.62 L238.17 559.71 L238.41 562.69 L238.65 560.89 L238.88 560.84 L239.12 563.07 L239.36 560.77 L239.59 561.99 L239.83 562.63 L240.07 560.94 L240.3 559.53 L240.54 562.77 L240.78 562 L241.01 564.22 L241.25 559.39 L241.48 562.86 L241.72 561.17 L241.96 564 L242.19 562.5 L242.43 559.58 L242.67 567.19 L242.9 566.21 L243.14 564.32 L243.38 564.84 L243.61 566.17 L243.85 561.74 L244.09 564 L244.32 567.97 L244.56 565.05 L244.8 568.71 L245.03 565.03 L245.27 566.92 L245.51 566.43 L245.74 564.4 L245.98 565.84 L246.22 569.12 L246.45 570.92 L246.69 566.59 L246.93 565.96 L247.16 568.59 L247.4 566.67 L247.63 566.75 L247.87 566.62 L248.11 571.78 L248.34 570.27 L248.58 567.74 L248.82 567.26 L249.05 566.94 L249.29 572.77 L249.53 570.33 L249.76 569.03 L250 565.09 L250.24 569.93 L250.47 570.64 L250.71 570.37 L250.95 568.9 L251.18 570.81 L251.42 568.83 L251.66 571.59 L251.89 570.84 L252.13 572.07 L252.37 571.42 L252.6 572.76 L252.84 574.91 L253.07 571.13 L253.31 571.28 L253.55 572.92 L253.78 572.3 L254.02 570.83 L254.26 573.81 L254.49 573.47 L254.73 572.35 L254.97 572.09 L255.2 573.58 L255.44 577.24 L255.68 572.91 L255.91 573.06 L256.15 573.76 L256.39 574.61 L256.62 574.1 L256.86 575.2 L257.1 576.71 L257.33 576.86 L257.57 576.78 L257.81 576.89 L258.04 577.96 L258.28 575.4 L258.52 577.91 L258.75 575.56 L258.99 577.68 L259.23 576.22 L259.46 574.1 L259.7 575.44 L259.93 577.58 L260.17 577.12 L260.41 576.88 L260.64 580.03 L260.88 579.31 L261.12 577.83 L261.35 578.43 L261.59 577.78 L261.83 576.52 L262.06 576.09 L262.3 575.76 L262.54 576.24 L262.77 577.93 L263.01 578.14 L263.25 578.69 L263.48 579.01 L263.72 578.97 L263.96 581.58 L264.19 580.24 L264.43 579.32 L264.67 580.64 L264.9 579.58 L265.14 578.37 L265.38 579.14 L265.61 575.75 L265.85 582.4 L266.08 580.8 L266.32 582.99 L266.56 579.17 L266.79 575.12 L267.03 582.3 L267.27 580.52 L267.5 579.31 L267.74 580.31 L267.98 579.31 L268.21 583.63 L268.45 580.1 L268.69 579.71 L268.92 580.22 L269.16 581.46 L269.4 579.93 L269.63 581.31 L269.87 580.69 L270.11 581.74 L270.34 585.02 L270.58 582.59 L270.82 581.42 L271.05 580.16 L271.29 582.46 L271.52 581.94 L271.76 580.75 L272 581.17 L272.23 579.58 L272.47 577.87 L272.71 582.07 L272.94 585.25 L273.18 581.89 L273.42 579.68 L273.65 579.96 L273.89 580.29 L274.13 582.79 L274.36 583.86 L274.6 581.65 L274.84 583.8 L275.07 586 L275.31 585.42 L275.55 579.51 L275.78 578.34 L276.02 582.16 L276.26 583.54 L276.49 582.43 L276.73 583.62 L276.97 580.65 L277.2 581.85 L277.44 583.89 L277.67 580.67 L277.91 582.6 L278.15 581.94 L278.38 582.07 L278.62 582.58 L278.86 581.69 L279.09 583.02 L279.33 585.34 L279.57 586.72 L279.8 585.64 L280.04 584.41 L280.28 582.75 L280.51 582.01 L280.75 580.91 L280.99 581.21 L281.22 582.79 L281.46 583.18 L281.7 585.6 L281.93 583.23 L282.17 581.3 L282.41 580.53 L282.64 581.3 L282.88 581.63 L283.12 579.9 L283.35 580.78 L283.59 579.88 L283.82 579.79 L284.06 580.34 L284.3 578.71 L284.53 581.2 L284.77 581.7 L285.01 582.59 L285.24 582.85 L285.48 579.05 L285.72 577.36 L285.95 579.6 L286.19 579.46 L286.43 578.39 L286.66 578.6 L286.9 577.99 L287.14 581.81 L287.37 582.1 L287.61 580.38 L287.85 578.13 L288.08 579.52 L288.32 581.58 L288.56 581.47 L288.79 581.96 L289.03 582.49 L289.27 578.83 L289.5 581.09 L289.74 580.86 L289.98 577.3 L290.21 577.7 L290.45 579.28 L290.68 581.43 L290.92 580.55 L291.16 578.29 L291.39 579.18 L291.63 578.49 L291.87 580.19 L292.1 580.15 L292.34 581.35 L292.58 580.78 L292.81 579.2 L293.05 583.16 L293.29 582.34 L293.52 581.6 L293.76 582.71 L294 582.71 L294.23 580.96 L294.47 578.41 L294.71 579.8 L294.94 580.82 L295.18 584.29 L295.42 579.86 L295.65 581.38 L295.89 582.13 L296.12 584.2 L296.36 583.24 L296.6 584.66 L296.83 583.33 L297.07 582.34 L297.31 582.85 L297.54 582.81 L297.78 584.83 L298.02 582.05 L298.25 584.65 L298.49 587.64 L298.73 586.26 L298.96 586.9 L299.2 587.72 L299.44 587.16 L299.67 586.14 L299.91 588.33 L300.15 587.64 L300.38 585.12 L300.62 585.62 L300.86 587.32 L301.09 587.68 L301.33 588.4 L301.57 588.74 L301.8 587.83 L302.04 589.02 L302.27 593.25 L302.51 591.21 L302.75 592.05 L302.98 590.15 L303.22 591.64 L303.46 591.19 L303.69 588.1 L303.93 592.21 L304.17 593.96 L304.4 595.22 L304.64 597.36 L304.88 597.52 L305.11 594.34 L305.35 594.94 L305.59 597.19 L305.82 597.54 L306.06 594.61 L306.3 595.82 L306.53 595.76 L306.77 594.82 L307.01 593.07 L307.24 591.71 L307.48 592.74 L307.72 594.57 L307.95 595.28 L308.19 593.23 L308.42 593.21 L308.66 595.94 L308.9 595.87 L309.13 596.24 L309.37 596.85 L309.61 598.01 L309.84 599.78 L310.08 599.35 L310.32 600.83 L310.55 597.38 L310.79 597.32 L311.03 600 L311.26 597.24 L311.5 597.15 L311.74 601.36 L311.97 597.46 L312.21 597.74 L312.45 596.14 L312.68 600.53 L312.92 599.62 L313.16 599.59 L313.39 600.03 L313.63 600.33 L313.87 599.23 L314.1 602.59 L314.34 603.42 L314.57 603.94 L314.81 602.9 L315.05 602.61 L315.28 601.1 L315.52 600.72 L315.76 600.92 L315.99 602.02 L316.23 602.07 L316.47 600.06 L316.7 599.63 L316.94 600.44 L317.18 601.34 L317.41 598.94 L317.65 601.21 L317.89 600.2 L318.12 599.12 L318.36 600.79 L318.6 599.8 L318.83 602.26 L319.07 600.04 L319.31 600.44 L319.54 603.17 L319.78 600.86 L320.02 602.31 L320.25 599.67 L320.49 601.58 L320.73 601.48 L320.96 600.74 L321.2 601.3 L321.43 600.53 L321.67 601.32 L321.91 599.68 L322.14 599.94 L322.38 599.6 L322.62 603.68 L322.85 599.26 L323.09 599.23 L323.33 601.75 L323.56 599.75 L323.8 598.36 L324.04 596.86 L324.27 599.38 L324.51 596.24 L324.75 597.53 L324.98 594.07 L325.22 596.49 L325.46 595.98 L325.69 597.23 L325.93 598.65 L326.17 595.74 L326.4 594.92 L326.64 593.65 L326.88 594.26 L327.11 596.7 L327.35 599.29 L327.58 598.82 L327.82 598.83 L328.06 599.17 L328.29 597.34 L328.53 597.21 L328.77 598.19 L329 598 L329.24 598.54 L329.48 598.33 L329.71 597.6 L329.95 597.17 L330.19 599.57 L330.42 601.74 L330.66 598.33 L330.9 599.2 L331.13 598.18 L331.37 601.97 L331.61 601.51 L331.84 600.98 L332.08 603.09 L332.32 602.68 L332.55 600.98 L332.79 600.15 L333.02 599.41 L333.26 602.98 L333.5 605.29 L333.73 603.66 L333.97 602.79 L334.21 603.84 L334.44 606.61 L334.68 604.95 L334.92 604.66 L335.15 605.19 L335.39 607.12 L335.63 607 L335.86 606.58 L336.1 608.59" fill="none" stroke="#4b4b4b" stroke-width="1.25" stroke-linejoin="round" clip-path="url(#cb)"/>
<path d="M28.6 659.46 L28.84 659.49 L29.07 659.47 L29.31 659.49 L29.55 659.43 L29.78 659.49 L30.02 659.5 L30.26 659.49 L30.49 659.47 L30.73 659.37 L30.97 659.47 L31.2 659.33 L31.44 659.32 L31.67 659.38 L31.91 659.41 L32.15 659.33 L32.38 659.46 L32.62 659.49 L32.86 659.48 L33.09 659.49 L33.33 659.39 L33.57 659.42 L33.8 659.44 L34.04 659.49 L34.28 659.49 L34.51 659.47 L34.75 659.46 L34.99 659.5 L35.22 659.47 L35.46 659.47 L35.7 659.47 L35.93 659.47 L36.17 659.41 L36.41 659.48 L36.64 659.45 L36.88 659.42 L37.12 659.5 L37.35 659.46 L37.59 659.47 L37.83 659.48 L38.06 659.5 L38.3 659.49 L38.53 659.45 L38.77 659.49 L39.01 659.46 L39.24 659.48 L39.48 659.47 L39.72 659.48 L39.95 659.47 L40.19 659.48 L40.43 659.43 L40.66 659.41 L40.9 659.42 L41.14 659.45 L41.37 659.47 L41.61 659.48 L41.85 659.48 L42.08 659.47 L42.32 659.5 L42.56 659.48 L42.79 659.48 L43.03 659.47 L43.27 659.44 L43.5 659.49 L43.74 659.41 L43.98 659.45 L44.21 659.48 L44.45 659.43 L44.68 659.48 L44.92 659.43 L45.16 659.45 L45.39 659.41 L45.63 659.36 L45.87 659.36 L46.1 659.49 L46.34 659.41 L46.58 659.41 L46.81 659.47 L47.05 659.48 L47.29 659.46 L47.52 659.48 L47.76 659.47 L48 659.48 L48.23 659.45 L48.47 659.46 L48.71 659.46 L48.94 659.37 L49.18 659.48 L49.42 659.44 L49.65 659.32 L49.89 659.28 L50.12 659.44 L50.36 659.46 L50.6 659.5 L50.83 659.42 L51.07 659.39 L51.31 659.46 L51.54 659.47 L51.78 659.47 L52.02 659.49 L52.25 659.46 L52.49 659.47 L52.73 659.36 L52.96 659.37 L53.2 659.49 L53.44 659.47 L53.67 659.35 L53.91 659.49 L54.15 659.46 L54.38 659.4 L54.62 659.37 L54.86 659.41 L55.09 659.48 L55.33 659.46 L55.57 659.49 L55.8 659.48 L56.04 659.3 L56.27 659.5 L56.51 659.41 L56.75 659.41 L56.98 659.47 L57.22 659.47 L57.46 659.49 L57.69 659.49 L57.93 659.49 L58.17 659.47 L58.4 659.48 L58.64 659.48 L58.88 659.49 L59.11 659.48 L59.35 659.48 L59.59 659.49 L59.82 659.49 L60.06 659.37 L60.3 659.45 L60.53 659.5 L60.77 659.44 L61.01 659.5 L61.24 659.42 L61.48 659.48 L61.72 659.48 L61.95 659.49 L62.19 659.48 L62.42 659.39 L62.66 659.49 L62.9 659.37 L63.13 659.41 L63.37 659.36 L63.61 659.49 L63.84 659.42 L64.08 659.36 L64.32 659.46 L64.55 659.5 L64.79 659.31 L65.03 659.42 L65.26 659.5 L65.5 659.49 L65.74 659.48 L65.97 659.47 L66.21 659.48 L66.45 659.36 L66.68 659.48 L66.92 659.46 L67.16 659.37 L67.39 659.49 L67.63 659.43 L67.87 659.34 L68.1 659.49 L68.34 659.47 L68.58 659.47 L68.81 659.45 L69.05 659.49 L69.28 659.45 L69.52 659.5 L69.76 659.39 L69.99 659.47 L70.23 659.48 L70.47 659.45 L70.7 659.5 L70.94 659.48 L71.18 659.49 L71.41 659.5 L71.65 659.46 L71.89 659.5 L72.12 659.5 L72.36 659.49 L72.6 659.5 L72.83 659.47 L73.07 659.49 L73.31 659.45 L73.54 659.47 L73.78 659.39 L74.02 659.45 L74.25 659.48 L74.49 659.5 L74.72 659.48 L74.96 659.45 L75.2 659.47 L75.43 659.46 L75.67 659.42 L75.91 659.44 L76.14 659.5 L76.38 659.49 L76.62 659.3 L76.85 659.31 L77.09 659.42 L77.33 659.48 L77.56 659.49 L77.8 659.1 L78.04 659.32 L78.27 659.27 L78.51 659.21 L78.75 659.21 L78.98 659.21 L79.22 659.32 L79.46 659.31 L79.69 658.99 L79.93 659.13 L80.17 658.99 L80.4 659.21 L80.64 659.12 L80.88 659.01 L81.11 658.87 L81.35 659.05 L81.58 658.91 L81.82 658.87 L82.06 658.97 L82.29 658.85 L82.53 658.96 L82.77 658.97 L83 658.87 L83.24 659.14 L83.48 658.9 L83.71 658.9 L83.95 658.93 L84.19 658.76 L84.42 658.49 L84.66 658.48 L84.9 658.2 L85.13 658.36 L85.37 658.38 L85.61 657.93 L85.84 657.87 L86.08 657.71 L86.32 657.85 L86.55 657.6 L86.79 657.53 L87.03 657.38 L87.26 657.36 L87.5 657.12 L87.73 657.25 L87.97 657.28 L88.21 657.32 L88.44 656.86 L88.68 656.93 L88.92 656.94 L89.15 656.87 L89.39 656.71 L89.63 656.72 L89.86 656.51 L90.1 656.42 L90.34 656.32 L90.57 656.27 L90.81 656 L91.05 655.87 L91.28 655.6 L91.52 655.33 L91.76 655.07 L91.99 655.28 L92.23 654.9 L92.47 654.67 L92.7 653.88 L92.94 654.69 L93.17 654.37 L93.41 653.88 L93.65 653.59 L93.88 652.59 L94.12 652.89 L94.36 652.04 L94.59 653 L94.83 653.4 L95.07 651.59 L95.3 651.26 L95.54 650.96 L95.78 650.93 L96.01 650.52 L96.25 651.26 L96.49 649.9 L96.72 650.1 L96.96 648.82 L97.2 648.6 L97.43 649.58 L97.67 649.08 L97.91 646.79 L98.14 646.53 L98.38 646.25 L98.62 645.29 L98.85 645.09 L99.09 644.73 L99.33 643.72 L99.56 642.95 L99.8 641.16 L100.03 641.37 L100.27 639.5 L100.51 638.51 L100.74 637.84 L100.98 637.78 L101.22 638.2 L101.45 637.96 L101.69 637.73 L101.93 637.79 L102.16 636.75 L102.4 636.46 L102.64 633.66 L102.87 633.2 L103.11 633.46 L103.35 634.48 L103.58 632.44 L103.82 631.56 L104.06 631.41 L104.29 630.88 L104.53 631.35 L104.77 627.98 L105 626.94 L105.24 623.14 L105.47 624.13 L105.71 624.06 L105.95 621.71 L106.18 621.82 L106.42 621.27 L106.66 621.17 L106.89 620.87 L107.13 617.74 L107.37 616.68 L107.6 614.88 L107.84 616.16 L108.08 615.56 L108.31 615.86 L108.55 613.06 L108.79 614.4 L109.02 611.79 L109.26 609.56 L109.5 607.74 L109.73 609.52 L109.97 606.87 L110.21 607.69 L110.44 607.42 L110.68 607.46 L110.92 603.53 L111.15 600.85 L111.39 602.34 L111.62 602.47 L111.86 601.31 L112.1 596.31 L112.33 596.03 L112.57 597.49 L112.81 599.17 L113.04 597.54 L113.28 593.67 L113.52 590.7 L113.75 592.15 L113.99 592.68 L114.23 591.99 L114.46 593.19 L114.7 588.84 L114.94 589.69 L115.17 586.14 L115.41 588.5 L115.65 588.06 L115.88 584.9 L116.12 584.82 L116.36 581.78 L116.59 581.31 L116.83 582.39 L117.07 579.34 L117.3 577.3 L117.54 580.37 L117.78 574.85 L118.01 574.44 L118.25 573.26 L118.48 576.49 L118.72 575.19 L118.96 573.57 L119.19 570.13 L119.43 572.61 L119.67 572.06 L119.9 573.32 L120.14 570.32 L120.38 567.82 L120.61 569.89 L120.85 568.31 L121.09 565.45 L121.32 562.18 L121.56 562.12 L121.8 563.26 L122.03 564.65 L122.27 564.27 L122.51 563.22 L122.74 561.03 L122.98 560.13 L123.22 556.47 L123.45 557.04 L123.69 559.05 L123.92 554.91 L124.16 554 L124.4 554.66 L124.63 555.86 L124.87 557.84 L125.11 556.77 L125.34 552.84 L125.58 554.04 L125.82 555.02 L126.05 552.52 L126.29 551.25 L126.53 549.9 L126.76 549.04 L127 547.17 L127.24 549.98 L127.47 547.61 L127.71 549.77 L127.95 547.41 L128.18 547.14 L128.42 546.63 L128.66 544.93 L128.89 545.68 L129.13 543.75 L129.37 543.17 L129.6 543.9 L129.84 545.04 L130.07 545.47 L130.31 545 L130.55 544.09 L130.78 543.31 L131.02 537.86 L131.26 539.75 L131.49 540.06 L131.73 542.77 L131.97 543.33 L132.2 542.74 L132.44 541.55 L132.68 543.06 L132.91 539.02 L133.15 541.12 L133.39 538.97 L133.62 543.8 L133.86 541.46 L134.1 540.04 L134.33 539.55 L134.57 538.56 L134.81 538.62 L135.04 538.71 L135.28 542.05 L135.52 541.12 L135.75 543.41 L135.99 539.14 L136.22 538.11 L136.46 538.54 L136.7 539.7 L136.93 539.67 L137.17 535.56 L137.41 534.28 L137.64 536.79 L137.88 535.38 L138.12 539.67 L138.35 541.72 L138.59 539.97 L138.83 539.98 L139.06 539.42 L139.3 537.94 L139.54 532.63 L139.77 536.92 L140.01 537.19 L140.25 536.87 L140.48 537.25 L140.72 535.73 L140.96 533.75 L141.19 538.08 L141.43 537.23 L141.67 537.64 L141.9 536.77 L142.14 539.66 L142.38 541.1 L142.61 542.59 L142.85 538.41 L143.08 537.55 L143.32 537.5 L143.56 541.63 L143.79 539.78 L144.03 539.83 L144.27 541 L144.5 540.62 L144.74 537.84 L144.98 537.18 L145.21 537.95 L145.45 537.37 L145.69 539.09 L145.92 538.61 L146.16 538.55 L146.4 537.72 L146.63 538.52 L146.87 538.98 L147.11 539.18 L147.34 540.15 L147.58 535.72 L147.82 537.1 L148.05 537.78 L148.29 534.95 L148.53 535.5 L148.76 540.7 L149 538.8 L149.23 537.95 L149.47 535.95 L149.71 536.25 L149.94 537.33 L150.18 541.02 L150.42 541.86 L150.65 540.31 L150.89 539.43 L151.13 541.74 L151.36 541.54 L151.6 541.55 L151.84 540.85 L152.07 540.2 L152.31 541.08 L152.55 543.03 L152.78 539.63 L153.02 537.9 L153.26 540.21 L153.49 539.18 L153.73 539.86 L153.97 539.79 L154.2 540.13 L154.44 542.39 L154.68 541 L154.91 539.84 L155.15 542.69 L155.38 538.95 L155.62 537.5 L155.86 537.5 L156.09 537.28 L156.33 539.35 L156.57 541.95 L156.8 543.35 L157.04 544.26 L157.28 543.08 L157.51 542.98 L157.75 541.82 L157.99 545.98 L158.22 540.21 L158.46 538.26 L158.7 541.41 L158.93 541.28 L159.17 541.49 L159.41 541.82 L159.64 542.65 L159.88 542.71 L160.12 543.82 L160.35 542.44 L160.59 542.21 L160.82 541.46 L161.06 543.08 L161.3 542.06 L161.53 541.6 L161.77 540.42 L162.01 542.71 L162.24 540.94 L162.48 539.29 L162.72 539.27 L162.95 540.8 L163.19 541.45 L163.43 541.16 L163.66 539.36 L163.9 537.26 L164.14 539.3 L164.37 540.74 L164.61 539.45 L164.85 539.2 L165.08 540.88 L165.32 541.1 L165.56 540.02 L165.79 538.26 L166.03 540.68 L166.27 541.15 L166.5 538.69 L166.74 540.64 L166.97 539.02 L167.21 537.99 L167.45 538.36 L167.68 539.97 L167.92 538.89 L168.16 538.94 L168.39 537.8 L168.63 539.34 L168.87 536.6 L169.1 540.25 L169.34 538.98 L169.58 538.19 L169.81 536.28 L170.05 538.21 L170.29 536.92 L170.52 538.29 L170.76 536.55 L171 534.24 L171.23 536.97 L171.47 536.48 L171.71 538.57 L171.94 536.09 L172.18 534.79 L172.42 536.29 L172.65 538.77 L172.89 537.07 L173.12 535.26 L173.36 534.77 L173.6 535.1 L173.83 539.7 L174.07 539.42 L174.31 535.85 L174.54 539.08 L174.78 536.3 L175.02 534.12 L175.25 535.28 L175.49 535.13 L175.73 537.55 L175.96 539.94 L176.2 538.94 L176.44 538.8 L176.67 538.54 L176.91 537.25 L177.15 538.25 L177.38 538.08 L177.62 537.68 L177.86 538.3 L178.09 535.46 L178.33 536.86 L178.57 538 L178.8 538.93 L179.04 540 L179.27 537.13 L179.51 538.2 L179.75 540.72 L179.98 540.85 L180.22 540.31 L180.46 540.78 L180.69 538.52 L180.93 541.63 L181.17 540.09 L181.4 540.27 L181.64 542.69 L181.88 541.62 L182.11 541.63 L182.35 540.77 L182.59 542.2 L182.82 541.58 L183.06 544.8 L183.3 545.09 L183.53 542.2 L183.77 540.9 L184.01 542.35 L184.24 543.98 L184.48 541.87 L184.72 546.59 L184.95 546.22 L185.19 543.76 L185.43 543.08 L185.66 545.8 L185.9 548.32 L186.13 543.75 L186.37 544.47 L186.61 546.61 L186.84 545.91 L187.08 544.39 L187.32 549.84 L187.55 545.69 L187.79 545 L188.03 549.62 L188.26 546.6 L188.5 549.96 L188.74 546.38 L188.97 546.51 L189.21 543.58 L189.45 547.49 L189.68 547.95 L189.92 546.49 L190.16 548.92 L190.39 550 L190.63 549.93 L190.87 549.53 L191.1 551.19 L191.34 549.27 L191.57 548.61 L191.81 549.29 L192.05 546.92 L192.28 549.6 L192.52 547.92 L192.76 550.55 L192.99 549.41 L193.23 553.64 L193.47 551.66 L193.7 551.71 L193.94 552.38 L194.18 552.93 L194.41 552.79 L194.65 553.49 L194.89 556.32 L195.12 554.75 L195.36 554.24 L195.6 554.13 L195.83 555.11 L196.07 554.02 L196.31 552.22 L196.54 553.44 L196.78 554.39 L197.02 551.74 L197.25 551.56 L197.49 551.72 L197.72 551.5 L197.96 554.04 L198.2 554.74 L198.43 553.05 L198.67 555.39 L198.91 555.63 L199.14 555.03 L199.38 554.98 L199.62 556.19 L199.85 554.65 L200.09 556.2 L200.33 555.38 L200.56 554.66 L200.8 555.25 L201.04 555.47 L201.27 558.87 L201.51 560.46 L201.75 560 L201.98 558.16 L202.22 555.94 L202.46 559.87 L202.69 558.83 L202.93 560.56 L203.17 561.11 L203.4 560.68 L203.64 559.05 L203.88 559.41 L204.11 558.04 L204.35 561.3 L204.58 559.39 L204.82 558.75 L205.06 560.06 L205.29 559.93 L205.53 561.72 L205.77 563.32 L206 562.82 L206.24 563.14 L206.48 557.42 L206.71 561.17 L206.95 559 L207.19 560.75 L207.42 561.28 L207.66 560.83 L207.9 563.32 L208.13 561.44 L208.37 561.78 L208.61 565.16 L208.84 562.89 L209.08 562.27 L209.32 562.31 L209.55 560.52 L209.79 563.33 L210.03 562.86 L210.26 562.39 L210.5 565.08 L210.73 562.6 L210.97 566.26 L211.21 567.38 L211.44 564.81 L211.68 566.71 L211.92 565.83 L212.15 568.18 L212.39 566.22 L212.63 567.64 L212.86 565.76 L213.1 568.33 L213.34 566.01 L213.57 566.48 L213.81 566.19 L214.05 566.4 L214.28 566.23 L214.52 568.7 L214.76 571.74 L214.99 568.54 L215.23 569.14 L215.47 568.63 L215.7 567.07 L215.94 570.66 L216.18 569.96 L216.41 569.55 L216.65 570.25 L216.88 568.27 L217.12 568.45 L217.36 569.74 L217.59 570.56 L217.83 567.95 L218.07 569.59 L218.3 568.2 L218.54 568.06 L218.78 572.03 L219.01 572.19 L219.25 570.57 L219.49 569.56 L219.72 568.6 L219.96 568.35 L220.2 568 L220.43 570.33 L220.67 571 L220.91 569.73 L221.14 571.39 L221.38 569.65 L221.62 573.52 L221.85 571.3 L222.09 572.01 L222.32 575.32 L222.56 571.77 L222.8 571.74 L223.03 572.33 L223.27 574.45 L223.51 574.32 L223.74 571.17 L223.98 574 L224.22 579.42 L224.45 577.18 L224.69 577.07 L224.93 575.42 L225.16 575.39 L225.4 576.34 L225.64 576.68 L225.87 573.86 L226.11 577.03 L226.35 572.76 L226.58 575.43 L226.82 577.37 L227.06 575.14 L227.29 574.84 L227.53 577.44 L227.77 575.6 L228 579.23 L228.24 579.15 L228.47 575.96 L228.71 577.18 L228.95 579.4 L229.18 577.4 L229.42 576.17 L229.66 577.37 L229.89 580.75 L230.13 579.73 L230.37 578.28 L230.6 577.33 L230.84 575.41 L231.08 578.2 L231.31 579.66 L231.55 579.59 L231.79 577.71 L232.02 580.56 L232.26 578.13 L232.5 583.76 L232.73 580.24 L232.97 581.42 L233.21 580.14 L233.44 579.43 L233.68 582.2 L233.92 581.55 L234.15 580.9 L234.39 580.22 L234.62 582.44 L234.86 583.41 L235.1 585.3 L235.33 579.08 L235.57 581.26 L235.81 582.16 L236.04 584.55 L236.28 581.7 L236.52 583.07 L236.75 580.58 L236.99 580.71 L237.23 582.14 L237.46 581.63 L237.7 584.4 L237.94 584.24 L238.17 584.66 L238.41 585.97 L238.65 584.53 L238.88 584.37 L239.12 581.97 L239.36 588.6 L239.59 586.88 L239.83 586.75 L240.07 586.09 L240.3 584.59 L240.54 584.19 L240.78 584.71 L241.01 585.76 L241.25 584.73 L241.48 584.67 L241.72 588.11 L241.96 586.99 L242.19 588.38 L242.43 588.67 L242.67 586.83 L242.9 586.42 L243.14 586.28 L243.38 587.83 L243.61 587.43 L243.85 588.47 L244.09 586.96 L244.32 586.06 L244.56 584.22 L244.8 584.41 L245.03 587.7 L245.27 588.42 L245.51 589.48 L245.74 588.07 L245.98 585.15 L246.22 586.13 L246.45 590.92 L246.69 591.27 L246.93 591.52 L247.16 588.97 L247.4 588.93 L247.63 588.55 L247.87 586.28 L248.11 589.46 L248.34 590.68 L248.58 586.99 L248.82 588.2 L249.05 590.37 L249.29 593.07 L249.53 593.34 L249.76 594.88 L250 591.76 L250.24 590.78 L250.47 589.11 L250.71 590.28 L250.95 591.59 L251.18 592.2 L251.42 588.58 L251.66 592.81 L251.89 591.51 L252.13 591.35 L252.37 590.5 L252.6 591.79 L252.84 590.98 L253.07 590.31 L253.31 591.58 L253.55 592.55 L253.78 592.57 L254.02 593.8 L254.26 593.2 L254.49 593.2 L254.73 592.53 L254.97 590.73 L255.2 590.22 L255.44 592.68 L255.68 592.09 L255.91 592.41 L256.15 591.92 L256.39 592.91 L256.62 592.98 L256.86 594.15 L257.1 595.09 L257.33 593.1 L257.57 591.86 L257.81 592.43 L258.04 593.03 L258.28 593.57 L258.52 594.87 L258.75 597.33 L258.99 594.74 L259.23 594.58 L259.46 595.69 L259.7 596.74 L259.93 593.96 L260.17 597.49 L260.41 593.66 L260.64 593.99 L260.88 591.67 L261.12 595.33 L261.35 595.66 L261.59 596.52 L261.83 595.91 L262.06 596.27 L262.3 597.21 L262.54 594.97 L262.77 596.89 L263.01 597.21 L263.25 595.85 L263.48 596.98 L263.72 597.27 L263.96 596.29 L264.19 597.02 L264.43 598.57 L264.67 597.53 L264.9 597.38 L265.14 594.63 L265.38 597.7 L265.61 595.88 L265.85 597.78 L266.08 597.88 L266.32 597.92 L266.56 597.13 L266.79 596.05 L267.03 594.47 L267.27 597.34 L267.5 595.6 L267.74 595.51 L267.98 595.79 L268.21 598.15 L268.45 596.67 L268.69 597.63 L268.92 597.35 L269.16 598.18 L269.4 597.2 L269.63 596.26 L269.87 595.96 L270.11 597.78 L270.34 596.77 L270.58 595.82 L270.82 598.89 L271.05 596.62 L271.29 599.82 L271.52 598.35 L271.76 597.8 L272 596.41 L272.23 597.66 L272.47 599.2 L272.71 600.23 L272.94 601.27 L273.18 598.85 L273.42 599.46 L273.65 600.38 L273.89 599 L274.13 600.37 L274.36 600.43 L274.6 600.51 L274.84 597.6 L275.07 596.86 L275.31 598.88 L275.55 601.56 L275.78 599.93 L276.02 599.65 L276.26 599.18 L276.49 598.72 L276.73 599.8 L276.97 598.45 L277.2 598.11 L277.44 598.87 L277.67 600.01 L277.91 600.52 L278.15 599.07 L278.38 601.07 L278.62 600.47 L278.86 601.09 L279.09 602.21 L279.33 599.83 L279.57 599.88 L279.8 599.82 L280.04 598.64 L280.28 601.54 L280.51 600.57 L280.75 599.74 L280.99 598.71 L281.22 601.02 L281.46 599.33 L281.7 599.44 L281.93 597.9 L282.17 597.68 L282.41 598.43 L282.64 596.47 L282.88 598.79 L283.12 600.2 L283.35 600.58 L283.59 601.56 L283.82 600.64 L284.06 602.9 L284.3 601.21 L284.53 599.91 L284.77 598.68 L285.01 600.12 L285.24 598.22 L285.48 600.4 L285.72 600.45 L285.95 602.9 L286.19 602.21 L286.43 602.02 L286.66 598.84 L286.9 599.04 L287.14 601.33 L287.37 599.92 L287.61 599.51 L287.85 600.34 L288.08 600.3 L288.32 600.74 L288.56 601.23 L288.79 603.09 L289.03 601.49 L289.27 599.09 L289.5 598.08 L289.74 600.07 L289.98 601.43 L290.21 601.21 L290.45 599.66 L290.68 599.88 L290.92 601.25 L291.16 600.48 L291.39 601.01 L291.63 600.25 L291.87 601.25 L292.1 603.07 L292.34 601.67 L292.58 600.26 L292.81 602.31 L293.05 601.71 L293.29 600.2 L293.52 601.38 L293.76 602.2 L294 598.9 L294.23 599.4 L294.47 599.33 L294.71 601.98 L294.94 599.48 L295.18 603.04 L295.42 602.79 L295.65 601.05 L295.89 599.67 L296.12 602.25 L296.36 602.82 L296.6 601.91 L296.83 604.49 L297.07 602.06 L297.31 601.44 L297.54 602.71 L297.78 602.01 L298.02 601.62 L298.25 602.27 L298.49 602.38 L298.73 601.28 L298.96 603.69 L299.2 603.85 L299.44 604.97 L299.67 603.5 L299.91 605.03 L300.15 604.58 L300.38 605.03 L300.62 605.45 L300.86 603.63 L301.09 605.49 L301.33 604.37 L301.57 604.91 L301.8 604.63 L302.04 606.6 L302.27 606.07 L302.51 606.27 L302.75 608.24 L302.98 607.98 L303.22 608.56 L303.46 608.81 L303.69 607.38 L303.93 609.59 L304.17 611.73 L304.4 612.71 L304.64 611.61 L304.88 611.63 L305.11 610.98 L305.35 610.22 L305.59 608.62 L305.82 609.97 L306.06 610.36 L306.3 612.07 L306.53 611.16 L306.77 609.99 L307.01 609.71 L307.24 613.74 L307.48 611.78 L307.72 610.36 L307.95 610.89 L308.19 613.99 L308.42 613.74 L308.66 612.67 L308.9 612.61 L309.13 614.17 L309.37 614.91 L309.61 613.05 L309.84 615.26 L310.08 612.82 L310.32 613.76 L310.55 613.86 L310.79 615.94 L311.03 615.89 L311.26 614.45 L311.5 616.61 L311.74 613.28 L311.97 616.32 L312.21 617.28 L312.45 616.22 L312.68 615.44 L312.92 614.97 L313.16 616.21 L313.39 616.54 L313.63 616.77 L313.87 617.31 L314.1 619.86 L314.34 616.64 L314.57 616.33 L314.81 616.32 L315.05 617.23 L315.28 616.51 L315.52 616.56 L315.76 616.64 L315.99 615.28 L316.23 618.09 L316.47 616.76 L316.7 617.83 L316.94 617.32 L317.18 615.01 L317.41 617.21 L317.65 616.82 L317.89 617.25 L318.12 615.59 L318.36 617.25 L318.6 618.64 L318.83 616.56 L319.07 616.83 L319.31 616.88 L319.54 615.25 L319.78 616.97 L320.02 616.96 L320.25 616.34 L320.49 615.81 L320.73 616.7 L320.96 615.18 L321.2 613.24 L321.43 615.64 L321.67 613.81 L321.91 617.81 L322.14 615.08 L322.38 616.13 L322.62 615.9 L322.85 616.32 L323.09 616.75 L323.33 617.59 L323.56 616.79 L323.8 614.46 L324.04 613.76 L324.27 615.21 L324.51 615.87 L324.75 616.24 L324.98 616.9 L325.22 613.51 L325.46 613.62 L325.69 614.23 L325.93 615.11 L326.17 615.98 L326.4 613.45 L326.64 613.14 L326.88 615.03 L327.11 613.32 L327.35 615.16 L327.58 613.67 L327.82 615.04 L328.06 614.88 L328.29 613.79 L328.53 613.57 L328.77 612.91 L329 614.98 L329.24 612.95 L329.48 612.63 L329.71 614.23 L329.95 614.34 L330.19 615.95 L330.42 615.88 L330.66 617.34 L330.9 616.3 L331.13 615.92 L331.37 614.55 L331.61 614.65 L331.84 614.95 L332.08 616.53 L332.32 617.03 L332.55 617.45 L332.79 617.05 L333.02 619.51 L333.26 617.35 L333.5 619.4 L333.73 619.01 L333.97 618.37 L334.21 618.86 L334.44 616.66 L334.68 618 L334.92 616.68 L335.15 616.78 L335.39 618.82 L335.63 618.63 L335.86 617.65 L336.1 619.27" fill="none" stroke="#ea3a40" stroke-width="1.25" stroke-linejoin="round" clip-path="url(#cb)"/>
<path d="M28.6 659.49 L28.84 659.49 L29.07 659.5 L29.31 659.49 L29.55 659.5 L29.78 659.43 L30.02 659.37 L30.26 659.45 L30.49 659.47 L30.73 659.43 L30.97 659.5 L31.2 659.48 L31.44 659.45 L31.67 659.49 L31.91 659.45 L32.15 659.48 L32.38 659.38 L32.62 659.49 L32.86 659.45 L33.09 659.37 L33.33 659.49 L33.57 659.4 L33.8 659.49 L34.04 659.46 L34.28 659.5 L34.51 659.45 L34.75 659.5 L34.99 659.44 L35.22 659.48 L35.46 659.49 L35.7 659.49 L35.93 659.49 L36.17 659.46 L36.41 659.47 L36.64 659.4 L36.88 659.35 L37.12 659.47 L37.35 659.49 L37.59 659.49 L37.83 659.42 L38.06 659.42 L38.3 659.48 L38.53 659.5 L38.77 659.49 L39.01 659.39 L39.24 659.37 L39.48 659.42 L39.72 659.38 L39.95 659.49 L40.19 659.38 L40.43 659.49 L40.66 659.47 L40.9 659.42 L41.14 659.49 L41.37 659.48 L41.61 659.45 L41.85 659.49 L42.08 659.49 L42.32 659.49 L42.56 659.47 L42.79 659.46 L43.03 659.48 L43.27 659.5 L43.5 659.49 L43.74 659.45 L43.98 659.35 L44.21 659.48 L44.45 659.48 L44.68 659.48 L44.92 659.5 L45.16 659.46 L45.39 659.48 L45.63 659.44 L45.87 659.48 L46.1 659.46 L46.34 659.45 L46.58 659.45 L46.81 659.32 L47.05 659.46 L47.29 659.5 L47.52 659.46 L47.76 659.42 L48 659.48 L48.23 659.5 L48.47 659.48 L48.71 659.47 L48.94 659.39 L49.18 659.46 L49.42 659.49 L49.65 659.48 L49.89 659.44 L50.12 659.49 L50.36 659.46 L50.6 659.48 L50.83 659.49 L51.07 659.48 L51.31 659.49 L51.54 659.42 L51.78 659.48 L52.02 659.39 L52.25 659.45 L52.49 659.47 L52.73 659.5 L52.96 659.5 L53.2 659.46 L53.44 659.47 L53.67 659.44 L53.91 659.48 L54.15 659.47 L54.38 659.47 L54.62 659.48 L54.86 659.48 L55.09 659.45 L55.33 659.46 L55.57 659.44 L55.8 659.49 L56.04 659.48 L56.27 659.4 L56.51 659.47 L56.75 659.48 L56.98 659.48 L57.22 659.48 L57.46 659.47 L57.69 659.48 L57.93 659.46 L58.17 659.46 L58.4 659.47 L58.64 659.33 L58.88 659.5 L59.11 659.5 L59.35 659.5 L59.59 659.44 L59.82 659.5 L60.06 659.47 L60.3 659.33 L60.53 659.43 L60.77 659.48 L61.01 659.5 L61.24 659.48 L61.48 659.49 L61.72 659.5 L61.95 659.48 L62.19 659.5 L62.42 659.44 L62.66 659.49 L62.9 659.47 L63.13 659.47 L63.37 659.5 L63.61 659.42 L63.84 659.49 L64.08 659.46 L64.32 659.46 L64.55 659.44 L64.79 659.45 L65.03 659.46 L65.26 659.45 L65.5 659.46 L65.74 659.47 L65.97 659.41 L66.21 659.43 L66.45 659.43 L66.68 659.5 L66.92 659.5 L67.16 659.49 L67.39 659.46 L67.63 659.44 L67.87 659.49 L68.1 659.49 L68.34 659.48 L68.58 659.49 L68.81 659.46 L69.05 659.46 L69.28 659.48 L69.52 659.48 L69.76 659.49 L69.99 659.44 L70.23 659.47 L70.47 659.48 L70.7 659.46 L70.94 659.46 L71.18 659.48 L71.41 659.49 L71.65 659.46 L71.89 659.4 L72.12 659.39 L72.36 659.49 L72.6 659.47 L72.83 659.5 L73.07 659.48 L73.31 659.41 L73.54 659.5 L73.78 659.48 L74.02 659.49 L74.25 659.48 L74.49 659.4 L74.72 659.38 L74.96 659.26 L75.2 659.3 L75.43 659.39 L75.67 659.24 L75.91 659.35 L76.14 659.35 L76.38 659.3 L76.62 659.25 L76.85 659.09 L77.09 659.21 L77.33 659.14 L77.56 659.13 L77.8 659.25 L78.04 659.26 L78.27 659.15 L78.51 659.03 L78.75 658.98 L78.98 658.92 L79.22 658.94 L79.46 658.99 L79.69 658.89 L79.93 659 L80.17 659.07 L80.4 658.96 L80.64 659.04 L80.88 658.94 L81.11 658.91 L81.35 658.87 L81.58 658.77 L81.82 658.82 L82.06 658.77 L82.29 658.9 L82.53 658.7 L82.77 658.74 L83 658.57 L83.24 658.92 L83.48 658.75 L83.71 658.53 L83.95 658.76 L84.19 658.5 L84.42 658.28 L84.66 658.12 L84.9 658.21 L85.13 657.92 L85.37 657.75 L85.61 657.78 L85.84 657.45 L86.08 657.38 L86.32 657.27 L86.55 657.22 L86.79 656.97 L87.03 656.88 L87.26 656.59 L87.5 656.53 L87.73 656.61 L87.97 656.49 L88.21 656.18 L88.44 656.21 L88.68 656.01 L88.92 655.84 L89.15 655.82 L89.39 656.12 L89.63 655.71 L89.86 655.47 L90.1 655.32 L90.34 655.35 L90.57 654.91 L90.81 654.89 L91.05 654.85 L91.28 654.71 L91.52 654.16 L91.76 654.62 L91.99 654.57 L92.23 652.64 L92.47 652.19 L92.7 652.01 L92.94 651.57 L93.17 651.73 L93.41 653.05 L93.65 651.51 L93.88 650.77 L94.12 650.83 L94.36 652.31 L94.59 650.52 L94.83 649.63 L95.07 650.43 L95.3 650.11 L95.54 649.37 L95.78 649.55 L96.01 648.58 L96.25 648.77 L96.49 648.14 L96.72 648.08 L96.96 648.91 L97.2 648.48 L97.43 644.65 L97.67 645.22 L97.91 644.18 L98.14 643.56 L98.38 642.46 L98.62 642.67 L98.85 643.37 L99.09 642.69 L99.33 643.83 L99.56 642.28 L99.8 640.34 L100.03 642.16 L100.27 640.19 L100.51 638.51 L100.74 637.04 L100.98 638.36 L101.22 638.18 L101.45 638.97 L101.69 638 L101.93 635.65 L102.16 632.76 L102.4 634.63 L102.64 632.05 L102.87 631.59 L103.11 631.87 L103.35 628.39 L103.58 631.9 L103.82 629.78 L104.06 628.13 L104.29 624.73 L104.53 623.34 L104.77 621.69 L105 623.09 L105.24 621.97 L105.47 620.51 L105.71 620.47 L105.95 620.07 L106.18 620.05 L106.42 619.75 L106.66 620.15 L106.89 615.55 L107.13 616.52 L107.37 618.47 L107.6 615.45 L107.84 614.24 L108.08 612.97 L108.31 609.71 L108.55 610.67 L108.79 610.69 L109.02 610.83 L109.26 609.32 L109.5 608.83 L109.73 607.2 L109.97 601.84 L110.21 603.38 L110.44 605.21 L110.68 601.18 L110.92 600.8 L111.15 600.19 L111.39 599.57 L111.62 598.64 L111.86 597.99 L112.1 596.07 L112.33 595.47 L112.57 594.18 L112.81 596.07 L113.04 595.43 L113.28 595.87 L113.52 592.91 L113.75 591.68 L113.99 592.96 L114.23 591.38 L114.46 587.18 L114.7 587.6 L114.94 591.22 L115.17 590.47 L115.41 588.68 L115.65 588.8 L115.88 587.81 L116.12 585.82 L116.36 586.16 L116.59 588.27 L116.83 585.7 L117.07 585.78 L117.3 585.11 L117.54 585.65 L117.78 586.82 L118.01 586.66 L118.25 584.8 L118.48 584.98 L118.72 587.4 L118.96 581.64 L119.19 583.13 L119.43 582.7 L119.67 580.28 L119.9 584.02 L120.14 579.01 L120.38 580.49 L120.61 578.47 L120.85 579.41 L121.09 578.25 L121.32 577.97 L121.56 577.83 L121.8 580.55 L122.03 580.72 L122.27 578.24 L122.51 574.79 L122.74 576.57 L122.98 575.22 L123.22 575.15 L123.45 574.39 L123.69 573.09 L123.92 576.49 L124.16 574.59 L124.4 574.47 L124.63 574.47 L124.87 575.22 L125.11 575.25 L125.34 575.55 L125.58 575.67 L125.82 569.73 L126.05 568.88 L126.29 571.24 L126.53 570.77 L126.76 573.32 L127 577.06 L127.24 576.71 L127.47 573.28 L127.71 569.86 L127.95 570.99 L128.18 572.85 L128.42 572.17 L128.66 573.06 L128.89 573.93 L129.13 572.24 L129.37 571.82 L129.6 572.25 L129.84 572.43 L130.07 572.48 L130.31 570.52 L130.55 567.88 L130.78 569.53 L131.02 566.08 L131.26 571.13 L131.49 569.77 L131.73 571.6 L131.97 570.58 L132.2 569.76 L132.44 568.69 L132.68 567.35 L132.91 569.59 L133.15 571.47 L133.39 570.37 L133.62 569.16 L133.86 570.32 L134.1 568.1 L134.33 565.99 L134.57 570.29 L134.81 568.85 L135.04 567.24 L135.28 571.44 L135.52 569.41 L135.75 569.36 L135.99 571.28 L136.22 567.45 L136.46 567.88 L136.7 569.14 L136.93 568.06 L137.17 567.33 L137.41 566.85 L137.64 566.97 L137.88 567.27 L138.12 569.95 L138.35 569.63 L138.59 568.6 L138.83 572.95 L139.06 566.45 L139.3 568.25 L139.54 569.97 L139.77 571.79 L140.01 569.03 L140.25 568.4 L140.48 569.17 L140.72 569.14 L140.96 569.88 L141.19 569.9 L141.43 568.83 L141.67 569.36 L141.9 567.41 L142.14 568.11 L142.38 567.95 L142.61 567.51 L142.85 565.99 L143.08 566.6 L143.32 567.48 L143.56 568.47 L143.79 569.92 L144.03 569.73 L144.27 568.03 L144.5 568.24 L144.74 569.36 L144.98 571.35 L145.21 572.43 L145.45 569.83 L145.69 567.82 L145.92 568.23 L146.16 571.28 L146.4 570.5 L146.63 569.57 L146.87 571.16 L147.11 569.7 L147.34 570.14 L147.58 571.38 L147.82 572.53 L148.05 569.63 L148.29 569.41 L148.53 571.42 L148.76 572.38 L149 569.65 L149.23 569.23 L149.47 570.61 L149.71 568.04 L149.94 570.27 L150.18 572.35 L150.42 569.63 L150.65 570.81 L150.89 570.41 L151.13 570.82 L151.36 572.71 L151.6 573.72 L151.84 572.51 L152.07 569.52 L152.31 572.46 L152.55 569.69 L152.78 570.62 L153.02 573.18 L153.26 571.87 L153.49 570.97 L153.73 573.1 L153.97 575.91 L154.2 572.88 L154.44 574.27 L154.68 572.27 L154.91 575.46 L155.15 573.74 L155.38 574.28 L155.62 575.62 L155.86 574.11 L156.09 572.96 L156.33 573.8 L156.57 575.16 L156.8 573.42 L157.04 576.05 L157.28 573.3 L157.51 572.47 L157.75 570.29 L157.99 570.86 L158.22 571.96 L158.46 572.49 L158.7 573.04 L158.93 575.39 L159.17 571.59 L159.41 571.71 L159.64 573 L159.88 574.77 L160.12 571.03 L160.35 571.19 L160.59 573.97 L160.82 571.83 L161.06 569.02 L161.3 571.08 L161.53 571.03 L161.77 572.26 L162.01 572.96 L162.24 570.36 L162.48 566.1 L162.72 569.36 L162.95 570.81 L163.19 569.75 L163.43 571.08 L163.66 569.79 L163.9 569.1 L164.14 571.78 L164.37 572.73 L164.61 571.36 L164.85 569.33 L165.08 569.44 L165.32 567.83 L165.56 571.45 L165.79 569.6 L166.03 570.68 L166.27 569.81 L166.5 569.07 L166.74 570.84 L166.97 570.18 L167.21 571.42 L167.45 569.47 L167.68 570.55 L167.92 570.31 L168.16 569.02 L168.39 569.94 L168.63 567.28 L168.87 569.21 L169.1 567.42 L169.34 567.67 L169.58 569.85 L169.81 569.24 L170.05 569.98 L170.29 569.42 L170.52 569.03 L170.76 565.46 L171 567.79 L171.23 565.33 L171.47 566.25 L171.71 569.37 L171.94 572.05 L172.18 568.08 L172.42 570.98 L172.65 567.55 L172.89 565.8 L173.12 566.18 L173.36 567.23 L173.6 567.63 L173.83 566.89 L174.07 567.49 L174.31 568.04 L174.54 567.91 L174.78 565.33 L175.02 567.29 L175.25 566.33 L175.49 568.47 L175.73 568.51 L175.96 569.62 L176.2 568.13 L176.44 566.21 L176.67 566.18 L176.91 567.49 L177.15 566.18 L177.38 567.31 L177.62 566.56 L177.86 566.49 L178.09 566.06 L178.33 570.83 L178.57 570.62 L178.8 567.21 L179.04 567.47 L179.27 563.78 L179.51 566.54 L179.75 568.04 L179.98 565.28 L180.22 565.86 L180.46 563.92 L180.69 565.53 L180.93 567.3 L181.17 566.48 L181.4 568.73 L181.64 569.06 L181.88 569.46 L182.11 569.16 L182.35 567.53 L182.59 569.11 L182.82 568.46 L183.06 569.66 L183.3 567.94 L183.53 573.34 L183.77 571.2 L184.01 569.95 L184.24 571.63 L184.48 568.93 L184.72 569.38 L184.95 567.91 L185.19 568.02 L185.43 568.68 L185.66 570.29 L185.9 572.47 L186.13 571.94 L186.37 572.24 L186.61 571.3 L186.84 572.23 L187.08 566.95 L187.32 572.74 L187.55 570.38 L187.79 572.32 L188.03 572.73 L188.26 571.09 L188.5 572.11 L188.74 574.53 L188.97 572.85 L189.21 573.35 L189.45 576.64 L189.68 574.23 L189.92 575.51 L190.16 575.55 L190.39 573.68 L190.63 573.41 L190.87 574.36 L191.1 570.81 L191.34 572.49 L191.57 574.85 L191.81 574.39 L192.05 574.9 L192.28 578.54 L192.52 578.9 L192.76 578.81 L192.99 573.29 L193.23 575.09 L193.47 575.96 L193.7 576.82 L193.94 574.72 L194.18 575.62 L194.41 573.32 L194.65 574.09 L194.89 573.06 L195.12 575.65 L195.36 575.85 L195.6 577.32 L195.83 577.51 L196.07 580.19 L196.31 579.36 L196.54 579.77 L196.78 579.52 L197.02 576.5 L197.25 577.09 L197.49 575.83 L197.72 576.08 L197.96 576.17 L198.2 576.17 L198.43 578.87 L198.67 577.65 L198.91 579.15 L199.14 580.12 L199.38 577.78 L199.62 575.51 L199.85 579.9 L200.09 577.15 L200.33 577.77 L200.56 580.8 L200.8 580.16 L201.04 579.89 L201.27 579.89 L201.51 581.18 L201.75 583.24 L201.98 581.95 L202.22 580.26 L202.46 579.9 L202.69 580.09 L202.93 579.55 L203.17 582.85 L203.4 582.58 L203.64 581.97 L203.88 580.79 L204.11 581.82 L204.35 581.67 L204.58 582.31 L204.82 579.42 L205.06 585.38 L205.29 584.05 L205.53 579.6 L205.77 581.73 L206 585.87 L206.24 584.21 L206.48 586.22 L206.71 585.76 L206.95 584.21 L207.19 581.32 L207.42 582.39 L207.66 582.5 L207.9 582.03 L208.13 583.25 L208.37 585.44 L208.61 585.05 L208.84 584.27 L209.08 585.05 L209.32 586.01 L209.55 585.91 L209.79 587.78 L210.03 587.73 L210.26 586.27 L210.5 586.25 L210.73 585.66 L210.97 583.32 L211.21 584.34 L211.44 585.29 L211.68 587.53 L211.92 588.22 L212.15 586.18 L212.39 587.54 L212.63 585.98 L212.86 587.91 L213.1 586.71 L213.34 586.68 L213.57 585.01 L213.81 586.72 L214.05 587.35 L214.28 586.64 L214.52 586.76 L214.76 584.22 L214.99 586.54 L215.23 587.86 L215.47 588.03 L215.7 586.88 L215.94 586.92 L216.18 586.26 L216.41 589.43 L216.65 584.38 L216.88 583.7 L217.12 586.54 L217.36 589.5 L217.59 588.4 L217.83 587.65 L218.07 591.72 L218.3 589.59 L218.54 591.3 L218.78 588.84 L219.01 586.56 L219.25 586.38 L219.49 590.47 L219.72 587.31 L219.96 587.03 L220.2 589.03 L220.43 588.41 L220.67 586.61 L220.91 589.02 L221.14 589.42 L221.38 590.5 L221.62 588.17 L221.85 592.75 L222.09 588.65 L222.32 591.13 L222.56 589.01 L222.8 592.43 L223.03 592.58 L223.27 592.15 L223.51 589.77 L223.74 592.93 L223.98 590.53 L224.22 591.73 L224.45 589.21 L224.69 590.87 L224.93 590.24 L225.16 591.13 L225.4 588.36 L225.64 590.9 L225.87 591.31 L226.11 588.31 L226.35 590.36 L226.58 590.17 L226.82 592.44 L227.06 591.8 L227.29 595.56 L227.53 593.16 L227.77 593.58 L228 595.15 L228.24 595.62 L228.47 591.78 L228.71 591.63 L228.95 594.72 L229.18 590.59 L229.42 593.18 L229.66 593.63 L229.89 592.87 L230.13 594.86 L230.37 596.37 L230.6 595.58 L230.84 592.33 L231.08 591.61 L231.31 595.41 L231.55 592.42 L231.79 593.27 L232.02 592.9 L232.26 593.54 L232.5 593.27 L232.73 595.46 L232.97 596.15 L233.21 596.14 L233.44 595.68 L233.68 594.04 L233.92 596.41 L234.15 592.91 L234.39 595.24 L234.62 596.05 L234.86 594.39 L235.1 594.3 L235.33 595.54 L235.57 597.18 L235.81 597.71 L236.04 598.9 L236.28 595.12 L236.52 593.97 L236.75 592.41 L236.99 594.06 L237.23 594.97 L237.46 594.7 L237.7 594.37 L237.94 596.2 L238.17 595.96 L238.41 593.17 L238.65 598.2 L238.88 599.58 L239.12 599.45 L239.36 596.83 L239.59 595.32 L239.83 597.21 L240.07 596.38 L240.3 597.27 L240.54 597.12 L240.78 598.42 L241.01 598.16 L241.25 598.1 L241.48 596.42 L241.72 594.21 L241.96 599.69 L242.19 598.1 L242.43 598.43 L242.67 597.13 L242.9 596.6 L243.14 596.92 L243.38 597.06 L243.61 599.84 L243.85 602.03 L244.09 597.75 L244.32 597.02 L244.56 600.11 L244.8 597.86 L245.03 598.09 L245.27 602.96 L245.51 599.66 L245.74 601.43 L245.98 598.86 L246.22 600.81 L246.45 601.65 L246.69 603.2 L246.93 601.79 L247.16 599.49 L247.4 601.27 L247.63 603.73 L247.87 598.62 L248.11 597.33 L248.34 598.66 L248.58 601.02 L248.82 602.9 L249.05 604.24 L249.29 601.47 L249.53 599.44 L249.76 602.3 L250 601.77 L250.24 602.04 L250.47 602.16 L250.71 601.11 L250.95 598.42 L251.18 601.6 L251.42 600.54 L251.66 599.87 L251.89 601.72 L252.13 602.21 L252.37 604.21 L252.6 601.36 L252.84 602.8 L253.07 603.53 L253.31 602.76 L253.55 603.92 L253.78 604.64 L254.02 603.84 L254.26 600.96 L254.49 602.51 L254.73 602.01 L254.97 604.83 L255.2 606.58 L255.44 601.68 L255.68 603.28 L255.91 605.57 L256.15 604.3 L256.39 602.86 L256.62 605.84 L256.86 605.68 L257.1 604 L257.33 605.19 L257.57 603.13 L257.81 602.22 L258.04 602.71 L258.28 604.2 L258.52 604.21 L258.75 605.12 L258.99 604.75 L259.23 604.02 L259.46 604.71 L259.7 603.14 L259.93 600.26 L260.17 603.89 L260.41 603.9 L260.64 603.24 L260.88 603.3 L261.12 604.64 L261.35 605.5 L261.59 603.66 L261.83 603.6 L262.06 603.79 L262.3 605.79 L262.54 604.43 L262.77 603.75 L263.01 604.97 L263.25 604.21 L263.48 601.76 L263.72 606.82 L263.96 605.01 L264.19 606.99 L264.43 608 L264.67 606.74 L264.9 605.19 L265.14 605.4 L265.38 607.27 L265.61 608.35 L265.85 607.48 L266.08 606.38 L266.32 607.25 L266.56 608.56 L266.79 604.33 L267.03 606.63 L267.27 606.48 L267.5 607.03 L267.74 607.3 L267.98 606.52 L268.21 606.77 L268.45 605.56 L268.69 607.77 L268.92 609.01 L269.16 604.52 L269.4 605.9 L269.63 605.19 L269.87 604.38 L270.11 605.03 L270.34 606.04 L270.58 608.72 L270.82 609.75 L271.05 606.42 L271.29 605.73 L271.52 605.67 L271.76 608.88 L272 610.72 L272.23 609.84 L272.47 609.75 L272.71 607.82 L272.94 608.87 L273.18 605.53 L273.42 607.55 L273.65 608.21 L273.89 606.42 L274.13 606.59 L274.36 608.43 L274.6 606.61 L274.84 604.39 L275.07 608.12 L275.31 608.01 L275.55 609.15 L275.78 610.77 L276.02 607.64 L276.26 606.43 L276.49 605.59 L276.73 606.07 L276.97 609.74 L277.2 608.15 L277.44 608.5 L277.67 609.34 L277.91 609.52 L278.15 606.88 L278.38 607.46 L278.62 604.4 L278.86 605.46 L279.09 609.25 L279.33 606.52 L279.57 605.04 L279.8 606.27 L280.04 608.48 L280.28 604.93 L280.51 608.13 L280.75 607.46 L280.99 609.84 L281.22 609.72 L281.46 610.31 L281.7 606.47 L281.93 604.98 L282.17 606.74 L282.41 608.71 L282.64 607.52 L282.88 606.45 L283.12 608.82 L283.35 609.1 L283.59 607.66 L283.82 605.97 L284.06 606.28 L284.3 605.83 L284.53 608.12 L284.77 610.71 L285.01 607.54 L285.24 608.2 L285.48 607.26 L285.72 607.29 L285.95 606.03 L286.19 607.41 L286.43 604.65 L286.66 605.72 L286.9 605.36 L287.14 605.07 L287.37 604.36 L287.61 605.02 L287.85 608.38 L288.08 607.91 L288.32 604.12 L288.56 604.82 L288.79 604.96 L289.03 605.17 L289.27 606.9 L289.5 607.59 L289.74 607.83 L289.98 605.32 L290.21 605.63 L290.45 603.72 L290.68 604.95 L290.92 603.39 L291.16 604.97 L291.39 607.95 L291.63 604.77 L291.87 605.74 L292.1 604.87 L292.34 606.03 L292.58 607.26 L292.81 607 L293.05 608.82 L293.29 609.6 L293.52 609.47 L293.76 608.93 L294 609.98 L294.23 608.57 L294.47 607.53 L294.71 604.7 L294.94 604.02 L295.18 606.56 L295.42 606.13 L295.65 607.61 L295.89 607.29 L296.12 607.83 L296.36 608.78 L296.6 608.27 L296.83 610.39 L297.07 608.43 L297.31 608.87 L297.54 610.27 L297.78 609.81 L298.02 608.44 L298.25 609.84 L298.49 608.77 L298.73 608.36 L298.96 606.91 L299.2 610.28 L299.44 610.17 L299.67 609.35 L299.91 607.75 L300.15 609.06 L300.38 608.92 L300.62 612.13 L300.86 612.09 L301.09 609.01 L301.33 610.78 L301.57 608.05 L301.8 611.27 L302.04 611.87 L302.27 614.03 L302.51 611.75 L302.75 611.58 L302.98 609.16 L303.22 611.02 L303.46 612.35 L303.69 614.53 L303.93 613.55 L304.17 611.87 L304.4 611.67 L304.64 611.03 L304.88 611.41 L305.11 612.91 L305.35 612.63 L305.59 613.21 L305.82 615.58 L306.06 612.29 L306.3 613.05 L306.53 615.36 L306.77 614.26 L307.01 614.09 L307.24 613.13 L307.48 612.26 L307.72 618.17 L307.95 615.39 L308.19 613.16 L308.42 615.85 L308.66 618.1 L308.9 616.05 L309.13 615.33 L309.37 615.13 L309.61 617.12 L309.84 617.02 L310.08 616.16 L310.32 615.19 L310.55 612.97 L310.79 614.83 L311.03 616.77 L311.26 619.9 L311.5 616.43 L311.74 616.92 L311.97 617.14 L312.21 618.47 L312.45 616.7 L312.68 619.54 L312.92 618.06 L313.16 617.6 L313.39 617.27 L313.63 615.88 L313.87 617.32 L314.1 617.6 L314.34 616.7 L314.57 619.61 L314.81 618.97 L315.05 618.28 L315.28 616.87 L315.52 618.73 L315.76 617.25 L315.99 617.31 L316.23 619.84 L316.47 620.72 L316.7 620.99 L316.94 619 L317.18 618.23 L317.41 617.28 L317.65 616.84 L317.89 618.52 L318.12 616.97 L318.36 616.77 L318.6 617.18 L318.83 617.33 L319.07 619.74 L319.31 618.41 L319.54 619.81 L319.78 620.52 L320.02 619.67 L320.25 618.73 L320.49 618.67 L320.73 619.04 L320.96 620.07 L321.2 618.86 L321.43 619.69 L321.67 620.88 L321.91 619.31 L322.14 616.95 L322.38 618.59 L322.62 620 L322.85 617.22 L323.09 615.76 L323.33 617.87 L323.56 618.46 L323.8 618.05 L324.04 614.21 L324.27 616.58 L324.51 616.22 L324.75 616.78 L324.98 619.96 L325.22 620.07 L325.46 620.24 L325.69 618.02 L325.93 617.64 L326.17 615.2 L326.4 617.07 L326.64 616.9 L326.88 617.11 L327.11 617.05 L327.35 614.05 L327.58 615.69 L327.82 614.62 L328.06 614.43 L328.29 616.9 L328.53 615.97 L328.77 617.05 L329 616.74 L329.24 616.58 L329.48 616.78 L329.71 617.62 L329.95 615.33 L330.19 617.14 L330.42 616.65 L330.66 615.33 L330.9 616.45 L331.13 616.48 L331.37 616.17 L331.61 616.64 L331.84 616.13 L332.08 620.28 L332.32 617.44 L332.55 619.15 L332.79 622.23 L333.02 622.03 L333.26 623.1 L333.5 621.85 L333.73 623.48 L333.97 623.59 L334.21 622.11 L334.44 621.94 L334.68 623.27 L334.92 623.18 L335.15 623.14 L335.39 623.07 L335.63 623.31 L335.86 623.83 L336.1 622.79" fill="none" stroke="#1f6fe0" stroke-width="1.25" stroke-linejoin="round" clip-path="url(#cb)"/>
<path d="M28.6 659.46 L28.84 659.48 L29.07 659.49 L29.31 659.49 L29.55 659.48 L29.78 659.48 L30.02 659.5 L30.26 659.41 L30.49 659.48 L30.73 659.5 L30.97 659.48 L31.2 659.5 L31.44 659.45 L31.67 659.49 L31.91 659.49 L32.15 659.48 L32.38 659.47 L32.62 659.49 L32.86 659.49 L33.09 659.45 L33.33 659.44 L33.57 659.48 L33.8 659.49 L34.04 659.48 L34.28 659.48 L34.51 659.49 L34.75 659.47 L34.99 659.46 L35.22 659.48 L35.46 659.47 L35.7 659.48 L35.93 659.47 L36.17 659.45 L36.41 659.48 L36.64 659.45 L36.88 659.43 L37.12 659.48 L37.35 659.49 L37.59 659.49 L37.83 659.48 L38.06 659.45 L38.3 659.44 L38.53 659.5 L38.77 659.42 L39.01 659.31 L39.24 659.49 L39.48 659.47 L39.72 659.49 L39.95 659.43 L40.19 659.5 L40.43 659.45 L40.66 659.41 L40.9 659.42 L41.14 659.36 L41.37 659.47 L41.61 659.37 L41.85 659.5 L42.08 659.38 L42.32 659.45 L42.56 659.48 L42.79 659.48 L43.03 659.49 L43.27 659.43 L43.5 659.42 L43.74 659.47 L43.98 659.36 L44.21 659.48 L44.45 659.47 L44.68 659.41 L44.92 659.44 L45.16 659.46 L45.39 659.49 L45.63 659.47 L45.87 659.42 L46.1 659.39 L46.34 659.5 L46.58 659.4 L46.81 659.49 L47.05 659.44 L47.29 659.43 L47.52 659.49 L47.76 659.47 L48 659.48 L48.23 659.44 L48.47 659.47 L48.71 659.45 L48.94 659.47 L49.18 659.48 L49.42 659.44 L49.65 659.49 L49.89 659.48 L50.12 659.49 L50.36 659.35 L50.6 659.39 L50.83 659.46 L51.07 659.49 L51.31 659.43 L51.54 659.49 L51.78 659.44 L52.02 659.49 L52.25 659.46 L52.49 659.49 L52.73 659.46 L52.96 659.49 L53.2 659.46 L53.44 659.37 L53.67 659.43 L53.91 659.46 L54.15 659.43 L54.38 659.37 L54.62 659.48 L54.86 659.47 L55.09 659.47 L55.33 659.46 L55.57 659.47 L55.8 659.49 L56.04 659.49 L56.27 659.48 L56.51 659.49 L56.75 659.49 L56.98 659.48 L57.22 659.42 L57.46 659.42 L57.69 659.36 L57.93 659.47 L58.17 659.5 L58.4 659.37 L58.64 659.44 L58.88 659.45 L59.11 659.5 L59.35 659.43 L59.59 659.5 L59.82 659.48 L60.06 659.49 L60.3 659.49 L60.53 659.45 L60.77 659.5 L61.01 659.49 L61.24 659.5 L61.48 659.48 L61.72 659.49 L61.95 659.43 L62.19 659.47 L62.42 659.48 L62.66 659.48 L62.9 659.48 L63.13 659.49 L63.37 659.46 L63.61 659.5 L63.84 659.48 L64.08 659.47 L64.32 659.48 L64.55 659.48 L64.79 659.5 L65.03 659.47 L65.26 659.42 L65.5 659.48 L65.74 659.49 L65.97 659.47 L66.21 659.49 L66.45 659.48 L66.68 659.34 L66.92 659.43 L67.16 659.34 L67.39 659.3 L67.63 659.5 L67.87 659.41 L68.1 659.38 L68.34 659.36 L68.58 659.45 L68.81 659.41 L69.05 659.5 L69.28 659.5 L69.52 659.5 L69.76 659.36 L69.99 659.47 L70.23 659.42 L70.47 659.47 L70.7 659.49 L70.94 659.5 L71.18 659.45 L71.41 659.49 L71.65 659.46 L71.89 659.49 L72.12 659.48 L72.36 659.5 L72.6 659.49 L72.83 659.48 L73.07 659.45 L73.31 659.48 L73.54 659.5 L73.78 659.49 L74.02 659.5 L74.25 659.47 L74.49 659.5 L74.72 659.47 L74.96 659.47 L75.2 659.49 L75.43 659.5 L75.67 659.49 L75.91 659.42 L76.14 659.45 L76.38 659.46 L76.62 659.49 L76.85 659.45 L77.09 659.39 L77.33 659.5 L77.56 659.45 L77.8 659.46 L78.04 659.49 L78.27 659.47 L78.51 659.4 L78.75 659.47 L78.98 659.5 L79.22 659.49 L79.46 659.42 L79.69 659.5 L79.93 659.5 L80.17 659.45 L80.4 659.45 L80.64 659.49 L80.88 659.46 L81.11 659.45 L81.35 659.41 L81.58 659.5 L81.82 659.5 L82.06 659.49 L82.29 659.48 L82.53 659.5 L82.77 659.47 L83 659.38 L83.24 659.48 L83.48 659.46 L83.71 659.4 L83.95 659.47 L84.19 659.49 L84.42 659.48 L84.66 659.49 L84.9 659.47 L85.13 659.43 L85.37 659.45 L85.61 659.46 L85.84 659.48 L86.08 659.47 L86.32 659.32 L86.55 659.48 L86.79 659.5 L87.03 659.3 L87.26 659.19 L87.5 659.12 L87.73 659.3 L87.97 659.24 L88.21 659.35 L88.44 659.24 L88.68 659.28 L88.92 659.23 L89.15 659.08 L89.39 659.12 L89.63 659.19 L89.86 659.17 L90.1 659.13 L90.34 659.19 L90.57 659.12 L90.81 659.04 L91.05 658.89 L91.28 659.24 L91.52 659.26 L91.76 659.26 L91.99 659 L92.23 658.71 L92.47 658.86 L92.7 658.89 L92.94 658.76 L93.17 659.12 L93.41 658.94 L93.65 659.21 L93.88 658.87 L94.12 658.81 L94.36 658.75 L94.59 658.6 L94.83 658.64 L95.07 658.4 L95.3 658.43 L95.54 658.36 L95.78 658.01 L96.01 658.27 L96.25 658.12 L96.49 658.26 L96.72 657.94 L96.96 657.78 L97.2 657.74 L97.43 657.49 L97.67 657.21 L97.91 657.03 L98.14 657.08 L98.38 657 L98.62 656.68 L98.85 656.89 L99.09 656.72 L99.33 656.37 L99.56 656.13 L99.8 655.71 L100.03 655.48 L100.27 655.54 L100.51 655.44 L100.74 655.62 L100.98 655.38 L101.22 655.1 L101.45 654.99 L101.69 654.79 L101.93 654.5 L102.16 654.56 L102.4 654.56 L102.64 655.07 L102.87 653.4 L103.11 653.91 L103.35 654.3 L103.58 652.76 L103.82 652.64 L104.06 651.67 L104.29 651.98 L104.53 650.3 L104.77 650.43 L105 650.65 L105.24 650.57 L105.47 650.57 L105.71 649.68 L105.95 648.34 L106.18 649.39 L106.42 650.05 L106.66 648.88 L106.89 647.93 L107.13 649.3 L107.37 649 L107.6 648.94 L107.84 647.52 L108.08 646.85 L108.31 647.36 L108.55 647.62 L108.79 646.04 L109.02 647.46 L109.26 645.53 L109.5 645.28 L109.73 643.23 L109.97 643.04 L110.21 644.07 L110.44 643.94 L110.68 643.67 L110.92 643.73 L111.15 642.81 L111.39 641.47 L111.62 642.98 L111.86 642.13 L112.1 640.03 L112.33 639.74 L112.57 640.84 L112.81 640.99 L113.04 640.85 L113.28 641.28 L113.52 638.55 L113.75 638.37 L113.99 638.78 L114.23 639.38 L114.46 638.3 L114.7 637.77 L114.94 635.1 L115.17 636.07 L115.41 635.56 L115.65 634.14 L115.88 633.77 L116.12 634.25 L116.36 636.23 L116.59 632.91 L116.83 632.32 L117.07 632.94 L117.3 632.51 L117.54 633.03 L117.78 632.88 L118.01 633.21 L118.25 630.88 L118.48 629.78 L118.72 629.51 L118.96 628.48 L119.19 628.14 L119.43 628.25 L119.67 629.19 L119.9 627.62 L120.14 626.16 L120.38 626.05 L120.61 625.07 L120.85 626.49 L121.09 627.34 L121.32 624.81 L121.56 625.85 L121.8 625.01 L122.03 625 L122.27 624.51 L122.51 624.46 L122.74 624.54 L122.98 625.84 L123.22 621.62 L123.45 621.97 L123.69 624.45 L123.92 623.86 L124.16 623.7 L124.4 622.96 L124.63 624.73 L124.87 621.31 L125.11 618.61 L125.34 619.86 L125.58 618.91 L125.82 618.6 L126.05 620.65 L126.29 618.12 L126.53 620.75 L126.76 620.11 L127 619.47 L127.24 617.04 L127.47 617.48 L127.71 617.79 L127.95 618.62 L128.18 617.61 L128.42 617.17 L128.66 615.97 L128.89 614.54 L129.13 614.74 L129.37 615.58 L129.6 615.95 L129.84 613.64 L130.07 614.52 L130.31 614.98 L130.55 612.65 L130.78 612.03 L131.02 613.03 L131.26 614.18 L131.49 615.18 L131.73 613.21 L131.97 614.42 L132.2 612.91 L132.44 614.57 L132.68 613.9 L132.91 613.18 L133.15 613.18 L133.39 612.97 L133.62 612.62 L133.86 614.37 L134.1 614.88 L134.33 613.71 L134.57 610.65 L134.81 612.01 L135.04 613.45 L135.28 613.52 L135.52 612.54 L135.75 610.61 L135.99 612.15 L136.22 611.14 L136.46 611.21 L136.7 611.88 L136.93 612.82 L137.17 612.05 L137.41 612.47 L137.64 610.9 L137.88 613.3 L138.12 610.29 L138.35 609.66 L138.59 609.61 L138.83 608.33 L139.06 608.99 L139.3 612.19 L139.54 610.94 L139.77 609.92 L140.01 610.98 L140.25 611.88 L140.48 610.08 L140.72 609.29 L140.96 610.17 L141.19 610.19 L141.43 610.49 L141.67 610.63 L141.9 610 L142.14 608.29 L142.38 611.19 L142.61 610.55 L142.85 607.77 L143.08 608.49 L143.32 608.96 L143.56 608.23 L143.79 610.38 L144.03 611.4 L144.27 612.35 L144.5 612.41 L144.74 610.21 L144.98 608.65 L145.21 609.76 L145.45 610.49 L145.69 609.33 L145.92 608.65 L146.16 608.88 L146.4 611.78 L146.63 611.02 L146.87 613.35 L147.11 610.54 L147.34 610.99 L147.58 610.89 L147.82 608.04 L148.05 607.28 L148.29 608.11 L148.53 608.67 L148.76 609 L149 610.1 L149.23 609.79 L149.47 607.12 L149.71 609.82 L149.94 610.48 L150.18 609.64 L150.42 608.38 L150.65 608.01 L150.89 610.22 L151.13 609.89 L151.36 609.94 L151.6 611.21 L151.84 609.94 L152.07 610.21 L152.31 608.47 L152.55 608.49 L152.78 610.07 L153.02 609.49 L153.26 609.85 L153.49 610.32 L153.73 610.29 L153.97 608.25 L154.2 609.45 L154.44 611.55 L154.68 611.06 L154.91 608.81 L155.15 606.27 L155.38 609.54 L155.62 609.77 L155.86 609.81 L156.09 611.21 L156.33 609.34 L156.57 609.27 L156.8 608.8 L157.04 606.08 L157.28 608.38 L157.51 607.79 L157.75 607.53 L157.99 609.33 L158.22 609.89 L158.46 607.25 L158.7 607.37 L158.93 608.1 L159.17 609.89 L159.41 607.86 L159.64 607.54 L159.88 605.17 L160.12 605.21 L160.35 606.01 L160.59 606.91 L160.82 607.42 L161.06 608.31 L161.3 607.43 L161.53 607.13 L161.77 606.41 L162.01 605.52 L162.24 606.13 L162.48 607.38 L162.72 605.98 L162.95 604.45 L163.19 606.94 L163.43 606.1 L163.66 605.56 L163.9 605.3 L164.14 605.18 L164.37 605.83 L164.61 606 L164.85 603.65 L165.08 602.69 L165.32 606.35 L165.56 609.03 L165.79 606.02 L166.03 606.34 L166.27 606.16 L166.5 607.43 L166.74 605.26 L166.97 604.96 L167.21 605.41 L167.45 603.63 L167.68 600.95 L167.92 601.19 L168.16 601.6 L168.39 603.74 L168.63 603.03 L168.87 603.62 L169.1 602.21 L169.34 602.4 L169.58 603.2 L169.81 602.65 L170.05 604.05 L170.29 602.5 L170.52 600.97 L170.76 602.8 L171 602.18 L171.23 604.78 L171.47 602.25 L171.71 601.37 L171.94 603.47 L172.18 600.54 L172.42 601.57 L172.65 604.26 L172.89 604.67 L173.12 601.83 L173.36 602.26 L173.6 600.56 L173.83 603.34 L174.07 602.37 L174.31 600.56 L174.54 602.02 L174.78 600.69 L175.02 601.52 L175.25 600.84 L175.49 600.59 L175.73 597.98 L175.96 601.55 L176.2 600.14 L176.44 598.93 L176.67 601.65 L176.91 601 L177.15 597.85 L177.38 598.36 L177.62 603.73 L177.86 602.04 L178.09 603.33 L178.33 601.14 L178.57 601.68 L178.8 601.63 L179.04 601.94 L179.27 600.55 L179.51 601.03 L179.75 601.74 L179.98 601.08 L180.22 599.99 L180.46 601.23 L180.69 599.09 L180.93 601.95 L181.17 600.28 L181.4 600.77 L181.64 598.44 L181.88 600.57 L182.11 601.4 L182.35 602.63 L182.59 598.8 L182.82 599.3 L183.06 601.74 L183.3 601.69 L183.53 602.54 L183.77 599.67 L184.01 600.16 L184.24 603.58 L184.48 601.92 L184.72 600.48 L184.95 601.23 L185.19 600.93 L185.43 601.65 L185.66 601.55 L185.9 601.56 L186.13 602.83 L186.37 601.96 L186.61 601.95 L186.84 602.27 L187.08 603.29 L187.32 604.13 L187.55 602.85 L187.79 601.7 L188.03 605.58 L188.26 604.55 L188.5 601.79 L188.74 601.46 L188.97 603.52 L189.21 601.61 L189.45 604.05 L189.68 604.71 L189.92 601.45 L190.16 603.46 L190.39 603.94 L190.63 606.03 L190.87 605.99 L191.1 606.25 L191.34 605.06 L191.57 606.91 L191.81 603.84 L192.05 604.68 L192.28 605.36 L192.52 605.69 L192.76 604.08 L192.99 602.55 L193.23 604.6 L193.47 602.75 L193.7 602.16 L193.94 602.37 L194.18 603.86 L194.41 606.77 L194.65 605.03 L194.89 605.9 L195.12 605.47 L195.36 608.09 L195.6 606.99 L195.83 605.99 L196.07 607.22 L196.31 606.11 L196.54 603.99 L196.78 605.19 L197.02 606.86 L197.25 603.51 L197.49 608.3 L197.72 608.42 L197.96 606.77 L198.2 607.53 L198.43 610.04 L198.67 607.61 L198.91 606.03 L199.14 607.62 L199.38 605.24 L199.62 605.69 L199.85 604.97 L200.09 608.27 L200.33 607.47 L200.56 605.11 L200.8 603.77 L201.04 604.22 L201.27 606.12 L201.51 606.56 L201.75 607.8 L201.98 606 L202.22 607.72 L202.46 607.28 L202.69 610 L202.93 610.24 L203.17 606.06 L203.4 606.86 L203.64 606.96 L203.88 610.16 L204.11 608.49 L204.35 605.19 L204.58 608.73 L204.82 611.16 L205.06 609.15 L205.29 608.97 L205.53 608.53 L205.77 609.78 L206 610.39 L206.24 610.48 L206.48 608.11 L206.71 608.21 L206.95 607.15 L207.19 609.3 L207.42 607.91 L207.66 608.82 L207.9 608.48 L208.13 607.29 L208.37 608.1 L208.61 608.92 L208.84 610.96 L209.08 609.46 L209.32 608.03 L209.55 609.42 L209.79 609.2 L210.03 611.4 L210.26 611.63 L210.5 609.48 L210.73 607.6 L210.97 609.08 L211.21 611.42 L211.44 610.59 L211.68 611.89 L211.92 610.7 L212.15 607.43 L212.39 608.46 L212.63 609.45 L212.86 608.28 L213.1 609.76 L213.34 609.39 L213.57 609.47 L213.81 609.22 L214.05 611.68 L214.28 609.72 L214.52 608.85 L214.76 612.73 L214.99 614.7 L215.23 613.04 L215.47 609.37 L215.7 610.05 L215.94 609.47 L216.18 609.46 L216.41 609.06 L216.65 610.97 L216.88 611.6 L217.12 610.6 L217.36 609.98 L217.59 609.85 L217.83 610.16 L218.07 611.39 L218.3 609.77 L218.54 610.08 L218.78 609.45 L219.01 614.02 L219.25 610.99 L219.49 614.52 L219.72 612.31 L219.96 612.73 L220.2 611.89 L220.43 612.42 L220.67 612.44 L220.91 611.82 L221.14 611.45 L221.38 612.87 L221.62 615.7 L221.85 614.42 L222.09 612.28 L222.32 613.4 L222.56 612.16 L222.8 612.82 L223.03 613.85 L223.27 611.48 L223.51 610.04 L223.74 611.91 L223.98 612.54 L224.22 611.47 L224.45 614.16 L224.69 614.54 L224.93 612.07 L225.16 611.56 L225.4 613.26 L225.64 614.28 L225.87 613.19 L226.11 615.18 L226.35 614.72 L226.58 614.25 L226.82 617.07 L227.06 614.07 L227.29 612.84 L227.53 612.05 L227.77 615.13 L228 616.05 L228.24 615.8 L228.47 616.4 L228.71 612.21 L228.95 614.8 L229.18 614.87 L229.42 614.25 L229.66 613.75 L229.89 612.3 L230.13 615.2 L230.37 613.65 L230.6 614.12 L230.84 616.08 L231.08 615.06 L231.31 616.81 L231.55 613.45 L231.79 615.44 L232.02 613.88 L232.26 612.99 L232.5 615.27 L232.73 616.48 L232.97 615.59 L233.21 616.89 L233.44 614.81 L233.68 615.09 L233.92 616.47 L234.15 616.9 L234.39 615.24 L234.62 617.57 L234.86 614.3 L235.1 616.46 L235.33 616.48 L235.57 617.5 L235.81 614.55 L236.04 614.62 L236.28 614.06 L236.52 614.77 L236.75 615.8 L236.99 614.11 L237.23 614.91 L237.46 615.54 L237.7 615.62 L237.94 615.49 L238.17 616.09 L238.41 616.93 L238.65 619.13 L238.88 615.18 L239.12 618.23 L239.36 620.46 L239.59 619.4 L239.83 615.64 L240.07 615.29 L240.3 617.59 L240.54 617.32 L240.78 617.64 L241.01 620.35 L241.25 619.2 L241.48 618.03 L241.72 616.53 L241.96 619.13 L242.19 621.45 L242.43 621.42 L242.67 619 L242.9 618.52 L243.14 618.31 L243.38 618.29 L243.61 618.99 L243.85 620.57 L244.09 618.83 L244.32 618.35 L244.56 617.98 L244.8 617.05 L245.03 619.95 L245.27 622.43 L245.51 622.63 L245.74 617.72 L245.98 619.96 L246.22 619.1 L246.45 619.38 L246.69 618.56 L246.93 615.14 L247.16 618.74 L247.4 619.6 L247.63 620.48 L247.87 619.75 L248.11 619.18 L248.34 620.91 L248.58 618.65 L248.82 618.11 L249.05 618.85 L249.29 619.85 L249.53 620.39 L249.76 622.41 L250 620.23 L250.24 621.57 L250.47 621.48 L250.71 619.59 L250.95 621.38 L251.18 621.55 L251.42 619.89 L251.66 618.09 L251.89 620.71 L252.13 619.4 L252.37 621.2 L252.6 620.55 L252.84 620.24 L253.07 622.21 L253.31 620.21 L253.55 618.58 L253.78 620.24 L254.02 620.58 L254.26 622.55 L254.49 619.56 L254.73 620.71 L254.97 622.83 L255.2 621.05 L255.44 623.25 L255.68 623.09 L255.91 624.87 L256.15 621.15 L256.39 618.85 L256.62 621.63 L256.86 622.66 L257.1 622.96 L257.33 623.09 L257.57 621.77 L257.81 620.23 L258.04 622.79 L258.28 621.92 L258.52 624.44 L258.75 621.23 L258.99 622.14 L259.23 623.25 L259.46 620.92 L259.7 622.16 L259.93 620.81 L260.17 620.73 L260.41 620.02 L260.64 622.82 L260.88 622.77 L261.12 622.39 L261.35 622.97 L261.59 621.07 L261.83 623.18 L262.06 621.83 L262.3 620.93 L262.54 624.72 L262.77 624.85 L263.01 624.84 L263.25 624.41 L263.48 623.13 L263.72 623.39 L263.96 623.2 L264.19 623.81 L264.43 623.58 L264.67 622.82 L264.9 622.26 L265.14 623.95 L265.38 623.74 L265.61 624.48 L265.85 624.05 L266.08 625.45 L266.32 623.04 L266.56 622.56 L266.79 623.38 L267.03 624.38 L267.27 624.47 L267.5 624.77 L267.74 625.97 L267.98 622.53 L268.21 619.33 L268.45 623.74 L268.69 625.22 L268.92 623.64 L269.16 623.07 L269.4 625.54 L269.63 626.85 L269.87 624.33 L270.11 626.55 L270.34 623.19 L270.58 624.37 L270.82 624.09 L271.05 624.12 L271.29 624.83 L271.52 624.59 L271.76 624.71 L272 622.9 L272.23 623.91 L272.47 624.21 L272.71 624.94 L272.94 625.34 L273.18 625.62 L273.42 624.84 L273.65 622.37 L273.89 622.4 L274.13 623.49 L274.36 622.15 L274.6 622.47 L274.84 623.55 L275.07 624.36 L275.31 625.75 L275.55 624.59 L275.78 624.85 L276.02 626.46 L276.26 626.64 L276.49 622.78 L276.73 623.49 L276.97 623.38 L277.2 623.68 L277.44 624.57 L277.67 623.74 L277.91 622.68 L278.15 623.98 L278.38 623.41 L278.62 622.57 L278.86 624.09 L279.09 623.81 L279.33 624.8 L279.57 623.49 L279.8 624.2 L280.04 622.58 L280.28 624.32 L280.51 621.92 L280.75 623.5 L280.99 624.68 L281.22 625.15 L281.46 623.38 L281.7 624.6 L281.93 621.75 L282.17 621.38 L282.41 622.16 L282.64 624.79 L282.88 623.98 L283.12 624.53 L283.35 626.04 L283.59 623.81 L283.82 620.83 L284.06 623.12 L284.3 622.25 L284.53 621.35 L284.77 623.77 L285.01 623.83 L285.24 623.09 L285.48 622.56 L285.72 624.34 L285.95 623.27 L286.19 623.27 L286.43 621.95 L286.66 624.61 L286.9 624.25 L287.14 624.03 L287.37 623.7 L287.61 622.28 L287.85 623.44 L288.08 619.67 L288.32 622.59 L288.56 621.7 L288.79 621.17 L289.03 621.07 L289.27 622.49 L289.5 623.78 L289.74 623.54 L289.98 622.34 L290.21 622.61 L290.45 622.16 L290.68 622.03 L290.92 623.79 L291.16 624.49 L291.39 621.83 L291.63 623.29 L291.87 625.17 L292.1 621.61 L292.34 623.7 L292.58 624.57 L292.81 622.56 L293.05 624.45 L293.29 624.81 L293.52 622.6 L293.76 624.13 L294 620.61 L294.23 622.35 L294.47 619.81 L294.71 622.07 L294.94 622.97 L295.18 624.15 L295.42 624.07 L295.65 624.4 L295.89 623.95 L296.12 622.85 L296.36 624.97 L296.6 625.31 L296.83 626.9 L297.07 623.13 L297.31 623.81 L297.54 624.06 L297.78 624.3 L298.02 623.2 L298.25 623.75 L298.49 623.4 L298.73 624.61 L298.96 625.08 L299.2 625.27 L299.44 627.6 L299.67 624.98 L299.91 627.35 L300.15 627.59 L300.38 625.79 L300.62 625.99 L300.86 625.27 L301.09 624.07 L301.33 623.57 L301.57 624.06 L301.8 626.23 L302.04 624.42 L302.27 627.32 L302.51 627.51 L302.75 626.42 L302.98 627.54 L303.22 627.93 L303.46 628.44 L303.69 626.73 L303.93 630.65 L304.17 627.82 L304.4 627.18 L304.64 628.36 L304.88 628.14 L305.11 629.91 L305.35 628.26 L305.59 625.55 L305.82 629.2 L306.06 627.92 L306.3 629.18 L306.53 630.01 L306.77 630.53 L307.01 630.44 L307.24 631.67 L307.48 632.28 L307.72 629.18 L307.95 630.04 L308.19 629.77 L308.42 630.01 L308.66 629.97 L308.9 632.26 L309.13 632.48 L309.37 630.86 L309.61 629.96 L309.84 632.08 L310.08 632.26 L310.32 632.93 L310.55 631.33 L310.79 631.18 L311.03 631.54 L311.26 632.47 L311.5 631.78 L311.74 631.94 L311.97 632.91 L312.21 632.14 L312.45 633.03 L312.68 631.64 L312.92 631.58 L313.16 633.04 L313.39 632.24 L313.63 632.57 L313.87 633.55 L314.1 634.13 L314.34 635.14 L314.57 634.91 L314.81 633.23 L315.05 631.69 L315.28 633.12 L315.52 632.76 L315.76 632.42 L315.99 631.81 L316.23 631.95 L316.47 631.14 L316.7 631.34 L316.94 633.05 L317.18 632.38 L317.41 635.09 L317.65 633.69 L317.89 632.97 L318.12 632.1 L318.36 632.73 L318.6 631.71 L318.83 630.81 L319.07 632.82 L319.31 633.19 L319.54 632.44 L319.78 631.91 L320.02 632.09 L320.25 631.39 L320.49 633.32 L320.73 631.85 L320.96 630.9 L321.2 630.61 L321.43 631.24 L321.67 632.17 L321.91 631.79 L322.14 632.15 L322.38 633.9 L322.62 633.42 L322.85 632.6 L323.09 632.81 L323.33 633.3 L323.56 632.67 L323.8 632.57 L324.04 632.02 L324.27 631.92 L324.51 631.61 L324.75 630.57 L324.98 631.11 L325.22 630.97 L325.46 632.68 L325.69 635.15 L325.93 633.17 L326.17 631.26 L326.4 631.67 L326.64 632.1 L326.88 632.9 L327.11 630.79 L327.35 631.59 L327.58 630.98 L327.82 629.75 L328.06 629.94 L328.29 628.08 L328.53 630.04 L328.77 629.48 L329 629.56 L329.24 631.09 L329.48 630.88 L329.71 631.55 L329.95 632.39 L330.19 631.31 L330.42 632.22 L330.66 629.94 L330.9 631.9 L331.13 632.47 L331.37 632.08 L331.61 632.7 L331.84 632.4 L332.08 633.11 L332.32 634.34 L332.55 635.94 L332.79 635.38 L333.02 632.26 L333.26 632.43 L333.5 632.9 L333.73 633.82 L333.97 633.91 L334.21 633.56 L334.44 635.33 L334.68 635.43 L334.92 635.65 L335.15 633.57 L335.39 635.37 L335.63 633.77 L335.86 635.02 L336.1 632.24" fill="none" stroke="#2fae6e" stroke-width="1.25" stroke-linejoin="round" clip-path="url(#cb)"/>
<rect x="28.6" y="429.8" width="307.4" height="229.8" fill="none" stroke="#3a3a3a" stroke-width="0.9"/>
<path d="M34.75 659.6v-2.4M65.5 659.6v-4M96.25 659.6v-2.4M127 659.6v-4M157.75 659.6v-2.4M188.5 659.6v-4M219.25 659.6v-2.4M250 659.6v-4M280.75 659.6v-2.4M311.5 659.6v-4M28.6 659.5h4M28.6 627.62h2.4M28.6 595.75h4M28.6 563.88h2.4M28.6 532h4M28.6 500.12h2.4M28.6 468.25h4M28.6 436.38h2.4" stroke="#3a3a3a" stroke-width="0.9" fill="none"/>
<text x="65.5" y="672.2" font-size="8.9" fill="#262626" text-anchor="middle" font-weight="normal" stroke="#262626" stroke-width="0.16">500</text>
<text x="127" y="672.2" font-size="8.9" fill="#262626" text-anchor="middle" font-weight="normal" stroke="#262626" stroke-width="0.16">550</text>
<text x="188.5" y="672.2" font-size="8.9" fill="#262626" text-anchor="middle" font-weight="normal" stroke="#262626" stroke-width="0.16">600</text>
<text x="250" y="672.2" font-size="8.9" fill="#262626" text-anchor="middle" font-weight="normal" stroke="#262626" stroke-width="0.16">650</text>
<text x="311.5" y="672.2" font-size="8.9" fill="#262626" text-anchor="middle" font-weight="normal" stroke="#262626" stroke-width="0.16">700</text>
<text x="23.8" y="662.8" font-size="8.9" fill="#262626" text-anchor="end" font-weight="normal" stroke="#262626" stroke-width="0.16">0</text>
<text x="23.8" y="599.05" font-size="8.9" fill="#262626" text-anchor="end" font-weight="normal" stroke="#262626" stroke-width="0.16">25</text>
<text x="23.8" y="535.3" font-size="8.9" fill="#262626" text-anchor="end" font-weight="normal" stroke="#262626" stroke-width="0.16">50</text>
<text x="23.8" y="470.95" font-size="8.9" fill="#262626" text-anchor="end" font-weight="normal" stroke="#262626" stroke-width="0.16">75</text>
<text x="182.6" y="689" font-size="11.2" fill="#1a1a1a" text-anchor="middle" font-weight="normal" stroke="#1a1a1a" stroke-width="0.16">Wavelength (nm)</text>
<text transform="translate(8.7 545) rotate(-90)" font-size="11.1" fill="#1a1a1a" stroke="#1a1a1a" stroke-width="0.16" text-anchor="middle">Intensity (a.u.)</text>
<line x1="177" y1="437.5" x2="202" y2="437.5" stroke="#4b4b4b" stroke-width="1.0" stroke-linecap="round"/>
<text x="205.2" y="441.4" font-size="11.1" fill="#1a1a1a" text-anchor="start" font-weight="normal" stroke="#1a1a1a" stroke-width="0.16">CdS</text>
<line x1="177" y1="451.3" x2="202" y2="451.3" stroke="#ea3a40" stroke-width="1.0" stroke-linecap="round"/>
<text x="205.2" y="455.2" font-size="11.1" fill="#1a1a1a" text-anchor="start" font-weight="normal" stroke="#1a1a1a" stroke-width="0.16">CdS + 10 mg BA</text>
<line x1="177" y1="465" x2="202" y2="465" stroke="#1f6fe0" stroke-width="1.0" stroke-linecap="round"/>
<text x="205.2" y="468.9" font-size="11.1" fill="#1a1a1a" text-anchor="start" font-weight="normal" stroke="#1a1a1a" stroke-width="0.16">0.3% Ni/CdS</text>
<line x1="177" y1="478.3" x2="202" y2="478.3" stroke="#2fae6e" stroke-width="1.0" stroke-linecap="round"/>
<text x="205.2" y="482.2" font-size="11.1" fill="#1a1a1a" text-anchor="start" font-weight="normal" stroke="#1a1a1a" stroke-width="0.16">0.3% Ni/CdS + 10 mg BA</text>
</g>
<g id="panel-c">
<text x="357.8" y="435.4" font-size="15.8" fill="#111" text-anchor="start" font-weight="normal" stroke="#111" stroke-width="0.22">c</text>
<rect x="389.6" y="429.8" width="302.1" height="232.1" fill="none" stroke="#3a3a3a" stroke-width="0.9"/>
<path d="M389.6 661.9h4M389.6 640.77h2.4M389.6 619.65h4M389.6 598.52h2.4M389.6 577.4h4M389.6 556.27h2.4M389.6 535.15h4M389.6 514.02h2.4M389.6 492.9h4M389.6 471.77h2.4M389.6 450.65h4M490.5 661.9v-2.4M591 661.9v-2.4" stroke="#3a3a3a" stroke-width="0.9" fill="none"/>
<text x="384.6" y="665.2" font-size="8.8" fill="#262626" text-anchor="end" font-weight="normal" stroke="#262626" stroke-width="0.16">0%</text>
<text x="384.6" y="622.95" font-size="8.8" fill="#262626" text-anchor="end" font-weight="normal" stroke="#262626" stroke-width="0.16">20%</text>
<text x="384.6" y="580.7" font-size="8.8" fill="#262626" text-anchor="end" font-weight="normal" stroke="#262626" stroke-width="0.16">40%</text>
<text x="384.6" y="538.45" font-size="8.8" fill="#262626" text-anchor="end" font-weight="normal" stroke="#262626" stroke-width="0.16">60%</text>
<text x="384.6" y="496.2" font-size="8.8" fill="#262626" text-anchor="end" font-weight="normal" stroke="#262626" stroke-width="0.16">80%</text>
<text x="384.6" y="453.95" font-size="8.8" fill="#262626" text-anchor="end" font-weight="normal" stroke="#262626" stroke-width="0.16">100%</text>
<text transform="translate(359.8 551.3) rotate(-90)" font-size="11.45" fill="#1a1a1a" stroke="#1a1a1a" stroke-width="0.16" text-anchor="middle">Conversion/Yield Rate (%)</text>
<rect x="399.6" y="626.2" width="20.15" height="35.7" fill="#4d4d4d" stroke="#2a2a2a" stroke-width="0.8"/>
<rect x="419.75" y="657.46" width="20.15" height="4.44" fill="#ef3b42" stroke="#5e2326" stroke-width="0.8"/>
<rect x="439.9" y="546.56" width="20.15" height="115.34" fill="#1b6edc" stroke="#1a3358" stroke-width="0.8"/>
<rect x="460.05" y="604.44" width="20.15" height="57.46" fill="#34aa6b" stroke="#1f4a33" stroke-width="0.8"/>
<rect x="500.4" y="573.6" width="20.15" height="88.3" fill="#4d4d4d" stroke="#2a2a2a" stroke-width="0.8"/>
<rect x="520.55" y="619.02" width="20.15" height="42.88" fill="#ef3b42" stroke="#5e2326" stroke-width="0.8"/>
<rect x="540.7" y="629.58" width="20.15" height="32.32" fill="#1b6edc" stroke="#1a3358" stroke-width="0.8"/>
<rect x="560.85" y="626.62" width="20.15" height="35.28" fill="#34aa6b" stroke="#1f4a33" stroke-width="0.8"/>
<rect x="601.2" y="597.89" width="20.15" height="64.01" fill="#4d4d4d" stroke="#2a2a2a" stroke-width="0.8"/>
<rect x="641.5" y="655.14" width="20.15" height="6.76" fill="#1b6edc" stroke="#1a3358" stroke-width="0.8"/>
<rect x="661.65" y="660" width="20.15" height="1.9" fill="#34aa6b" stroke="#1f4a33" stroke-width="0.8"/>
<text x="440.1" y="677.6" font-size="9.05" fill="#1a1a1a" text-anchor="middle" font-weight="normal" stroke="#1a1a1a" stroke-width="0.16">blank</text>
<text x="540.8" y="677.6" font-size="9.05" fill="#1a1a1a" text-anchor="middle" font-weight="normal" stroke="#1a1a1a" stroke-width="0.16">Electron scavenger</text>
<text x="641.6" y="677.6" font-size="9.05" fill="#1a1a1a" text-anchor="middle" font-weight="normal" stroke="#1a1a1a" stroke-width="0.16">Hole scavenger</text>
<line x1="443.6" y1="451.3" x2="537.4" y2="451.3" stroke="#1a1a1a" stroke-width="0.95" stroke-linecap="round"/>
<line x1="543.12" y1="454.21" x2="639.38" y2="585.99" stroke="#1a1a1a" stroke-width="0.95" stroke-linecap="round"/>
<rect x="437.9" y="449.2" width="4.2" height="4.2" fill="#000"/>
<rect x="538.9" y="449.2" width="4.2" height="4.2" fill="#000"/>
<rect x="639.4" y="586.8" width="4.2" height="4.2" fill="#000"/>
<rect x="395.2" y="435.1" width="17.8" height="8.2" fill="#4d4d4d" stroke="#222" stroke-width="0.8"/>
<text x="415.8" y="442.1" font-size="7.9" fill="#1a1a1a" text-anchor="start" font-weight="normal" stroke="#1a1a1a" stroke-width="0.16">BH</text>
<rect x="429.6" y="435.1" width="17.8" height="8.2" fill="#ef3b42" stroke="#222" stroke-width="0.8"/>
<text x="450" y="442.1" font-size="7.9" fill="#1a1a1a" text-anchor="start" font-weight="normal" stroke="#1a1a1a" stroke-width="0.16">DOB</text>
<rect x="469.6" y="435.1" width="17.8" height="8.2" fill="#1b6edc" stroke="#222" stroke-width="0.8"/>
<text x="490" y="442.1" font-size="7.9" fill="#1a1a1a" text-anchor="start" font-weight="normal" stroke="#1a1a1a" stroke-width="0.16">BZ</text>
<rect x="503.2" y="435.1" width="17.8" height="8.2" fill="#34aa6b" stroke="#222" stroke-width="0.8"/>
<text x="523.8" y="442.1" font-size="7.9" fill="#1a1a1a" text-anchor="start" font-weight="normal" stroke="#1a1a1a" stroke-width="0.16">HB</text>
<line x1="537.2" y1="439.2" x2="543.2" y2="439.2" stroke="#1a1a1a" stroke-width="0.8" stroke-linecap="round"/>
<line x1="549.4" y1="439.2" x2="555.2" y2="439.2" stroke="#1a1a1a" stroke-width="0.8" stroke-linecap="round"/>
<rect x="544.3" y="437.2" width="4" height="4" fill="#000"/>
<text x="558" y="442.1" font-size="7.9" fill="#1a1a1a" text-anchor="start" font-weight="normal" stroke="#1a1a1a" stroke-width="0.16">BA</text>
</g>
</svg></body></html>
